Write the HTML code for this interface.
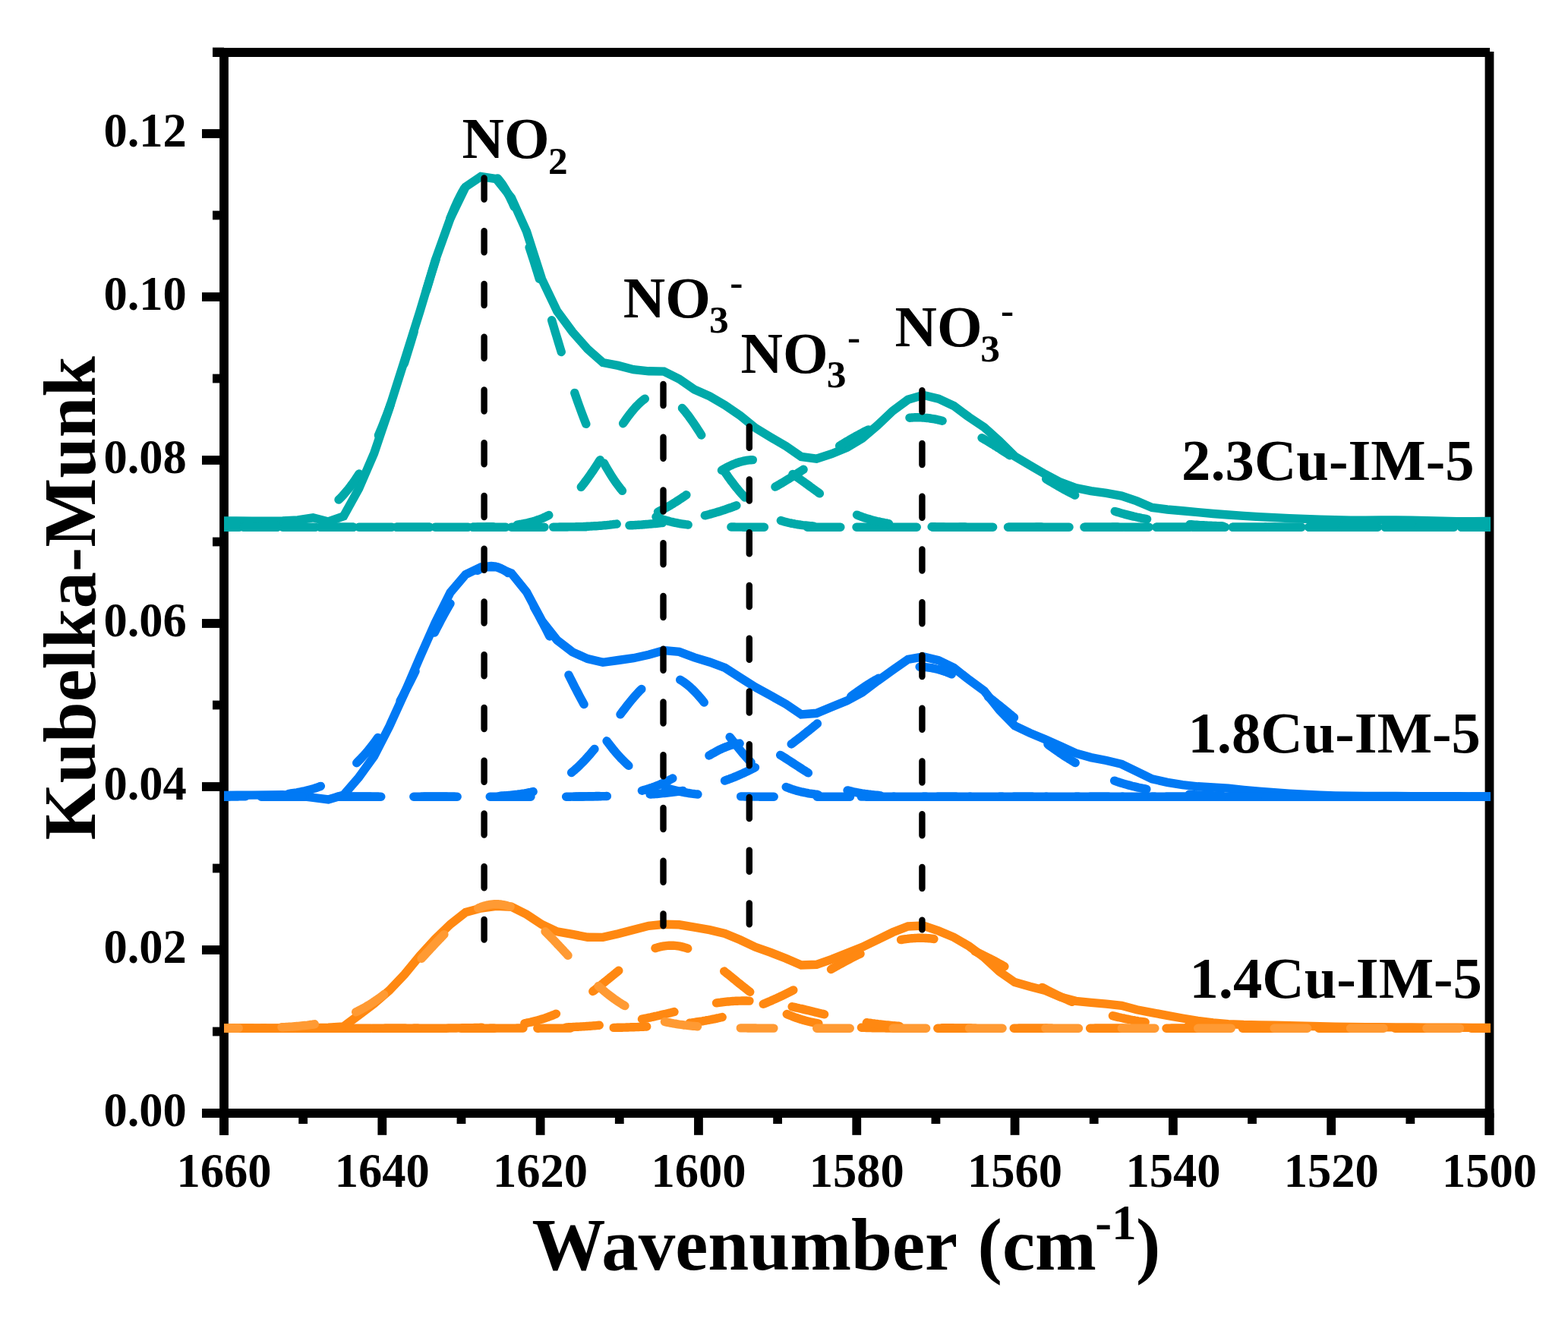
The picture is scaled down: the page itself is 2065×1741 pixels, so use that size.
<!DOCTYPE html>
<html><head><meta charset="utf-8"><title>Kubelka-Munk spectra</title><style>html,body{margin:0;padding:0;background:#fff;}svg{display:block;}</style></head><body>
<svg xmlns="http://www.w3.org/2000/svg" width="2065" height="1741" viewBox="0 0 2065 1741">
<rect width="2065" height="1741" fill="#fff"/>
<g stroke="#000" stroke-width="11.8" fill="none" stroke-linecap="butt">
<line x1="295" y1="63" x2="295" y2="1494.8"/>
<line x1="1961.5" y1="68" x2="1961.5" y2="1494.8"/>
<line x1="280" y1="69" x2="1962" y2="69"/>
<line x1="266" y1="1466" x2="1967.4" y2="1466"/>
<line x1="266" y1="1466.00" x2="295" y2="1466.00"/>
<line x1="280" y1="1358.50" x2="295" y2="1358.50"/>
<line x1="266" y1="1251.00" x2="295" y2="1251.00"/>
<line x1="280" y1="1143.50" x2="295" y2="1143.50"/>
<line x1="266" y1="1036.00" x2="295" y2="1036.00"/>
<line x1="280" y1="928.50" x2="295" y2="928.50"/>
<line x1="266" y1="821.00" x2="295" y2="821.00"/>
<line x1="280" y1="713.50" x2="295" y2="713.50"/>
<line x1="266" y1="606.00" x2="295" y2="606.00"/>
<line x1="280" y1="498.50" x2="295" y2="498.50"/>
<line x1="266" y1="391.00" x2="295" y2="391.00"/>
<line x1="280" y1="283.50" x2="295" y2="283.50"/>
<line x1="266" y1="176.00" x2="295" y2="176.00"/>
<line x1="280" y1="68.50" x2="295" y2="68.50"/>
<line x1="295.00" y1="1466" x2="295.00" y2="1494.8"/>
<line x1="399.16" y1="1466" x2="399.16" y2="1480"/>
<line x1="503.31" y1="1466" x2="503.31" y2="1494.8"/>
<line x1="607.47" y1="1466" x2="607.47" y2="1480"/>
<line x1="711.62" y1="1466" x2="711.62" y2="1494.8"/>
<line x1="815.78" y1="1466" x2="815.78" y2="1480"/>
<line x1="919.94" y1="1466" x2="919.94" y2="1494.8"/>
<line x1="1024.09" y1="1466" x2="1024.09" y2="1480"/>
<line x1="1128.25" y1="1466" x2="1128.25" y2="1494.8"/>
<line x1="1232.41" y1="1466" x2="1232.41" y2="1480"/>
<line x1="1336.56" y1="1466" x2="1336.56" y2="1494.8"/>
<line x1="1440.72" y1="1466" x2="1440.72" y2="1480"/>
<line x1="1544.88" y1="1466" x2="1544.88" y2="1494.8"/>
<line x1="1649.03" y1="1466" x2="1649.03" y2="1480"/>
<line x1="1753.19" y1="1466" x2="1753.19" y2="1494.8"/>
<line x1="1857.34" y1="1466" x2="1857.34" y2="1480"/>
<line x1="1961.50" y1="1466" x2="1961.50" y2="1494.8"/>
</g>
<g font-family="Liberation Serif, Times New Roman, serif" font-weight="bold" fill="#000">
<text x="245.8" y="1483.3" font-size="62.5" text-anchor="end">0.00</text>
<text x="245.8" y="1268.3" font-size="62.5" text-anchor="end">0.02</text>
<text x="245.8" y="1053.3" font-size="62.5" text-anchor="end">0.04</text>
<text x="245.8" y="838.3" font-size="62.5" text-anchor="end">0.06</text>
<text x="245.8" y="623.3" font-size="62.5" text-anchor="end">0.08</text>
<text x="245.8" y="408.3" font-size="62.5" text-anchor="end">0.10</text>
<text x="245.8" y="193.3" font-size="62.5" text-anchor="end">0.12</text>
<text x="295.0" y="1562.8" font-size="62.5" text-anchor="middle">1660</text>
<text x="503.3" y="1562.8" font-size="62.5" text-anchor="middle">1640</text>
<text x="711.6" y="1562.8" font-size="62.5" text-anchor="middle">1620</text>
<text x="919.9" y="1562.8" font-size="62.5" text-anchor="middle">1600</text>
<text x="1128.2" y="1562.8" font-size="62.5" text-anchor="middle">1580</text>
<text x="1336.6" y="1562.8" font-size="62.5" text-anchor="middle">1560</text>
<text x="1544.9" y="1562.8" font-size="62.5" text-anchor="middle">1540</text>
<text x="1753.2" y="1562.8" font-size="62.5" text-anchor="middle">1520</text>
<text x="1961.5" y="1562.8" font-size="62.5" text-anchor="middle">1500</text>
</g>
<defs><clipPath id="pc"><rect x="295" y="0" width="1668" height="1741"/></clipPath></defs>
<g clip-path="url(#pc)">
<path d="M295.0 686.0L311.8 686.0L331.9 686.1L352.0 686.1L372.1 685.9L392.2 685.0L412.3 681.8L432.4 686.9L452.5 679.8L472.6 643.5L492.6 597.1L512.7 537.8L532.8 474.4L552.9 410.4L573.0 343.5L593.1 287.5L613.2 246.0L633.3 232.5L653.4 235.5L673.5 260.5L693.5 304.9L713.6 367.6L733.7 409.7L753.8 437.0L773.9 459.7L794.0 477.5L814.1 481.4L834.2 486.7L854.3 488.8L874.4 489.1L894.5 499.1L914.5 512.9L934.6 521.8L954.7 533.5L974.8 547.4L994.9 563.6L1015.0 575.8L1035.1 587.5L1055.2 601.5L1075.3 604.1L1095.3 597.7L1115.4 589.4L1135.5 577.4L1155.6 560.2L1175.7 541.1L1195.8 526.3L1215.9 520.3L1236.0 525.1L1256.1 534.5L1276.2 549.4L1296.2 562.7L1316.3 580.8L1336.4 600.9L1356.5 612.9L1376.6 624.6L1396.7 635.2L1416.8 642.6L1436.9 646.6L1457.0 649.4L1477.1 653.1L1497.2 659.9L1517.2 668.4L1537.3 671.0L1557.4 672.8L1577.5 674.7L1597.6 676.5L1617.7 678.0L1637.8 679.4L1657.9 680.6L1678.0 681.6L1698.0 682.6L1718.1 683.4L1738.2 684.1L1758.3 684.7L1778.4 685.1L1798.5 685.1L1818.6 685.0L1838.7 684.9L1858.8 685.1L1878.9 685.6L1899.0 686.2L1919.0 686.6L1939.1 686.6L1959.2 686.5L1963.0 686.5" fill="none" stroke="#00A9A9" stroke-width="11.4" stroke-linejoin="miter" stroke-miterlimit="3" stroke-linecap="butt"/>
<path d="M381.0 689.5L383.0 689.2L385.0 688.8L387.0 688.4L389.0 688.0L391.0 687.5L393.0 687.1L395.0 686.6L397.0 686.0L399.0 685.4L401.0 684.8L403.0 684.2L405.0 683.5L407.0 682.8L409.0 682.0L411.0 681.2L413.0 680.4L415.0 679.5L417.0 678.6L419.0 677.6L421.0 676.5L423.0 675.4L425.0 674.3L427.0 673.1L429.0 671.8L431.0 670.4L433.0 669.0L435.0 667.6L437.0 666.0L439.0 664.4L441.0 662.7L443.0 660.9L445.0 659.1L447.0 657.2L449.0 655.2L451.0 653.1L453.0 650.9L455.0 648.6L457.0 646.2L459.0 643.8L461.0 641.2L463.0 638.5L465.0 635.8L467.0 632.9L469.0 629.9L471.0 626.9L473.0 623.7L475.0 620.4L477.0 617.0L479.0 613.5L481.0 609.8L483.0 606.1L485.0 602.3L487.0 598.3L489.0 594.2L491.0 590.0L493.0 585.7L495.0 581.2L497.0 576.7L499.0 572.0L501.0 567.2L503.0 562.4L505.0 557.3L507.0 552.2L509.0 547.0L511.0 541.7L513.0 536.2L515.0 530.7L517.0 525.0L519.0 519.3L521.0 513.5L523.0 507.5L525.0 501.5L527.0 495.4L529.0 489.3L531.0 483.0L533.0 476.7L535.0 470.3L537.0 463.9L539.0 457.4L541.0 450.8L543.0 444.2L545.0 437.6L547.0 431.0L549.0 424.3L551.0 417.6L553.0 410.9L555.0 404.2L557.0 397.5L559.0 390.8L561.0 384.2L563.0 377.5L565.0 371.0L567.0 364.4L569.0 357.9L571.0 351.5L573.0 345.1L575.0 338.9L577.0 332.7L579.0 326.6L581.0 320.6L583.0 314.7L585.0 309.0L587.0 303.4L589.0 297.9L591.0 292.5L593.0 287.4L595.0 282.3L597.0 277.5L599.0 272.8L601.0 268.3L603.0 264.0L605.0 259.9L607.0 256.0L609.0 252.3L611.0 248.9L613.0 245.6L615.0 242.6L617.0 239.8L619.0 237.2L621.0 234.9L623.0 232.9L625.0 231.0L627.0 229.5L629.0 228.1L631.0 227.1L633.0 226.3L635.0 225.7L637.0 225.4L639.0 225.4L641.0 225.7L643.0 226.1L645.0 226.9L647.0 227.9L649.0 229.2L651.0 230.7L653.0 232.5L655.0 234.5L657.0 236.8L659.0 239.3L661.0 242.0L663.0 245.0L665.0 248.2L667.0 251.6L669.0 255.3L671.0 259.1L673.0 263.2L675.0 267.4L677.0 271.9L679.0 276.5L681.0 281.4L683.0 286.3L685.0 291.5L687.0 296.8L689.0 302.3L691.0 307.8L693.0 313.6L695.0 319.4L697.0 325.4L699.0 331.5L701.0 337.6L703.0 343.9L705.0 350.2L707.0 356.6L709.0 363.1L711.0 369.6L713.0 376.2L715.0 382.8L717.0 389.5L719.0 396.2L721.0 402.9L723.0 409.6L725.0 416.3L727.0 423.0L729.0 429.6L731.0 436.3L733.0 442.9L735.0 449.5L737.0 456.1L739.0 462.6L741.0 469.0L743.0 475.4L745.0 481.8L747.0 488.0L749.0 494.2L751.0 500.3L753.0 506.3L755.0 512.3L757.0 518.1L759.0 523.9L761.0 529.6L763.0 535.1L765.0 540.6L767.0 545.9L769.0 551.2L771.0 556.3L773.0 561.4L775.0 566.3L777.0 571.1L779.0 575.8L781.0 580.3L783.0 584.8L785.0 589.1L787.0 593.4L789.0 597.5L791.0 601.5L793.0 605.3L795.0 609.1L797.0 612.8L799.0 616.3L801.0 619.7L803.0 623.0L805.0 626.2L807.0 629.3L809.0 632.3L811.0 635.2L813.0 638.0L815.0 640.7L817.0 643.3L819.0 645.7L821.0 648.1L823.0 650.4L825.0 652.6L827.0 654.7L829.0 656.8L831.0 658.7L833.0 660.6L835.0 662.4L837.0 664.1L839.0 665.7L841.0 667.3L843.0 668.7L845.0 670.2L847.0 671.5L849.0 672.8L851.0 674.0L853.0 675.2L855.0 676.3L857.0 677.4L859.0 678.4L861.0 679.3L863.0 680.2L865.0 681.1L867.0 681.9L869.0 682.7L871.0 683.4L873.0 684.1L875.0 684.7L877.0 685.3L879.0 685.9L881.0 686.4L883.0 687.0L885.0 687.4L887.0 687.9L889.0 688.3L891.0 688.7L893.0 689.1L895.0 689.5L897.0 689.8L899.0 690.1L901.0 690.4L903.0 690.7L905.0 690.9L907.0 691.2L909.0 691.4L911.0 691.6L913.0 691.8L915.0 692.0L917.0 692.2L919.0 692.3L921.0 692.5L923.0 692.6L925.0 692.7L927.0 692.9L929.0 693.0L931.0 693.1L933.0 693.2L935.0 693.3L937.0 693.3L939.0 693.4L941.0 693.5L943.0 693.6L945.0 693.6L947.0 693.7L949.0 693.7L951.0 693.8L953.0 693.8L955.0 693.9L957.0 693.9L959.0 693.9L961.0 694.0L963.0 694.0L965.0 694.0L967.0 694.0L969.0 694.1L971.0 694.1L973.0 694.1L975.0 694.1L977.0 694.1L979.0 694.2L981.0 694.2L983.0 694.2L985.0 694.2L987.0 694.2L989.0 694.2L991.0 694.2L993.0 694.2L995.0 694.2L997.0 694.2L999.0 694.2L1001.0 694.2L1003.0 694.3L1005.0 694.3L1007.0 694.3L1009.0 694.3L1011.0 694.3L1013.0 694.3L1015.0 694.3L1017.0 694.3L1019.0 694.3L1021.0 694.3L1023.0 694.3L1025.0 694.3L1027.0 694.3L1029.0 694.3L1031.0 694.3L1033.0 694.3L1035.0 694.3L1037.0 694.3L1039.0 694.3L1041.0 694.3L1043.0 694.3L1045.0 694.3L1047.0 694.3L1049.0 694.3L1051.0 694.3L1053.0 694.3L1055.0 694.3L1057.0 694.3L1059.0 694.3L1061.0 694.3L1063.0 694.3L1065.0 694.3L1067.0 694.3L1069.0 694.3L1071.0 694.3L1073.0 694.3L1075.0 694.3L1077.0 694.3L1079.0 694.3L1081.0 694.3L1083.0 694.3L1085.0 694.3L1087.0 694.3L1089.0 694.3L1091.0 694.3L1093.0 694.3L1095.0 694.3L1097.0 694.3L1099.0 694.3L1101.0 694.3L1103.0 694.3L1105.0 694.3L1107.0 694.3L1109.0 694.3L1111.0 694.3L1113.0 694.3L1115.0 694.3L1117.0 694.3L1119.0 694.3L1121.0 694.3L1123.0 694.3L1125.0 694.3L1127.0 694.3L1129.0 694.3L1131.0 694.3L1133.0 694.3L1135.0 694.3L1137.0 694.3L1139.0 694.3L1141.0 694.3L1143.0 694.3L1145.0 694.3L1147.0 694.3L1149.0 694.3L1151.0 694.3L1153.0 694.3L1155.0 694.3L1157.0 694.3L1159.0 694.3L1161.0 694.3L1163.0 694.3L1165.0 694.3L1167.0 694.3L1169.0 694.3L1171.0 694.3L1173.0 694.3L1175.0 694.3L1177.0 694.3L1179.0 694.3L1181.0 694.3L1183.0 694.3L1185.0 694.3L1187.0 694.3L1189.0 694.3L1191.0 694.3L1193.0 694.3L1195.0 694.3L1197.0 694.3L1199.0 694.3L1201.0 694.3L1203.0 694.3L1205.0 694.3L1207.0 694.3L1209.0 694.3L1211.0 694.3L1213.0 694.3L1215.0 694.3L1217.0 694.3L1219.0 694.3L1221.0 694.3L1223.0 694.3L1225.0 694.3L1227.0 694.3L1229.0 694.3L1231.0 694.3L1233.0 694.3L1235.0 694.3L1237.0 694.3L1239.0 694.3L1241.0 694.3L1243.0 694.3L1245.0 694.3L1247.0 694.3L1249.0 694.3L1251.0 694.3L1253.0 694.3L1255.0 694.3L1257.0 694.3L1259.0 694.3L1261.0 694.3L1263.0 694.3L1265.0 694.3L1267.0 694.3L1269.0 694.3L1271.0 694.3L1273.0 694.3L1275.0 694.3L1277.0 694.3L1279.0 694.3L1281.0 694.3L1283.0 694.3L1285.0 694.3L1287.0 694.3L1289.0 694.3L1291.0 694.3L1293.0 694.3L1295.0 694.3L1297.0 694.3L1299.0 694.3L1301.0 694.3L1303.0 694.3L1305.0 694.3L1307.0 694.3L1309.0 694.3L1311.0 694.3L1313.0 694.3L1315.0 694.3L1317.0 694.3L1319.0 694.3L1321.0 694.3L1323.0 694.3L1325.0 694.3L1327.0 694.3L1329.0 694.3L1331.0 694.3L1333.0 694.3L1335.0 694.3L1337.0 694.3L1339.0 694.3L1341.0 694.3L1343.0 694.3L1345.0 694.3L1347.0 694.3L1349.0 694.3L1351.0 694.3L1353.0 694.3L1355.0 694.3L1357.0 694.3L1359.0 694.3L1361.0 694.3L1363.0 694.3L1365.0 694.3L1367.0 694.3L1369.0 694.3L1371.0 694.3L1373.0 694.3L1375.0 694.3L1377.0 694.3L1379.0 694.3L1381.0 694.3L1383.0 694.3L1385.0 694.3L1387.0 694.3L1389.0 694.3L1391.0 694.3L1393.0 694.3L1395.0 694.3L1397.0 694.3L1399.0 694.3L1401.0 694.3L1403.0 694.3L1405.0 694.3L1407.0 694.3L1409.0 694.3L1411.0 694.3L1413.0 694.3L1415.0 694.3L1417.0 694.3L1419.0 694.3L1421.0 694.3L1423.0 694.3L1425.0 694.3L1427.0 694.3L1429.0 694.3L1431.0 694.3L1433.0 694.3L1435.0 694.3L1437.0 694.3L1439.0 694.3L1441.0 694.3L1443.0 694.3L1445.0 694.3L1447.0 694.3L1449.0 694.3L1451.0 694.3L1453.0 694.3L1455.0 694.3L1457.0 694.3L1459.0 694.3L1461.0 694.3L1463.0 694.3L1465.0 694.3L1467.0 694.3L1469.0 694.3L1471.0 694.3L1473.0 694.3L1475.0 694.3L1477.0 694.3L1479.0 694.3" fill="none" stroke="#00A9A9" stroke-width="11.4" stroke-linecap="round" stroke-linejoin="round" stroke-dasharray="43.6 56.8" stroke-dashoffset="27.01"/><path d="M295.0 694.2L297.0 694.2L299.0 694.1L301.0 694.1L303.0 694.1L305.0 694.1L307.0 694.1L309.0 694.0L311.0 694.0L313.0 694.0L315.0 694.0L317.0 693.9L319.0 693.9L321.0 693.9L323.0 693.8L325.0 693.8L327.0 693.7L329.0 693.7L331.0 693.6L333.0 693.6L335.0 693.5L337.0 693.4L339.0 693.4L341.0 693.3L343.0 693.2L345.0 693.1L347.0 693.0L349.0 692.9L351.0 692.8L353.0 692.6L355.0 692.5L357.0 692.4L359.0 692.2L361.0 692.0L363.0 691.8L365.0 691.7L367.0 691.4L369.0 691.2L371.0 691.0L373.0 690.7L375.0 690.5L377.0 690.2L379.0 689.9" fill="none" stroke="#00A9A9" stroke-width="11.4" stroke-linecap="round" stroke-linejoin="round" stroke-dasharray="43.6 56.8" stroke-dashoffset="75.40"/><path d="M1481.0 694.3L1483.0 694.3L1485.0 694.3L1487.0 694.3L1489.0 694.3L1491.0 694.3L1493.0 694.3L1495.0 694.3L1497.0 694.3L1499.0 694.3L1501.0 694.3L1503.0 694.3L1505.0 694.3L1507.0 694.3L1509.0 694.3L1511.0 694.3L1513.0 694.3L1515.0 694.3L1517.0 694.3L1519.0 694.3L1521.0 694.3L1523.0 694.3L1525.0 694.3L1527.0 694.3L1529.0 694.3L1531.0 694.3L1533.0 694.3L1535.0 694.3L1537.0 694.3L1539.0 694.3L1541.0 694.3L1543.0 694.3L1545.0 694.3L1547.0 694.3L1549.0 694.3L1551.0 694.3L1553.0 694.3L1555.0 694.3L1557.0 694.3L1559.0 694.3L1561.0 694.3L1563.0 694.3L1565.0 694.3L1567.0 694.3L1569.0 694.3L1571.0 694.3L1573.0 694.3L1575.0 694.3L1577.0 694.3L1579.0 694.3L1581.0 694.3L1583.0 694.3L1585.0 694.3L1587.0 694.3L1589.0 694.3L1591.0 694.3L1593.0 694.3L1595.0 694.3L1597.0 694.3L1599.0 694.3L1601.0 694.3L1603.0 694.3L1605.0 694.3L1607.0 694.3L1609.0 694.3L1611.0 694.3L1613.0 694.3L1615.0 694.3L1617.0 694.3L1619.0 694.3L1621.0 694.3L1623.0 694.3L1625.0 694.3L1627.0 694.3L1629.0 694.3L1631.0 694.3L1633.0 694.3L1635.0 694.3L1637.0 694.3L1639.0 694.3L1641.0 694.3L1643.0 694.3L1645.0 694.3L1647.0 694.3L1649.0 694.3L1651.0 694.3L1653.0 694.3L1655.0 694.3L1657.0 694.3L1659.0 694.3L1661.0 694.3L1663.0 694.3L1665.0 694.3L1667.0 694.3L1669.0 694.3L1671.0 694.3L1673.0 694.3L1675.0 694.3L1677.0 694.3L1679.0 694.3L1681.0 694.3L1683.0 694.3L1685.0 694.3L1687.0 694.3L1689.0 694.3L1691.0 694.3L1693.0 694.3L1695.0 694.3L1697.0 694.3L1699.0 694.3L1701.0 694.3L1703.0 694.3L1705.0 694.3L1707.0 694.3L1709.0 694.3L1711.0 694.3L1713.0 694.3L1715.0 694.3L1717.0 694.3L1719.0 694.3L1721.0 694.3L1723.0 694.3L1725.0 694.3L1727.0 694.3L1729.0 694.3L1731.0 694.3L1733.0 694.3L1735.0 694.3L1737.0 694.3L1739.0 694.3L1741.0 694.3L1743.0 694.3L1745.0 694.3L1747.0 694.3L1749.0 694.3L1751.0 694.3L1753.0 694.3L1755.0 694.3L1757.0 694.3L1759.0 694.3L1761.0 694.3L1763.0 694.3L1765.0 694.3L1767.0 694.3L1769.0 694.3L1771.0 694.3L1773.0 694.3L1775.0 694.3L1777.0 694.3L1779.0 694.3L1781.0 694.3L1783.0 694.3L1785.0 694.3L1787.0 694.3L1789.0 694.3L1791.0 694.3L1793.0 694.3L1795.0 694.3L1797.0 694.3L1799.0 694.3L1801.0 694.3L1803.0 694.3L1805.0 694.3L1807.0 694.3L1809.0 694.3L1811.0 694.3L1813.0 694.3L1815.0 694.3L1817.0 694.3L1819.0 694.3L1821.0 694.3L1823.0 694.3L1825.0 694.3L1827.0 694.3L1829.0 694.3L1831.0 694.3L1833.0 694.3L1835.0 694.3L1837.0 694.3L1839.0 694.3L1841.0 694.3L1843.0 694.3L1845.0 694.3L1847.0 694.3L1849.0 694.3L1851.0 694.3L1853.0 694.3L1855.0 694.3L1857.0 694.3L1859.0 694.3L1861.0 694.3L1863.0 694.3L1865.0 694.3L1867.0 694.3L1869.0 694.3L1871.0 694.3L1873.0 694.3L1875.0 694.3L1877.0 694.3L1879.0 694.3L1881.0 694.3L1883.0 694.3L1885.0 694.3L1887.0 694.3L1889.0 694.3L1891.0 694.3L1893.0 694.3L1895.0 694.3L1897.0 694.3L1899.0 694.3L1901.0 694.3L1903.0 694.3L1905.0 694.3L1907.0 694.3L1909.0 694.3L1911.0 694.3L1913.0 694.3L1915.0 694.3L1917.0 694.3L1919.0 694.3L1921.0 694.3L1923.0 694.3L1925.0 694.3L1927.0 694.3L1929.0 694.3L1931.0 694.3L1933.0 694.3L1935.0 694.3L1937.0 694.3L1939.0 694.3L1941.0 694.3L1943.0 694.3L1945.0 694.3L1947.0 694.3L1949.0 694.3L1951.0 694.3L1953.0 694.3L1955.0 694.3L1957.0 694.3L1959.0 694.3L1961.0 694.3L1963.0 694.3" fill="none" stroke="#00A9A9" stroke-width="11.4" stroke-linecap="round" stroke-linejoin="round" stroke-dasharray="43.6 56.8" stroke-dashoffset="58.50"/>
<path d="M651.0 693.5L653.0 693.4L655.0 693.3L657.0 693.2L659.0 693.1L661.0 693.0L663.0 692.9L665.0 692.7L667.0 692.6L669.0 692.4L671.0 692.2L673.0 692.0L675.0 691.8L677.0 691.6L679.0 691.4L681.0 691.1L683.0 690.8L685.0 690.5L687.0 690.2L689.0 689.8L691.0 689.4L693.0 689.0L695.0 688.6L697.0 688.1L699.0 687.6L701.0 687.1L703.0 686.5L705.0 685.9L707.0 685.2L709.0 684.5L711.0 683.8L713.0 683.0L715.0 682.2L717.0 681.3L719.0 680.4L721.0 679.4L723.0 678.4L725.0 677.3L727.0 676.2L729.0 675.0L731.0 673.7L733.0 672.4L735.0 671.0L737.0 669.5L739.0 668.0L741.0 666.4L743.0 664.7L745.0 663.0L747.0 661.2L749.0 659.3L751.0 657.4L753.0 655.4L755.0 653.3L757.0 651.1L759.0 648.9L761.0 646.6L763.0 644.2L765.0 641.8L767.0 639.3L769.0 636.7L771.0 634.0L773.0 631.3L775.0 628.5L777.0 625.7L779.0 622.8L781.0 619.9L783.0 616.9L785.0 613.9L787.0 610.8L789.0 607.7L791.0 604.5L793.0 601.4L795.0 598.2L797.0 595.0L799.0 591.7L801.0 588.5L803.0 585.3L805.0 582.0L807.0 578.8L809.0 575.6L811.0 572.4L813.0 569.3L815.0 566.2L817.0 563.1L819.0 560.1L821.0 557.1L823.0 554.2L825.0 551.4L827.0 548.7L829.0 546.0L831.0 543.4L833.0 541.0L835.0 538.6L837.0 536.3L839.0 534.2L841.0 532.2L843.0 530.3L845.0 528.5L847.0 526.9L849.0 525.4L851.0 524.0L853.0 522.8L855.0 521.8L857.0 520.9L859.0 520.2L861.0 519.6L863.0 519.2L865.0 518.9L867.0 518.8L869.0 518.9L871.0 519.1L873.0 519.5L875.0 520.0L877.0 520.7L879.0 521.6L881.0 522.6L883.0 523.8L885.0 525.1L887.0 526.6L889.0 528.2L891.0 529.9L893.0 531.8L895.0 533.8L897.0 535.9L899.0 538.1L901.0 540.5L903.0 542.9L905.0 545.5L907.0 548.1L909.0 550.9L911.0 553.7L913.0 556.6L915.0 559.5L917.0 562.5L919.0 565.6L921.0 568.7L923.0 571.8L925.0 575.0L927.0 578.2L929.0 581.4L931.0 584.6L933.0 587.9L935.0 591.1L937.0 594.3L939.0 597.5L941.0 600.7L943.0 603.9L945.0 607.1L947.0 610.2L949.0 613.3L951.0 616.3L953.0 619.3L955.0 622.2L957.0 625.1L959.0 628.0L961.0 630.8L963.0 633.5L965.0 636.1L967.0 638.7L969.0 641.3L971.0 643.7L973.0 646.1L975.0 648.4L977.0 650.7L979.0 652.9L981.0 655.0L983.0 657.0L985.0 659.0L987.0 660.8L989.0 662.7L991.0 664.4L993.0 666.1L995.0 667.7L997.0 669.2L999.0 670.7L1001.0 672.1L1003.0 673.4L1005.0 674.7L1007.0 675.9L1009.0 677.1L1011.0 678.2L1013.0 679.2L1015.0 680.2L1017.0 681.2L1019.0 682.0L1021.0 682.9L1023.0 683.7L1025.0 684.4L1027.0 685.1L1029.0 685.8L1031.0 686.4L1033.0 687.0L1035.0 687.5L1037.0 688.0L1039.0 688.5L1041.0 688.9L1043.0 689.4L1045.0 689.7L1047.0 690.1L1049.0 690.4L1051.0 690.8L1053.0 691.0L1055.0 691.3L1057.0 691.6L1059.0 691.8L1061.0 692.0L1063.0 692.2L1065.0 692.4L1067.0 692.6L1069.0 692.7L1071.0 692.9L1073.0 693.0L1075.0 693.1L1077.0 693.2L1079.0 693.3L1081.0 693.4L1083.0 693.5L1085.0 693.6L1087.0 693.6L1089.0 693.7L1091.0 693.8L1093.0 693.8L1095.0 693.9L1097.0 693.9L1099.0 693.9L1101.0 694.0L1103.0 694.0L1105.0 694.0L1107.0 694.1L1109.0 694.1L1111.0 694.1L1113.0 694.1L1115.0 694.2L1117.0 694.2L1119.0 694.2L1121.0 694.2L1123.0 694.2L1125.0 694.2L1127.0 694.2L1129.0 694.2L1131.0 694.2L1133.0 694.2L1135.0 694.3L1137.0 694.3L1139.0 694.3L1141.0 694.3L1143.0 694.3L1145.0 694.3L1147.0 694.3L1149.0 694.3L1151.0 694.3L1153.0 694.3L1155.0 694.3L1157.0 694.3L1159.0 694.3L1161.0 694.3L1163.0 694.3L1165.0 694.3L1167.0 694.3L1169.0 694.3L1171.0 694.3L1173.0 694.3L1175.0 694.3L1177.0 694.3L1179.0 694.3L1181.0 694.3L1183.0 694.3L1185.0 694.3L1187.0 694.3L1189.0 694.3L1191.0 694.3L1193.0 694.3L1195.0 694.3L1197.0 694.3L1199.0 694.3L1201.0 694.3L1203.0 694.3L1205.0 694.3L1207.0 694.3L1209.0 694.3L1211.0 694.3L1213.0 694.3L1215.0 694.3L1217.0 694.3L1219.0 694.3L1221.0 694.3L1223.0 694.3L1225.0 694.3L1227.0 694.3L1229.0 694.3L1231.0 694.3L1233.0 694.3L1235.0 694.3L1237.0 694.3L1239.0 694.3L1241.0 694.3L1243.0 694.3L1245.0 694.3L1247.0 694.3L1249.0 694.3L1251.0 694.3L1253.0 694.3L1255.0 694.3L1257.0 694.3L1259.0 694.3L1261.0 694.3L1263.0 694.3L1265.0 694.3L1267.0 694.3L1269.0 694.3L1271.0 694.3L1273.0 694.3L1275.0 694.3L1277.0 694.3L1279.0 694.3L1281.0 694.3L1283.0 694.3L1285.0 694.3L1287.0 694.3L1289.0 694.3L1291.0 694.3L1293.0 694.3L1295.0 694.3L1297.0 694.3L1299.0 694.3L1301.0 694.3L1303.0 694.3L1305.0 694.3L1307.0 694.3L1309.0 694.3L1311.0 694.3L1313.0 694.3L1315.0 694.3L1317.0 694.3L1319.0 694.3L1321.0 694.3L1323.0 694.3L1325.0 694.3L1327.0 694.3L1329.0 694.3L1331.0 694.3L1333.0 694.3L1335.0 694.3L1337.0 694.3L1339.0 694.3L1341.0 694.3L1343.0 694.3L1345.0 694.3L1347.0 694.3L1349.0 694.3L1351.0 694.3L1353.0 694.3L1355.0 694.3L1357.0 694.3L1359.0 694.3L1361.0 694.3L1363.0 694.3L1365.0 694.3L1367.0 694.3L1369.0 694.3L1371.0 694.3L1373.0 694.3L1375.0 694.3L1377.0 694.3L1379.0 694.3L1381.0 694.3L1383.0 694.3L1385.0 694.3L1387.0 694.3L1389.0 694.3L1391.0 694.3L1393.0 694.3L1395.0 694.3L1397.0 694.3L1399.0 694.3L1401.0 694.3L1403.0 694.3L1405.0 694.3L1407.0 694.3L1409.0 694.3L1411.0 694.3L1413.0 694.3L1415.0 694.3L1417.0 694.3L1419.0 694.3L1421.0 694.3L1423.0 694.3L1425.0 694.3L1427.0 694.3L1429.0 694.3L1431.0 694.3L1433.0 694.3L1435.0 694.3L1437.0 694.3L1439.0 694.3L1441.0 694.3L1443.0 694.3L1445.0 694.3L1447.0 694.3L1449.0 694.3L1451.0 694.3L1453.0 694.3L1455.0 694.3L1457.0 694.3L1459.0 694.3L1461.0 694.3L1463.0 694.3L1465.0 694.3L1467.0 694.3L1469.0 694.3L1471.0 694.3L1473.0 694.3L1475.0 694.3L1477.0 694.3L1479.0 694.3" fill="none" stroke="#00A9A9" stroke-width="11.4" stroke-linecap="round" stroke-linejoin="round" stroke-dasharray="43.6 56.8" stroke-dashoffset="70.01"/><path d="M295.0 694.3L297.0 694.3L299.0 694.3L301.0 694.3L303.0 694.3L305.0 694.3L307.0 694.3L309.0 694.3L311.0 694.3L313.0 694.3L315.0 694.3L317.0 694.3L319.0 694.3L321.0 694.3L323.0 694.3L325.0 694.3L327.0 694.3L329.0 694.3L331.0 694.3L333.0 694.3L335.0 694.3L337.0 694.3L339.0 694.3L341.0 694.3L343.0 694.3L345.0 694.3L347.0 694.3L349.0 694.3L351.0 694.3L353.0 694.3L355.0 694.3L357.0 694.3L359.0 694.3L361.0 694.3L363.0 694.3L365.0 694.3L367.0 694.3L369.0 694.3L371.0 694.3L373.0 694.3L375.0 694.3L377.0 694.3L379.0 694.3L381.0 694.3L383.0 694.3L385.0 694.3L387.0 694.3L389.0 694.3L391.0 694.3L393.0 694.3L395.0 694.3L397.0 694.3L399.0 694.3L401.0 694.3L403.0 694.3L405.0 694.3L407.0 694.3L409.0 694.3L411.0 694.3L413.0 694.3L415.0 694.3L417.0 694.3L419.0 694.3L421.0 694.3L423.0 694.3L425.0 694.3L427.0 694.3L429.0 694.3L431.0 694.3L433.0 694.3L435.0 694.3L437.0 694.3L439.0 694.3L441.0 694.3L443.0 694.3L445.0 694.3L447.0 694.3L449.0 694.3L451.0 694.3L453.0 694.3L455.0 694.3L457.0 694.3L459.0 694.3L461.0 694.3L463.0 694.3L465.0 694.3L467.0 694.3L469.0 694.3L471.0 694.3L473.0 694.3L475.0 694.3L477.0 694.3L479.0 694.3L481.0 694.3L483.0 694.3L485.0 694.3L487.0 694.3L489.0 694.3L491.0 694.3L493.0 694.3L495.0 694.3L497.0 694.3L499.0 694.3L501.0 694.3L503.0 694.3L505.0 694.3L507.0 694.3L509.0 694.3L511.0 694.3L513.0 694.3L515.0 694.3L517.0 694.3L519.0 694.3L521.0 694.3L523.0 694.3L525.0 694.3L527.0 694.3L529.0 694.3L531.0 694.3L533.0 694.3L535.0 694.3L537.0 694.3L539.0 694.3L541.0 694.3L543.0 694.3L545.0 694.3L547.0 694.3L549.0 694.3L551.0 694.3L553.0 694.3L555.0 694.3L557.0 694.3L559.0 694.3L561.0 694.3L563.0 694.3L565.0 694.3L567.0 694.3L569.0 694.3L571.0 694.3L573.0 694.3L575.0 694.3L577.0 694.3L579.0 694.3L581.0 694.3L583.0 694.3L585.0 694.3L587.0 694.3L589.0 694.3L591.0 694.3L593.0 694.3L595.0 694.3L597.0 694.3L599.0 694.3L601.0 694.3L603.0 694.2L605.0 694.2L607.0 694.2L609.0 694.2L611.0 694.2L613.0 694.2L615.0 694.2L617.0 694.2L619.0 694.2L621.0 694.1L623.0 694.1L625.0 694.1L627.0 694.1L629.0 694.0L631.0 694.0L633.0 694.0L635.0 694.0L637.0 693.9L639.0 693.9L641.0 693.8L643.0 693.8L645.0 693.7L647.0 693.7L649.0 693.6" fill="none" stroke="#00A9A9" stroke-width="11.4" stroke-linecap="round" stroke-linejoin="round" stroke-dasharray="43.6 56.8" stroke-dashoffset="74.00"/><path d="M1481.0 694.3L1483.0 694.3L1485.0 694.3L1487.0 694.3L1489.0 694.3L1491.0 694.3L1493.0 694.3L1495.0 694.3L1497.0 694.3L1499.0 694.3L1501.0 694.3L1503.0 694.3L1505.0 694.3L1507.0 694.3L1509.0 694.3L1511.0 694.3L1513.0 694.3L1515.0 694.3L1517.0 694.3L1519.0 694.3L1521.0 694.3L1523.0 694.3L1525.0 694.3L1527.0 694.3L1529.0 694.3L1531.0 694.3L1533.0 694.3L1535.0 694.3L1537.0 694.3L1539.0 694.3L1541.0 694.3L1543.0 694.3L1545.0 694.3L1547.0 694.3L1549.0 694.3L1551.0 694.3L1553.0 694.3L1555.0 694.3L1557.0 694.3L1559.0 694.3L1561.0 694.3L1563.0 694.3L1565.0 694.3L1567.0 694.3L1569.0 694.3L1571.0 694.3L1573.0 694.3L1575.0 694.3L1577.0 694.3L1579.0 694.3L1581.0 694.3L1583.0 694.3L1585.0 694.3L1587.0 694.3L1589.0 694.3L1591.0 694.3L1593.0 694.3L1595.0 694.3L1597.0 694.3L1599.0 694.3L1601.0 694.3L1603.0 694.3L1605.0 694.3L1607.0 694.3L1609.0 694.3L1611.0 694.3L1613.0 694.3L1615.0 694.3L1617.0 694.3L1619.0 694.3L1621.0 694.3L1623.0 694.3L1625.0 694.3L1627.0 694.3L1629.0 694.3L1631.0 694.3L1633.0 694.3L1635.0 694.3L1637.0 694.3L1639.0 694.3L1641.0 694.3L1643.0 694.3L1645.0 694.3L1647.0 694.3L1649.0 694.3L1651.0 694.3L1653.0 694.3L1655.0 694.3L1657.0 694.3L1659.0 694.3L1661.0 694.3L1663.0 694.3L1665.0 694.3L1667.0 694.3L1669.0 694.3L1671.0 694.3L1673.0 694.3L1675.0 694.3L1677.0 694.3L1679.0 694.3L1681.0 694.3L1683.0 694.3L1685.0 694.3L1687.0 694.3L1689.0 694.3L1691.0 694.3L1693.0 694.3L1695.0 694.3L1697.0 694.3L1699.0 694.3L1701.0 694.3L1703.0 694.3L1705.0 694.3L1707.0 694.3L1709.0 694.3L1711.0 694.3L1713.0 694.3L1715.0 694.3L1717.0 694.3L1719.0 694.3L1721.0 694.3L1723.0 694.3L1725.0 694.3L1727.0 694.3L1729.0 694.3L1731.0 694.3L1733.0 694.3L1735.0 694.3L1737.0 694.3L1739.0 694.3L1741.0 694.3L1743.0 694.3L1745.0 694.3L1747.0 694.3L1749.0 694.3L1751.0 694.3L1753.0 694.3L1755.0 694.3L1757.0 694.3L1759.0 694.3L1761.0 694.3L1763.0 694.3L1765.0 694.3L1767.0 694.3L1769.0 694.3L1771.0 694.3L1773.0 694.3L1775.0 694.3L1777.0 694.3L1779.0 694.3L1781.0 694.3L1783.0 694.3L1785.0 694.3L1787.0 694.3L1789.0 694.3L1791.0 694.3L1793.0 694.3L1795.0 694.3L1797.0 694.3L1799.0 694.3L1801.0 694.3L1803.0 694.3L1805.0 694.3L1807.0 694.3L1809.0 694.3L1811.0 694.3L1813.0 694.3L1815.0 694.3L1817.0 694.3L1819.0 694.3L1821.0 694.3L1823.0 694.3L1825.0 694.3L1827.0 694.3L1829.0 694.3L1831.0 694.3L1833.0 694.3L1835.0 694.3L1837.0 694.3L1839.0 694.3L1841.0 694.3L1843.0 694.3L1845.0 694.3L1847.0 694.3L1849.0 694.3L1851.0 694.3L1853.0 694.3L1855.0 694.3L1857.0 694.3L1859.0 694.3L1861.0 694.3L1863.0 694.3L1865.0 694.3L1867.0 694.3L1869.0 694.3L1871.0 694.3L1873.0 694.3L1875.0 694.3L1877.0 694.3L1879.0 694.3L1881.0 694.3L1883.0 694.3L1885.0 694.3L1887.0 694.3L1889.0 694.3L1891.0 694.3L1893.0 694.3L1895.0 694.3L1897.0 694.3L1899.0 694.3L1901.0 694.3L1903.0 694.3L1905.0 694.3L1907.0 694.3L1909.0 694.3L1911.0 694.3L1913.0 694.3L1915.0 694.3L1917.0 694.3L1919.0 694.3L1921.0 694.3L1923.0 694.3L1925.0 694.3L1927.0 694.3L1929.0 694.3L1931.0 694.3L1933.0 694.3L1935.0 694.3L1937.0 694.3L1939.0 694.3L1941.0 694.3L1943.0 694.3L1945.0 694.3L1947.0 694.3L1949.0 694.3L1951.0 694.3L1953.0 694.3L1955.0 694.3L1957.0 694.3L1959.0 694.3L1961.0 694.3L1963.0 694.3" fill="none" stroke="#00A9A9" stroke-width="11.4" stroke-linecap="round" stroke-linejoin="round" stroke-dasharray="43.6 56.8" stroke-dashoffset="11.30"/>
<path d="M751.0 693.9L753.0 693.9L755.0 693.8L757.0 693.8L759.0 693.7L761.0 693.7L763.0 693.6L765.0 693.6L767.0 693.5L769.0 693.4L771.0 693.4L773.0 693.3L775.0 693.2L777.0 693.1L779.0 693.0L781.0 692.9L783.0 692.8L785.0 692.7L787.0 692.6L789.0 692.4L791.0 692.3L793.0 692.1L795.0 691.9L797.0 691.8L799.0 691.6L801.0 691.4L803.0 691.2L805.0 690.9L807.0 690.7L809.0 690.4L811.0 690.2L813.0 689.9L815.0 689.6L817.0 689.3L819.0 688.9L821.0 688.6L823.0 688.2L825.0 687.8L827.0 687.4L829.0 686.9L831.0 686.5L833.0 686.0L835.0 685.5L837.0 685.0L839.0 684.4L841.0 683.8L843.0 683.2L845.0 682.6L847.0 682.0L849.0 681.3L851.0 680.6L853.0 679.8L855.0 679.1L857.0 678.3L859.0 677.5L861.0 676.6L863.0 675.7L865.0 674.8L867.0 673.9L869.0 672.9L871.0 671.9L873.0 670.9L875.0 669.9L877.0 668.8L879.0 667.7L881.0 666.5L883.0 665.4L885.0 664.2L887.0 662.9L889.0 661.7L891.0 660.4L893.0 659.1L895.0 657.8L897.0 656.5L899.0 655.1L901.0 653.8L903.0 652.4L905.0 651.0L907.0 649.6L909.0 648.1L911.0 646.7L913.0 645.2L915.0 643.8L917.0 642.3L919.0 640.9L921.0 639.4L923.0 637.9L925.0 636.5L927.0 635.0L929.0 633.6L931.0 632.2L933.0 630.7L935.0 629.3L937.0 627.9L939.0 626.6L941.0 625.2L943.0 623.9L945.0 622.6L947.0 621.4L949.0 620.2L951.0 619.0L953.0 617.8L955.0 616.7L957.0 615.6L959.0 614.6L961.0 613.6L963.0 612.7L965.0 611.8L967.0 611.0L969.0 610.2L971.0 609.5L973.0 608.8L975.0 608.2L977.0 607.7L979.0 607.2L981.0 606.8L983.0 606.4L985.0 606.1L987.0 605.9L989.0 605.7L991.0 605.6L993.0 605.6L995.0 605.6L997.0 605.7L999.0 605.9L1001.0 606.1L1003.0 606.4L1005.0 606.8L1007.0 607.2L1009.0 607.7L1011.0 608.2L1013.0 608.8L1015.0 609.5L1017.0 610.2L1019.0 611.0L1021.0 611.8L1023.0 612.7L1025.0 613.6L1027.0 614.6L1029.0 615.6L1031.0 616.7L1033.0 617.8L1035.0 619.0L1037.0 620.2L1039.0 621.4L1041.0 622.6L1043.0 623.9L1045.0 625.2L1047.0 626.6L1049.0 627.9L1051.0 629.3L1053.0 630.7L1055.0 632.2L1057.0 633.6L1059.0 635.0L1061.0 636.5L1063.0 637.9L1065.0 639.4L1067.0 640.9L1069.0 642.3L1071.0 643.8L1073.0 645.2L1075.0 646.7L1077.0 648.1L1079.0 649.6L1081.0 651.0L1083.0 652.4L1085.0 653.8L1087.0 655.1L1089.0 656.5L1091.0 657.8L1093.0 659.1L1095.0 660.4L1097.0 661.7L1099.0 662.9L1101.0 664.2L1103.0 665.4L1105.0 666.5L1107.0 667.7L1109.0 668.8L1111.0 669.9L1113.0 670.9L1115.0 671.9L1117.0 672.9L1119.0 673.9L1121.0 674.8L1123.0 675.7L1125.0 676.6L1127.0 677.5L1129.0 678.3L1131.0 679.1L1133.0 679.8L1135.0 680.6L1137.0 681.3L1139.0 682.0L1141.0 682.6L1143.0 683.2L1145.0 683.8L1147.0 684.4L1149.0 685.0L1151.0 685.5L1153.0 686.0L1155.0 686.5L1157.0 686.9L1159.0 687.4L1161.0 687.8L1163.0 688.2L1165.0 688.6L1167.0 688.9L1169.0 689.3L1171.0 689.6L1173.0 689.9L1175.0 690.2L1177.0 690.4L1179.0 690.7L1181.0 690.9L1183.0 691.2L1185.0 691.4L1187.0 691.6L1189.0 691.8L1191.0 691.9L1193.0 692.1L1195.0 692.3L1197.0 692.4L1199.0 692.6L1201.0 692.7L1203.0 692.8L1205.0 692.9L1207.0 693.0L1209.0 693.1L1211.0 693.2L1213.0 693.3L1215.0 693.4L1217.0 693.4L1219.0 693.5L1221.0 693.6L1223.0 693.6L1225.0 693.7L1227.0 693.7L1229.0 693.8L1231.0 693.8L1233.0 693.9L1235.0 693.9L1237.0 693.9L1239.0 694.0L1241.0 694.0L1243.0 694.0L1245.0 694.1L1247.0 694.1L1249.0 694.1L1251.0 694.1L1253.0 694.1L1255.0 694.1L1257.0 694.2L1259.0 694.2L1261.0 694.2L1263.0 694.2L1265.0 694.2L1267.0 694.2L1269.0 694.2L1271.0 694.2L1273.0 694.2L1275.0 694.2L1277.0 694.2L1279.0 694.3L1281.0 694.3L1283.0 694.3L1285.0 694.3L1287.0 694.3L1289.0 694.3L1291.0 694.3L1293.0 694.3L1295.0 694.3L1297.0 694.3L1299.0 694.3L1301.0 694.3L1303.0 694.3L1305.0 694.3L1307.0 694.3L1309.0 694.3L1311.0 694.3L1313.0 694.3L1315.0 694.3L1317.0 694.3L1319.0 694.3L1321.0 694.3L1323.0 694.3L1325.0 694.3L1327.0 694.3L1329.0 694.3L1331.0 694.3L1333.0 694.3L1335.0 694.3L1337.0 694.3L1339.0 694.3L1341.0 694.3L1343.0 694.3L1345.0 694.3L1347.0 694.3L1349.0 694.3L1351.0 694.3L1353.0 694.3L1355.0 694.3L1357.0 694.3L1359.0 694.3L1361.0 694.3L1363.0 694.3L1365.0 694.3L1367.0 694.3L1369.0 694.3L1371.0 694.3L1373.0 694.3L1375.0 694.3L1377.0 694.3L1379.0 694.3L1381.0 694.3L1383.0 694.3L1385.0 694.3L1387.0 694.3L1389.0 694.3L1391.0 694.3L1393.0 694.3L1395.0 694.3L1397.0 694.3L1399.0 694.3L1401.0 694.3L1403.0 694.3L1405.0 694.3L1407.0 694.3L1409.0 694.3L1411.0 694.3L1413.0 694.3L1415.0 694.3L1417.0 694.3L1419.0 694.3L1421.0 694.3L1423.0 694.3L1425.0 694.3L1427.0 694.3L1429.0 694.3L1431.0 694.3L1433.0 694.3L1435.0 694.3L1437.0 694.3L1439.0 694.3L1441.0 694.3L1443.0 694.3L1445.0 694.3L1447.0 694.3L1449.0 694.3L1451.0 694.3L1453.0 694.3L1455.0 694.3L1457.0 694.3L1459.0 694.3L1461.0 694.3L1463.0 694.3L1465.0 694.3L1467.0 694.3L1469.0 694.3L1471.0 694.3L1473.0 694.3L1475.0 694.3L1477.0 694.3L1479.0 694.3" fill="none" stroke="#00A9A9" stroke-width="11.4" stroke-linecap="round" stroke-linejoin="round" stroke-dasharray="43.6 56.8" stroke-dashoffset="82.60"/><path d="M295.0 694.3L297.0 694.3L299.0 694.3L301.0 694.3L303.0 694.3L305.0 694.3L307.0 694.3L309.0 694.3L311.0 694.3L313.0 694.3L315.0 694.3L317.0 694.3L319.0 694.3L321.0 694.3L323.0 694.3L325.0 694.3L327.0 694.3L329.0 694.3L331.0 694.3L333.0 694.3L335.0 694.3L337.0 694.3L339.0 694.3L341.0 694.3L343.0 694.3L345.0 694.3L347.0 694.3L349.0 694.3L351.0 694.3L353.0 694.3L355.0 694.3L357.0 694.3L359.0 694.3L361.0 694.3L363.0 694.3L365.0 694.3L367.0 694.3L369.0 694.3L371.0 694.3L373.0 694.3L375.0 694.3L377.0 694.3L379.0 694.3L381.0 694.3L383.0 694.3L385.0 694.3L387.0 694.3L389.0 694.3L391.0 694.3L393.0 694.3L395.0 694.3L397.0 694.3L399.0 694.3L401.0 694.3L403.0 694.3L405.0 694.3L407.0 694.3L409.0 694.3L411.0 694.3L413.0 694.3L415.0 694.3L417.0 694.3L419.0 694.3L421.0 694.3L423.0 694.3L425.0 694.3L427.0 694.3L429.0 694.3L431.0 694.3L433.0 694.3L435.0 694.3L437.0 694.3L439.0 694.3L441.0 694.3L443.0 694.3L445.0 694.3L447.0 694.3L449.0 694.3L451.0 694.3L453.0 694.3L455.0 694.3L457.0 694.3L459.0 694.3L461.0 694.3L463.0 694.3L465.0 694.3L467.0 694.3L469.0 694.3L471.0 694.3L473.0 694.3L475.0 694.3L477.0 694.3L479.0 694.3L481.0 694.3L483.0 694.3L485.0 694.3L487.0 694.3L489.0 694.3L491.0 694.3L493.0 694.3L495.0 694.3L497.0 694.3L499.0 694.3L501.0 694.3L503.0 694.3L505.0 694.3L507.0 694.3L509.0 694.3L511.0 694.3L513.0 694.3L515.0 694.3L517.0 694.3L519.0 694.3L521.0 694.3L523.0 694.3L525.0 694.3L527.0 694.3L529.0 694.3L531.0 694.3L533.0 694.3L535.0 694.3L537.0 694.3L539.0 694.3L541.0 694.3L543.0 694.3L545.0 694.3L547.0 694.3L549.0 694.3L551.0 694.3L553.0 694.3L555.0 694.3L557.0 694.3L559.0 694.3L561.0 694.3L563.0 694.3L565.0 694.3L567.0 694.3L569.0 694.3L571.0 694.3L573.0 694.3L575.0 694.3L577.0 694.3L579.0 694.3L581.0 694.3L583.0 694.3L585.0 694.3L587.0 694.3L589.0 694.3L591.0 694.3L593.0 694.3L595.0 694.3L597.0 694.3L599.0 694.3L601.0 694.3L603.0 694.3L605.0 694.3L607.0 694.3L609.0 694.3L611.0 694.3L613.0 694.3L615.0 694.3L617.0 694.3L619.0 694.3L621.0 694.3L623.0 694.3L625.0 694.3L627.0 694.3L629.0 694.3L631.0 694.3L633.0 694.3L635.0 694.3L637.0 694.3L639.0 694.3L641.0 694.3L643.0 694.3L645.0 694.3L647.0 694.3L649.0 694.3L651.0 694.3L653.0 694.3L655.0 694.3L657.0 694.3L659.0 694.3L661.0 694.3L663.0 694.3L665.0 694.3L667.0 694.3L669.0 694.3L671.0 694.3L673.0 694.3L675.0 694.3L677.0 694.3L679.0 694.3L681.0 694.3L683.0 694.3L685.0 694.3L687.0 694.3L689.0 694.3L691.0 694.3L693.0 694.3L695.0 694.3L697.0 694.3L699.0 694.3L701.0 694.3L703.0 694.3L705.0 694.3L707.0 694.3L709.0 694.2L711.0 694.2L713.0 694.2L715.0 694.2L717.0 694.2L719.0 694.2L721.0 694.2L723.0 694.2L725.0 694.2L727.0 694.2L729.0 694.2L731.0 694.1L733.0 694.1L735.0 694.1L737.0 694.1L739.0 694.1L741.0 694.1L743.0 694.0L745.0 694.0L747.0 694.0L749.0 693.9" fill="none" stroke="#00A9A9" stroke-width="11.4" stroke-linecap="round" stroke-linejoin="round" stroke-dasharray="43.6 56.8" stroke-dashoffset="23.20"/><path d="M1481.0 694.3L1483.0 694.3L1485.0 694.3L1487.0 694.3L1489.0 694.3L1491.0 694.3L1493.0 694.3L1495.0 694.3L1497.0 694.3L1499.0 694.3L1501.0 694.3L1503.0 694.3L1505.0 694.3L1507.0 694.3L1509.0 694.3L1511.0 694.3L1513.0 694.3L1515.0 694.3L1517.0 694.3L1519.0 694.3L1521.0 694.3L1523.0 694.3L1525.0 694.3L1527.0 694.3L1529.0 694.3L1531.0 694.3L1533.0 694.3L1535.0 694.3L1537.0 694.3L1539.0 694.3L1541.0 694.3L1543.0 694.3L1545.0 694.3L1547.0 694.3L1549.0 694.3L1551.0 694.3L1553.0 694.3L1555.0 694.3L1557.0 694.3L1559.0 694.3L1561.0 694.3L1563.0 694.3L1565.0 694.3L1567.0 694.3L1569.0 694.3L1571.0 694.3L1573.0 694.3L1575.0 694.3L1577.0 694.3L1579.0 694.3L1581.0 694.3L1583.0 694.3L1585.0 694.3L1587.0 694.3L1589.0 694.3L1591.0 694.3L1593.0 694.3L1595.0 694.3L1597.0 694.3L1599.0 694.3L1601.0 694.3L1603.0 694.3L1605.0 694.3L1607.0 694.3L1609.0 694.3L1611.0 694.3L1613.0 694.3L1615.0 694.3L1617.0 694.3L1619.0 694.3L1621.0 694.3L1623.0 694.3L1625.0 694.3L1627.0 694.3L1629.0 694.3L1631.0 694.3L1633.0 694.3L1635.0 694.3L1637.0 694.3L1639.0 694.3L1641.0 694.3L1643.0 694.3L1645.0 694.3L1647.0 694.3L1649.0 694.3L1651.0 694.3L1653.0 694.3L1655.0 694.3L1657.0 694.3L1659.0 694.3L1661.0 694.3L1663.0 694.3L1665.0 694.3L1667.0 694.3L1669.0 694.3L1671.0 694.3L1673.0 694.3L1675.0 694.3L1677.0 694.3L1679.0 694.3L1681.0 694.3L1683.0 694.3L1685.0 694.3L1687.0 694.3L1689.0 694.3L1691.0 694.3L1693.0 694.3L1695.0 694.3L1697.0 694.3L1699.0 694.3L1701.0 694.3L1703.0 694.3L1705.0 694.3L1707.0 694.3L1709.0 694.3L1711.0 694.3L1713.0 694.3L1715.0 694.3L1717.0 694.3L1719.0 694.3L1721.0 694.3L1723.0 694.3L1725.0 694.3L1727.0 694.3L1729.0 694.3L1731.0 694.3L1733.0 694.3L1735.0 694.3L1737.0 694.3L1739.0 694.3L1741.0 694.3L1743.0 694.3L1745.0 694.3L1747.0 694.3L1749.0 694.3L1751.0 694.3L1753.0 694.3L1755.0 694.3L1757.0 694.3L1759.0 694.3L1761.0 694.3L1763.0 694.3L1765.0 694.3L1767.0 694.3L1769.0 694.3L1771.0 694.3L1773.0 694.3L1775.0 694.3L1777.0 694.3L1779.0 694.3L1781.0 694.3L1783.0 694.3L1785.0 694.3L1787.0 694.3L1789.0 694.3L1791.0 694.3L1793.0 694.3L1795.0 694.3L1797.0 694.3L1799.0 694.3L1801.0 694.3L1803.0 694.3L1805.0 694.3L1807.0 694.3L1809.0 694.3L1811.0 694.3L1813.0 694.3L1815.0 694.3L1817.0 694.3L1819.0 694.3L1821.0 694.3L1823.0 694.3L1825.0 694.3L1827.0 694.3L1829.0 694.3L1831.0 694.3L1833.0 694.3L1835.0 694.3L1837.0 694.3L1839.0 694.3L1841.0 694.3L1843.0 694.3L1845.0 694.3L1847.0 694.3L1849.0 694.3L1851.0 694.3L1853.0 694.3L1855.0 694.3L1857.0 694.3L1859.0 694.3L1861.0 694.3L1863.0 694.3L1865.0 694.3L1867.0 694.3L1869.0 694.3L1871.0 694.3L1873.0 694.3L1875.0 694.3L1877.0 694.3L1879.0 694.3L1881.0 694.3L1883.0 694.3L1885.0 694.3L1887.0 694.3L1889.0 694.3L1891.0 694.3L1893.0 694.3L1895.0 694.3L1897.0 694.3L1899.0 694.3L1901.0 694.3L1903.0 694.3L1905.0 694.3L1907.0 694.3L1909.0 694.3L1911.0 694.3L1913.0 694.3L1915.0 694.3L1917.0 694.3L1919.0 694.3L1921.0 694.3L1923.0 694.3L1925.0 694.3L1927.0 694.3L1929.0 694.3L1931.0 694.3L1933.0 694.3L1935.0 694.3L1937.0 694.3L1939.0 694.3L1941.0 694.3L1943.0 694.3L1945.0 694.3L1947.0 694.3L1949.0 694.3L1951.0 694.3L1953.0 694.3L1955.0 694.3L1957.0 694.3L1959.0 694.3L1961.0 694.3L1963.0 694.3" fill="none" stroke="#00A9A9" stroke-width="11.4" stroke-linecap="round" stroke-linejoin="round" stroke-dasharray="43.6 56.8" stroke-dashoffset="58.50"/>
<path d="M701.0 694.2L703.0 694.2L705.0 694.2L707.0 694.2L709.0 694.2L711.0 694.2L713.0 694.2L715.0 694.2L717.0 694.2L719.0 694.1L721.0 694.1L723.0 694.1L725.0 694.1L727.0 694.1L729.0 694.1L731.0 694.1L733.0 694.1L735.0 694.1L737.0 694.0L739.0 694.0L741.0 694.0L743.0 694.0L745.0 694.0L747.0 694.0L749.0 693.9L751.0 693.9L753.0 693.9L755.0 693.9L757.0 693.9L759.0 693.8L761.0 693.8L763.0 693.8L765.0 693.8L767.0 693.7L769.0 693.7L771.0 693.7L773.0 693.7L775.0 693.6L777.0 693.6L779.0 693.5L781.0 693.5L783.0 693.5L785.0 693.4L787.0 693.4L789.0 693.3L791.0 693.3L793.0 693.2L795.0 693.2L797.0 693.1L799.0 693.1L801.0 693.0L803.0 693.0L805.0 692.9L807.0 692.8L809.0 692.8L811.0 692.7L813.0 692.6L815.0 692.6L817.0 692.5L819.0 692.4L821.0 692.3L823.0 692.2L825.0 692.1L827.0 692.0L829.0 691.9L831.0 691.8L833.0 691.7L835.0 691.6L837.0 691.5L839.0 691.4L841.0 691.2L843.0 691.1L845.0 691.0L847.0 690.8L849.0 690.7L851.0 690.5L853.0 690.4L855.0 690.2L857.0 690.0L859.0 689.9L861.0 689.7L863.0 689.5L865.0 689.3L867.0 689.1L869.0 688.9L871.0 688.7L873.0 688.5L875.0 688.2L877.0 688.0L879.0 687.8L881.0 687.5L883.0 687.2L885.0 687.0L887.0 686.7L889.0 686.4L891.0 686.1L893.0 685.8L895.0 685.5L897.0 685.2L899.0 684.9L901.0 684.5L903.0 684.2L905.0 683.8L907.0 683.5L909.0 683.1L911.0 682.7L913.0 682.3L915.0 681.9L917.0 681.5L919.0 681.0L921.0 680.6L923.0 680.1L925.0 679.7L927.0 679.2L929.0 678.7L931.0 678.2L933.0 677.7L935.0 677.1L937.0 676.6L939.0 676.0L941.0 675.5L943.0 674.9L945.0 674.3L947.0 673.7L949.0 673.1L951.0 672.4L953.0 671.8L955.0 671.1L957.0 670.4L959.0 669.7L961.0 669.0L963.0 668.3L965.0 667.6L967.0 666.8L969.0 666.1L971.0 665.3L973.0 664.5L975.0 663.7L977.0 662.9L979.0 662.0L981.0 661.2L983.0 660.3L985.0 659.4L987.0 658.5L989.0 657.6L991.0 656.7L993.0 655.8L995.0 654.8L997.0 653.8L999.0 652.9L1001.0 651.9L1003.0 650.8L1005.0 649.8L1007.0 648.8L1009.0 647.7L1011.0 646.7L1013.0 645.6L1015.0 644.5L1017.0 643.4L1019.0 642.3L1021.0 641.1L1023.0 640.0L1025.0 638.8L1027.0 637.7L1029.0 636.5L1031.0 635.3L1033.0 634.1L1035.0 632.9L1037.0 631.7L1039.0 630.5L1041.0 629.2L1043.0 628.0L1045.0 626.7L1047.0 625.5L1049.0 624.2L1051.0 622.9L1053.0 621.6L1055.0 620.3L1057.0 619.0L1059.0 617.7L1061.0 616.4L1063.0 615.1L1065.0 613.8L1067.0 612.5L1069.0 611.2L1071.0 609.8L1073.0 608.5L1075.0 607.2L1077.0 605.9L1079.0 604.5L1081.0 603.2L1083.0 601.9L1085.0 600.6L1087.0 599.3L1089.0 597.9L1091.0 596.6L1093.0 595.3L1095.0 594.0L1097.0 592.7L1099.0 591.5L1101.0 590.2L1103.0 588.9L1105.0 587.6L1107.0 586.4L1109.0 585.1L1111.0 583.9L1113.0 582.7L1115.0 581.5L1117.0 580.3L1119.0 579.1L1121.0 578.0L1123.0 576.8L1125.0 575.7L1127.0 574.6L1129.0 573.5L1131.0 572.4L1133.0 571.3L1135.0 570.3L1137.0 569.2L1139.0 568.2L1141.0 567.2L1143.0 566.3L1145.0 565.3L1147.0 564.4L1149.0 563.5L1151.0 562.7L1153.0 561.8L1155.0 561.0L1157.0 560.2L1159.0 559.4L1161.0 558.7L1163.0 558.0L1165.0 557.3L1167.0 556.6L1169.0 556.0L1171.0 555.4L1173.0 554.8L1175.0 554.3L1177.0 553.7L1179.0 553.3L1181.0 552.8L1183.0 552.4L1185.0 552.0L1187.0 551.6L1189.0 551.3L1191.0 551.0L1193.0 550.7L1195.0 550.5L1197.0 550.3L1199.0 550.1L1201.0 550.0L1203.0 549.9L1205.0 549.8L1207.0 549.8L1209.0 549.8L1211.0 549.8L1213.0 549.9L1215.0 550.0L1217.0 550.1L1219.0 550.3L1221.0 550.5L1223.0 550.7L1225.0 551.0L1227.0 551.3L1229.0 551.6L1231.0 551.9L1233.0 552.3L1235.0 552.8L1237.0 553.2L1239.0 553.7L1241.0 554.2L1243.0 554.7L1245.0 555.3L1247.0 555.9L1249.0 556.5L1251.0 557.2L1253.0 557.9L1255.0 558.6L1257.0 559.3L1259.0 560.1L1261.0 560.9L1263.0 561.7L1265.0 562.6L1267.0 563.4L1269.0 564.3L1271.0 565.2L1273.0 566.2L1275.0 567.1L1277.0 568.1L1279.0 569.1L1281.0 570.2L1283.0 571.2L1285.0 572.3L1287.0 573.3L1289.0 574.4L1291.0 575.6L1293.0 576.7L1295.0 577.8L1297.0 579.0L1299.0 580.2L1301.0 581.4L1303.0 582.6L1305.0 583.8L1307.0 585.0L1309.0 586.3L1311.0 587.5L1313.0 588.8L1315.0 590.0L1317.0 591.3L1319.0 592.6L1321.0 593.9L1323.0 595.2L1325.0 596.5L1327.0 597.8L1329.0 599.1L1331.0 600.4L1333.0 601.8L1335.0 603.1L1337.0 604.4L1339.0 605.7L1341.0 607.1L1343.0 608.4L1345.0 609.7L1347.0 611.0L1349.0 612.3L1351.0 613.7L1353.0 615.0L1355.0 616.3L1357.0 617.6L1359.0 618.9L1361.0 620.2L1363.0 621.5L1365.0 622.8L1367.0 624.1L1369.0 625.3L1371.0 626.6L1373.0 627.8L1375.0 629.1L1377.0 630.3L1379.0 631.6L1381.0 632.8L1383.0 634.0L1385.0 635.2L1387.0 636.4L1389.0 637.6L1391.0 638.7L1393.0 639.9L1395.0 641.0L1397.0 642.2L1399.0 643.3L1401.0 644.4L1403.0 645.5L1405.0 646.6L1407.0 647.6L1409.0 648.7L1411.0 649.7L1413.0 650.7L1415.0 651.8L1417.0 652.8L1419.0 653.7L1421.0 654.7L1423.0 655.7L1425.0 656.6L1427.0 657.5L1429.0 658.4L1431.0 659.3L1433.0 660.2L1435.0 661.1L1437.0 662.0L1439.0 662.8L1441.0 663.6L1443.0 664.4L1445.0 665.2L1447.0 666.0L1449.0 666.8L1451.0 667.5L1453.0 668.3L1455.0 669.0L1457.0 669.7L1459.0 670.4L1461.0 671.1L1463.0 671.7L1465.0 672.4L1467.0 673.0L1469.0 673.6L1471.0 674.2L1473.0 674.8L1475.0 675.4L1477.0 676.0L1479.0 676.5L1481.0 677.1L1483.0 677.6L1485.0 678.1L1487.0 678.6L1489.0 679.1L1491.0 679.6L1493.0 680.1L1495.0 680.5L1497.0 681.0L1499.0 681.4L1501.0 681.8L1503.0 682.3L1505.0 682.7L1507.0 683.0L1509.0 683.4L1511.0 683.8L1513.0 684.1L1515.0 684.5L1517.0 684.8L1519.0 685.2L1521.0 685.5L1523.0 685.8L1525.0 686.1L1527.0 686.4L1529.0 686.7L1531.0 686.9L1533.0 687.2L1535.0 687.5L1537.0 687.7L1539.0 688.0L1541.0 688.2L1543.0 688.4L1545.0 688.7L1547.0 688.9L1549.0 689.1L1551.0 689.3L1553.0 689.5L1555.0 689.7L1557.0 689.8L1559.0 690.0L1561.0 690.2L1563.0 690.3L1565.0 690.5L1567.0 690.7L1569.0 690.8L1571.0 690.9L1573.0 691.1L1575.0 691.2L1577.0 691.3L1579.0 691.5L1581.0 691.6L1583.0 691.7L1585.0 691.8L1587.0 691.9L1589.0 692.0L1591.0 692.1L1593.0 692.2L1595.0 692.3L1597.0 692.4L1599.0 692.5L1601.0 692.5L1603.0 692.6L1605.0 692.7L1607.0 692.8L1609.0 692.8L1611.0 692.9L1613.0 693.0L1615.0 693.0L1617.0 693.1L1619.0 693.1L1621.0 693.2L1623.0 693.2L1625.0 693.3L1627.0 693.3L1629.0 693.4L1631.0 693.4L1633.0 693.5L1635.0 693.5L1637.0 693.5L1639.0 693.6L1641.0 693.6L1643.0 693.6L1645.0 693.7L1647.0 693.7L1649.0 693.7L1651.0 693.8L1653.0 693.8L1655.0 693.8L1657.0 693.8L1659.0 693.9L1661.0 693.9L1663.0 693.9L1665.0 693.9L1667.0 693.9L1669.0 694.0L1671.0 694.0L1673.0 694.0L1675.0 694.0L1677.0 694.0L1679.0 694.0L1681.0 694.1L1683.0 694.1L1685.0 694.1L1687.0 694.1L1689.0 694.1L1691.0 694.1L1693.0 694.1L1695.0 694.1L1697.0 694.1L1699.0 694.2L1701.0 694.2L1703.0 694.2L1705.0 694.2L1707.0 694.2L1709.0 694.2L1711.0 694.2L1713.0 694.2L1715.0 694.2L1717.0 694.2L1719.0 694.2L1721.0 694.2L1723.0 694.2L1725.0 694.2L1727.0 694.2L1729.0 694.2L1731.0 694.2L1733.0 694.2L1735.0 694.2L1737.0 694.3L1739.0 694.3L1741.0 694.3L1743.0 694.3L1745.0 694.3L1747.0 694.3L1749.0 694.3L1751.0 694.3L1753.0 694.3L1755.0 694.3L1757.0 694.3L1759.0 694.3L1761.0 694.3L1763.0 694.3L1765.0 694.3L1767.0 694.3L1769.0 694.3L1771.0 694.3L1773.0 694.3L1775.0 694.3L1777.0 694.3L1779.0 694.3L1781.0 694.3L1783.0 694.3L1785.0 694.3L1787.0 694.3L1789.0 694.3L1791.0 694.3L1793.0 694.3L1795.0 694.3L1797.0 694.3L1799.0 694.3L1801.0 694.3L1803.0 694.3L1805.0 694.3L1807.0 694.3L1809.0 694.3L1811.0 694.3L1813.0 694.3L1815.0 694.3L1817.0 694.3L1819.0 694.3L1821.0 694.3L1823.0 694.3L1825.0 694.3L1827.0 694.3L1829.0 694.3L1831.0 694.3L1833.0 694.3L1835.0 694.3L1837.0 694.3L1839.0 694.3L1841.0 694.3L1843.0 694.3L1845.0 694.3L1847.0 694.3L1849.0 694.3L1851.0 694.3L1853.0 694.3L1855.0 694.3L1857.0 694.3L1859.0 694.3L1861.0 694.3L1863.0 694.3L1865.0 694.3L1867.0 694.3L1869.0 694.3L1871.0 694.3L1873.0 694.3L1875.0 694.3L1877.0 694.3L1879.0 694.3L1881.0 694.3L1883.0 694.3L1885.0 694.3L1887.0 694.3L1889.0 694.3L1891.0 694.3L1893.0 694.3L1895.0 694.3L1897.0 694.3L1899.0 694.3L1901.0 694.3L1903.0 694.3L1905.0 694.3L1907.0 694.3L1909.0 694.3L1911.0 694.3L1913.0 694.3L1915.0 694.3L1917.0 694.3L1919.0 694.3L1921.0 694.3L1923.0 694.3L1925.0 694.3L1927.0 694.3L1929.0 694.3L1931.0 694.3L1933.0 694.3L1935.0 694.3L1937.0 694.3L1939.0 694.3L1941.0 694.3L1943.0 694.3L1945.0 694.3L1947.0 694.3L1949.0 694.3L1951.0 694.3L1953.0 694.3L1955.0 694.3L1957.0 694.3L1959.0 694.3L1961.0 694.3L1963.0 694.3" fill="none" stroke="#00A9A9" stroke-width="11.4" stroke-linecap="round" stroke-linejoin="round" stroke-dasharray="43.6 56.8" stroke-dashoffset="72.80"/><path d="M295.0 694.3L297.0 694.3L299.0 694.3L301.0 694.3L303.0 694.3L305.0 694.3L307.0 694.3L309.0 694.3L311.0 694.3L313.0 694.3L315.0 694.3L317.0 694.3L319.0 694.3L321.0 694.3L323.0 694.3L325.0 694.3L327.0 694.3L329.0 694.3L331.0 694.3L333.0 694.3L335.0 694.3L337.0 694.3L339.0 694.3L341.0 694.3L343.0 694.3L345.0 694.3L347.0 694.3L349.0 694.3L351.0 694.3L353.0 694.3L355.0 694.3L357.0 694.3L359.0 694.3L361.0 694.3L363.0 694.3L365.0 694.3L367.0 694.3L369.0 694.3L371.0 694.3L373.0 694.3L375.0 694.3L377.0 694.3L379.0 694.3L381.0 694.3L383.0 694.3L385.0 694.3L387.0 694.3L389.0 694.3L391.0 694.3L393.0 694.3L395.0 694.3L397.0 694.3L399.0 694.3L401.0 694.3L403.0 694.3L405.0 694.3L407.0 694.3L409.0 694.3L411.0 694.3L413.0 694.3L415.0 694.3L417.0 694.3L419.0 694.3L421.0 694.3L423.0 694.3L425.0 694.3L427.0 694.3L429.0 694.3L431.0 694.3L433.0 694.3L435.0 694.3L437.0 694.3L439.0 694.3L441.0 694.3L443.0 694.3L445.0 694.3L447.0 694.3L449.0 694.3L451.0 694.3L453.0 694.3L455.0 694.3L457.0 694.3L459.0 694.3L461.0 694.3L463.0 694.3L465.0 694.3L467.0 694.3L469.0 694.3L471.0 694.3L473.0 694.3L475.0 694.3L477.0 694.3L479.0 694.3L481.0 694.3L483.0 694.3L485.0 694.3L487.0 694.3L489.0 694.3L491.0 694.3L493.0 694.3L495.0 694.3L497.0 694.3L499.0 694.3L501.0 694.3L503.0 694.3L505.0 694.3L507.0 694.3L509.0 694.3L511.0 694.3L513.0 694.3L515.0 694.3L517.0 694.3L519.0 694.3L521.0 694.3L523.0 694.3L525.0 694.3L527.0 694.3L529.0 694.3L531.0 694.3L533.0 694.3L535.0 694.3L537.0 694.3L539.0 694.3L541.0 694.3L543.0 694.3L545.0 694.3L547.0 694.3L549.0 694.3L551.0 694.3L553.0 694.3L555.0 694.3L557.0 694.3L559.0 694.3L561.0 694.3L563.0 694.3L565.0 694.3L567.0 694.3L569.0 694.3L571.0 694.3L573.0 694.3L575.0 694.3L577.0 694.3L579.0 694.3L581.0 694.3L583.0 694.3L585.0 694.3L587.0 694.3L589.0 694.3L591.0 694.3L593.0 694.3L595.0 694.3L597.0 694.3L599.0 694.3L601.0 694.3L603.0 694.3L605.0 694.3L607.0 694.3L609.0 694.3L611.0 694.3L613.0 694.3L615.0 694.3L617.0 694.3L619.0 694.3L621.0 694.3L623.0 694.3L625.0 694.3L627.0 694.3L629.0 694.3L631.0 694.3L633.0 694.3L635.0 694.3L637.0 694.3L639.0 694.3L641.0 694.3L643.0 694.3L645.0 694.3L647.0 694.3L649.0 694.3L651.0 694.3L653.0 694.3L655.0 694.3L657.0 694.3L659.0 694.3L661.0 694.3L663.0 694.3L665.0 694.3L667.0 694.3L669.0 694.3L671.0 694.3L673.0 694.3L675.0 694.3L677.0 694.3L679.0 694.3L681.0 694.2L683.0 694.2L685.0 694.2L687.0 694.2L689.0 694.2L691.0 694.2L693.0 694.2L695.0 694.2L697.0 694.2L699.0 694.2" fill="none" stroke="#00A9A9" stroke-width="11.4" stroke-linecap="round" stroke-linejoin="round" stroke-dasharray="43.6 56.8" stroke-dashoffset="74.00"/>
<path d="M295.0 1047.5L311.8 1047.3L331.9 1047.1L352.0 1046.9L372.1 1046.8L392.2 1047.9L412.3 1050.3L432.4 1053.0L452.5 1047.0L472.6 1023.7L492.6 995.9L512.7 956.8L532.8 912.6L552.9 865.7L573.0 820.4L593.1 780.2L613.2 756.6L633.3 746.9L653.4 746.6L673.5 754.9L693.5 779.6L713.6 817.5L733.7 843.1L753.8 858.6L773.9 867.6L794.0 872.3L814.1 869.5L834.2 866.7L854.3 862.2L874.4 856.6L894.5 858.4L914.5 865.9L934.6 872.0L954.7 879.5L974.8 892.4L994.9 905.0L1015.0 916.1L1035.1 927.3L1055.2 940.9L1075.3 939.3L1095.3 931.0L1115.4 922.9L1135.5 911.9L1155.6 896.8L1175.7 882.4L1195.8 868.3L1215.9 864.8L1236.0 869.7L1256.1 879.4L1276.2 895.2L1296.2 909.9L1316.3 935.3L1336.4 955.8L1356.5 965.4L1376.6 973.8L1396.7 982.8L1416.8 992.0L1436.9 997.6L1457.0 1001.5L1477.1 1006.3L1497.2 1016.2L1517.2 1025.8L1537.3 1030.3L1557.4 1033.7L1577.5 1035.8L1597.6 1037.0L1617.7 1038.1L1637.8 1040.3L1657.9 1042.1L1678.0 1043.6L1698.0 1045.1L1718.1 1046.3L1738.2 1047.3L1758.3 1047.9L1778.4 1048.2L1798.5 1048.4L1818.6 1048.4L1838.7 1048.4L1858.8 1048.6L1878.9 1048.7L1899.0 1048.8L1919.0 1048.8L1939.1 1048.9L1959.2 1049.0L1963.0 1049.0" fill="none" stroke="#0079F4" stroke-width="11.4" stroke-linejoin="miter" stroke-miterlimit="3" stroke-linecap="butt"/>
<path d="M295.0 1049.1L297.0 1049.1L299.0 1049.1L301.0 1049.1L303.0 1049.1L305.0 1049.1L307.0 1049.0L309.0 1049.0L311.0 1049.0L313.0 1049.0L315.0 1048.9L317.0 1048.9L319.0 1048.9L321.0 1048.8L323.0 1048.8L325.0 1048.8L327.0 1048.7L329.0 1048.7L331.0 1048.6L333.0 1048.6L335.0 1048.5L337.0 1048.4L339.0 1048.4L341.0 1048.3L343.0 1048.2L345.0 1048.1L347.0 1048.1L349.0 1048.0L351.0 1047.9L353.0 1047.8L355.0 1047.6L357.0 1047.5L359.0 1047.4L361.0 1047.2L363.0 1047.1L365.0 1046.9L367.0 1046.8L369.0 1046.6L371.0 1046.4L373.0 1046.2L375.0 1046.0L377.0 1045.8L379.0 1045.5L381.0 1045.3L383.0 1045.0L385.0 1044.7L387.0 1044.4L389.0 1044.1L391.0 1043.8L393.0 1043.4L395.0 1043.0L397.0 1042.6L399.0 1042.2L401.0 1041.8L403.0 1041.3L405.0 1040.8L407.0 1040.3L409.0 1039.8L411.0 1039.2L413.0 1038.6L415.0 1038.0L417.0 1037.3L419.0 1036.6L421.0 1035.9L423.0 1035.1L425.0 1034.3L427.0 1033.5L429.0 1032.6L431.0 1031.7L433.0 1030.8L435.0 1029.8L437.0 1028.7L439.0 1027.7L441.0 1026.5L443.0 1025.4L445.0 1024.2L447.0 1022.9L449.0 1021.6L451.0 1020.2L453.0 1018.8L455.0 1017.3L457.0 1015.8L459.0 1014.2L461.0 1012.5L463.0 1010.8L465.0 1009.1L467.0 1007.3L469.0 1005.4L471.0 1003.4L473.0 1001.4L475.0 999.4L477.0 997.2L479.0 995.0L481.0 992.8L483.0 990.5L485.0 988.1L487.0 985.6L489.0 983.1L491.0 980.5L493.0 977.8L495.0 975.1L497.0 972.3L499.0 969.5L501.0 966.6L503.0 963.6L505.0 960.5L507.0 957.4L509.0 954.2L511.0 951.0L513.0 947.7L515.0 944.3L517.0 940.9L519.0 937.5L521.0 933.9L523.0 930.4L525.0 926.7L527.0 923.1L529.0 919.3L531.0 915.6L533.0 911.7L535.0 907.9L537.0 904.0L539.0 900.1L541.0 896.1L543.0 892.2L545.0 888.2L547.0 884.1L549.0 880.1L551.0 876.0L553.0 872.0L555.0 867.9L557.0 863.8L559.0 859.7L561.0 855.7L563.0 851.6L565.0 847.6L567.0 843.5L569.0 839.5L571.0 835.5L573.0 831.6L575.0 827.7L577.0 823.8L579.0 820.0L581.0 816.2L583.0 812.5L585.0 808.8L587.0 805.2L589.0 801.7L591.0 798.2L593.0 794.8L595.0 791.5L597.0 788.3L599.0 785.1L601.0 782.1L603.0 779.1L605.0 776.3L607.0 773.6L609.0 770.9L611.0 768.4L613.0 766.0L615.0 763.7L617.0 761.6L619.0 759.5L621.0 757.6L623.0 755.8L625.0 754.2L627.0 752.7L629.0 751.3L631.0 750.1L633.0 749.0L635.0 748.1L637.0 747.3L639.0 746.6L641.0 746.1L643.0 745.8L645.0 745.6L647.0 745.5L649.0 745.6L651.0 745.8L653.0 746.2L655.0 746.7L657.0 747.4L659.0 748.3L661.0 749.2L663.0 750.3L665.0 751.6L667.0 753.0L669.0 754.5L671.0 756.2L673.0 758.0L675.0 759.9L677.0 762.0L679.0 764.2L681.0 766.5L683.0 768.9L685.0 771.4L687.0 774.1L689.0 776.9L691.0 779.7L693.0 782.7L695.0 785.8L697.0 788.9L699.0 792.2L701.0 795.5L703.0 798.9L705.0 802.4L707.0 805.9L709.0 809.5L711.0 813.2L713.0 817.0L715.0 820.7L717.0 824.6L719.0 828.5L721.0 832.4L723.0 836.3L725.0 840.3L727.0 844.3L729.0 848.4L731.0 852.4L733.0 856.5L735.0 860.6L737.0 864.6L739.0 868.7L741.0 872.8L743.0 876.8L745.0 880.9L747.0 884.9L749.0 889.0L751.0 893.0L753.0 896.9L755.0 900.9L757.0 904.8L759.0 908.7L761.0 912.5L763.0 916.3L765.0 920.1L767.0 923.8L769.0 927.5L771.0 931.1L773.0 934.6L775.0 938.2L777.0 941.6L779.0 945.0L781.0 948.4L783.0 951.6L785.0 954.9L787.0 958.0L789.0 961.1L791.0 964.2L793.0 967.1L795.0 970.1L797.0 972.9L799.0 975.7L801.0 978.4L803.0 981.0L805.0 983.6L807.0 986.1L809.0 988.6L811.0 990.9L813.0 993.2L815.0 995.5L817.0 997.7L819.0 999.8L821.0 1001.8L823.0 1003.8L825.0 1005.8L827.0 1007.6L829.0 1009.4L831.0 1011.2L833.0 1012.9L835.0 1014.5L837.0 1016.1L839.0 1017.6L841.0 1019.1L843.0 1020.5L845.0 1021.8L847.0 1023.1L849.0 1024.4L851.0 1025.6L853.0 1026.8L855.0 1027.9L857.0 1029.0L859.0 1030.0L861.0 1031.0L863.0 1031.9L865.0 1032.8L867.0 1033.7L869.0 1034.5L871.0 1035.3L873.0 1036.0L875.0 1036.7L877.0 1037.4L879.0 1038.1L881.0 1038.7L883.0 1039.3L885.0 1039.9L887.0 1040.4L889.0 1040.9L891.0 1041.4L893.0 1041.9L895.0 1042.3L897.0 1042.7L899.0 1043.1L901.0 1043.5L903.0 1043.8L905.0 1044.2L907.0 1044.5L909.0 1044.8L911.0 1045.1L913.0 1045.3L915.0 1045.6L917.0 1045.8L919.0 1046.0L921.0 1046.2L923.0 1046.4L925.0 1046.6L927.0 1046.8L929.0 1047.0L931.0 1047.1L933.0 1047.3L935.0 1047.4L937.0 1047.5L939.0 1047.7L941.0 1047.8L943.0 1047.9L945.0 1048.0L947.0 1048.1L949.0 1048.2L951.0 1048.2L953.0 1048.3L955.0 1048.4L957.0 1048.5L959.0 1048.5L961.0 1048.6L963.0 1048.6L965.0 1048.7L967.0 1048.7L969.0 1048.8L971.0 1048.8L973.0 1048.8L975.0 1048.9L977.0 1048.9L979.0 1048.9L981.0 1049.0L983.0 1049.0L985.0 1049.0L987.0 1049.0L989.0 1049.1L991.0 1049.1L993.0 1049.1L995.0 1049.1L997.0 1049.1L999.0 1049.1L1001.0 1049.2L1003.0 1049.2L1005.0 1049.2L1007.0 1049.2L1009.0 1049.2L1011.0 1049.2L1013.0 1049.2L1015.0 1049.2L1017.0 1049.2L1019.0 1049.2L1021.0 1049.2L1023.0 1049.2L1025.0 1049.3L1027.0 1049.3L1029.0 1049.3L1031.0 1049.3L1033.0 1049.3L1035.0 1049.3L1037.0 1049.3L1039.0 1049.3L1041.0 1049.3L1043.0 1049.3L1045.0 1049.3L1047.0 1049.3L1049.0 1049.3L1051.0 1049.3L1053.0 1049.3L1055.0 1049.3L1057.0 1049.3L1059.0 1049.3L1061.0 1049.3L1063.0 1049.3L1065.0 1049.3L1067.0 1049.3L1069.0 1049.3L1071.0 1049.3L1073.0 1049.3L1075.0 1049.3L1077.0 1049.3L1079.0 1049.3L1081.0 1049.3L1083.0 1049.3L1085.0 1049.3L1087.0 1049.3L1089.0 1049.3L1091.0 1049.3L1093.0 1049.3L1095.0 1049.3L1097.0 1049.3L1099.0 1049.3L1101.0 1049.3L1103.0 1049.3L1105.0 1049.3L1107.0 1049.3L1109.0 1049.3L1111.0 1049.3L1113.0 1049.3L1115.0 1049.3L1117.0 1049.3L1119.0 1049.3L1121.0 1049.3L1123.0 1049.3L1125.0 1049.3L1127.0 1049.3L1129.0 1049.3L1131.0 1049.3L1133.0 1049.3L1135.0 1049.3L1137.0 1049.3L1139.0 1049.3L1141.0 1049.3L1143.0 1049.3L1145.0 1049.3L1147.0 1049.3L1149.0 1049.3L1151.0 1049.3L1153.0 1049.3L1155.0 1049.3L1157.0 1049.3L1159.0 1049.3L1161.0 1049.3L1163.0 1049.3L1165.0 1049.3L1167.0 1049.3L1169.0 1049.3L1171.0 1049.3L1173.0 1049.3L1175.0 1049.3L1177.0 1049.3L1179.0 1049.3L1181.0 1049.3L1183.0 1049.3L1185.0 1049.3L1187.0 1049.3L1189.0 1049.3L1191.0 1049.3L1193.0 1049.3L1195.0 1049.3L1197.0 1049.3L1199.0 1049.3L1201.0 1049.3L1203.0 1049.3L1205.0 1049.3L1207.0 1049.3L1209.0 1049.3L1211.0 1049.3L1213.0 1049.3L1215.0 1049.3L1217.0 1049.3L1219.0 1049.3L1221.0 1049.3L1223.0 1049.3L1225.0 1049.3L1227.0 1049.3L1229.0 1049.3L1231.0 1049.3L1233.0 1049.3L1235.0 1049.3L1237.0 1049.3L1239.0 1049.3L1241.0 1049.3L1243.0 1049.3L1245.0 1049.3L1247.0 1049.3L1249.0 1049.3L1251.0 1049.3L1253.0 1049.3L1255.0 1049.3L1257.0 1049.3L1259.0 1049.3L1261.0 1049.3L1263.0 1049.3L1265.0 1049.3L1267.0 1049.3L1269.0 1049.3L1271.0 1049.3L1273.0 1049.3L1275.0 1049.3L1277.0 1049.3L1279.0 1049.3L1281.0 1049.3L1283.0 1049.3L1285.0 1049.3L1287.0 1049.3L1289.0 1049.3L1291.0 1049.3L1293.0 1049.3L1295.0 1049.3L1297.0 1049.3L1299.0 1049.3L1301.0 1049.3L1303.0 1049.3L1305.0 1049.3L1307.0 1049.3L1309.0 1049.3L1311.0 1049.3L1313.0 1049.3L1315.0 1049.3L1317.0 1049.3L1319.0 1049.3L1321.0 1049.3L1323.0 1049.3L1325.0 1049.3L1327.0 1049.3L1329.0 1049.3L1331.0 1049.3L1333.0 1049.3L1335.0 1049.3L1337.0 1049.3L1339.0 1049.3L1341.0 1049.3L1343.0 1049.3L1345.0 1049.3L1347.0 1049.3L1349.0 1049.3L1351.0 1049.3L1353.0 1049.3L1355.0 1049.3L1357.0 1049.3L1359.0 1049.3L1361.0 1049.3L1363.0 1049.3L1365.0 1049.3L1367.0 1049.3L1369.0 1049.3L1371.0 1049.3L1373.0 1049.3L1375.0 1049.3L1377.0 1049.3L1379.0 1049.3L1381.0 1049.3L1383.0 1049.3L1385.0 1049.3L1387.0 1049.3L1389.0 1049.3L1391.0 1049.3L1393.0 1049.3L1395.0 1049.3L1397.0 1049.3L1399.0 1049.3L1401.0 1049.3L1403.0 1049.3L1405.0 1049.3L1407.0 1049.3L1409.0 1049.3L1411.0 1049.3L1413.0 1049.3L1415.0 1049.3L1417.0 1049.3L1419.0 1049.3L1421.0 1049.3L1423.0 1049.3L1425.0 1049.3L1427.0 1049.3L1429.0 1049.3L1431.0 1049.3L1433.0 1049.3L1435.0 1049.3L1437.0 1049.3L1439.0 1049.3L1441.0 1049.3L1443.0 1049.3L1445.0 1049.3L1447.0 1049.3L1449.0 1049.3L1451.0 1049.3L1453.0 1049.3L1455.0 1049.3L1457.0 1049.3L1459.0 1049.3L1461.0 1049.3L1463.0 1049.3L1465.0 1049.3L1467.0 1049.3L1469.0 1049.3L1471.0 1049.3L1473.0 1049.3L1475.0 1049.3L1477.0 1049.3L1479.0 1049.3L1481.0 1049.3L1483.0 1049.3L1485.0 1049.3L1487.0 1049.3L1489.0 1049.3L1491.0 1049.3L1493.0 1049.3L1495.0 1049.3L1497.0 1049.3L1499.0 1049.3L1501.0 1049.3L1503.0 1049.3L1505.0 1049.3L1507.0 1049.3L1509.0 1049.3L1511.0 1049.3L1513.0 1049.3L1515.0 1049.3L1517.0 1049.3L1519.0 1049.3L1521.0 1049.3L1523.0 1049.3L1525.0 1049.3L1527.0 1049.3L1529.0 1049.3L1531.0 1049.3L1533.0 1049.3L1535.0 1049.3L1537.0 1049.3L1539.0 1049.3L1541.0 1049.3L1543.0 1049.3L1545.0 1049.3L1547.0 1049.3L1549.0 1049.3L1551.0 1049.3L1553.0 1049.3L1555.0 1049.3L1557.0 1049.3L1559.0 1049.3L1561.0 1049.3L1563.0 1049.3L1565.0 1049.3L1567.0 1049.3L1569.0 1049.3L1571.0 1049.3L1573.0 1049.3L1575.0 1049.3L1577.0 1049.3L1579.0 1049.3L1581.0 1049.3L1583.0 1049.3L1585.0 1049.3L1587.0 1049.3L1589.0 1049.3L1591.0 1049.3L1593.0 1049.3L1595.0 1049.3L1597.0 1049.3L1599.0 1049.3L1601.0 1049.3L1603.0 1049.3L1605.0 1049.3L1607.0 1049.3L1609.0 1049.3L1611.0 1049.3L1613.0 1049.3L1615.0 1049.3L1617.0 1049.3L1619.0 1049.3L1621.0 1049.3L1623.0 1049.3L1625.0 1049.3L1627.0 1049.3L1629.0 1049.3L1631.0 1049.3L1633.0 1049.3L1635.0 1049.3L1637.0 1049.3L1639.0 1049.3L1641.0 1049.3L1643.0 1049.3L1645.0 1049.3L1647.0 1049.3L1649.0 1049.3L1651.0 1049.3L1653.0 1049.3L1655.0 1049.3L1657.0 1049.3L1659.0 1049.3L1661.0 1049.3L1663.0 1049.3L1665.0 1049.3L1667.0 1049.3L1669.0 1049.3L1671.0 1049.3L1673.0 1049.3L1675.0 1049.3L1677.0 1049.3L1679.0 1049.3L1681.0 1049.3L1683.0 1049.3L1685.0 1049.3L1687.0 1049.3L1689.0 1049.3L1691.0 1049.3L1693.0 1049.3L1695.0 1049.3L1697.0 1049.3L1699.0 1049.3L1701.0 1049.3L1703.0 1049.3L1705.0 1049.3L1707.0 1049.3L1709.0 1049.3L1711.0 1049.3L1713.0 1049.3L1715.0 1049.3L1717.0 1049.3L1719.0 1049.3L1721.0 1049.3L1723.0 1049.3L1725.0 1049.3L1727.0 1049.3L1729.0 1049.3L1731.0 1049.3L1733.0 1049.3L1735.0 1049.3L1737.0 1049.3L1739.0 1049.3L1741.0 1049.3L1743.0 1049.3L1745.0 1049.3L1747.0 1049.3L1749.0 1049.3L1751.0 1049.3L1753.0 1049.3L1755.0 1049.3L1757.0 1049.3L1759.0 1049.3L1761.0 1049.3L1763.0 1049.3L1765.0 1049.3L1767.0 1049.3L1769.0 1049.3L1771.0 1049.3L1773.0 1049.3L1775.0 1049.3L1777.0 1049.3L1779.0 1049.3L1781.0 1049.3L1783.0 1049.3L1785.0 1049.3L1787.0 1049.3L1789.0 1049.3L1791.0 1049.3L1793.0 1049.3L1795.0 1049.3L1797.0 1049.3L1799.0 1049.3L1801.0 1049.3L1803.0 1049.3L1805.0 1049.3L1807.0 1049.3L1809.0 1049.3L1811.0 1049.3L1813.0 1049.3L1815.0 1049.3L1817.0 1049.3L1819.0 1049.3L1821.0 1049.3L1823.0 1049.3L1825.0 1049.3L1827.0 1049.3L1829.0 1049.3L1831.0 1049.3L1833.0 1049.3L1835.0 1049.3L1837.0 1049.3L1839.0 1049.3L1841.0 1049.3L1843.0 1049.3L1845.0 1049.3L1847.0 1049.3L1849.0 1049.3L1851.0 1049.3L1853.0 1049.3L1855.0 1049.3L1857.0 1049.3L1859.0 1049.3L1861.0 1049.3L1863.0 1049.3L1865.0 1049.3L1867.0 1049.3L1869.0 1049.3L1871.0 1049.3L1873.0 1049.3L1875.0 1049.3L1877.0 1049.3L1879.0 1049.3L1881.0 1049.3L1883.0 1049.3L1885.0 1049.3L1887.0 1049.3L1889.0 1049.3L1891.0 1049.3L1893.0 1049.3L1895.0 1049.3L1897.0 1049.3L1899.0 1049.3L1901.0 1049.3L1903.0 1049.3L1905.0 1049.3L1907.0 1049.3L1909.0 1049.3L1911.0 1049.3L1913.0 1049.3L1915.0 1049.3L1917.0 1049.3L1919.0 1049.3L1921.0 1049.3L1923.0 1049.3L1925.0 1049.3L1927.0 1049.3L1929.0 1049.3L1931.0 1049.3L1933.0 1049.3L1935.0 1049.3L1937.0 1049.3L1939.0 1049.3L1941.0 1049.3L1943.0 1049.3L1945.0 1049.3L1947.0 1049.3L1949.0 1049.3L1951.0 1049.3L1953.0 1049.3L1955.0 1049.3L1957.0 1049.3L1959.0 1049.3L1961.0 1049.3L1963.0 1049.3" fill="none" stroke="#0079F4" stroke-width="11.4" stroke-linecap="round" stroke-linejoin="round" stroke-dasharray="43.6 56.8" stroke-dashoffset="15.20"/>
<path d="M295.0 1049.3L297.0 1049.3L299.0 1049.3L301.0 1049.3L303.0 1049.3L305.0 1049.3L307.0 1049.3L309.0 1049.3L311.0 1049.3L313.0 1049.3L315.0 1049.3L317.0 1049.3L319.0 1049.3L321.0 1049.3L323.0 1049.3L325.0 1049.3L327.0 1049.3L329.0 1049.3L331.0 1049.3L333.0 1049.3L335.0 1049.3L337.0 1049.3L339.0 1049.3L341.0 1049.3L343.0 1049.3L345.0 1049.3L347.0 1049.3L349.0 1049.3L351.0 1049.3L353.0 1049.3L355.0 1049.3L357.0 1049.3L359.0 1049.3L361.0 1049.3L363.0 1049.3L365.0 1049.3L367.0 1049.3L369.0 1049.3L371.0 1049.3L373.0 1049.3L375.0 1049.3L377.0 1049.3L379.0 1049.3L381.0 1049.3L383.0 1049.3L385.0 1049.3L387.0 1049.3L389.0 1049.3L391.0 1049.3L393.0 1049.3L395.0 1049.3L397.0 1049.3L399.0 1049.3L401.0 1049.3L403.0 1049.3L405.0 1049.3L407.0 1049.3L409.0 1049.3L411.0 1049.3L413.0 1049.3L415.0 1049.3L417.0 1049.3L419.0 1049.3L421.0 1049.3L423.0 1049.3L425.0 1049.3L427.0 1049.3L429.0 1049.3L431.0 1049.3L433.0 1049.3L435.0 1049.3L437.0 1049.3L439.0 1049.3L441.0 1049.3L443.0 1049.3L445.0 1049.3L447.0 1049.3L449.0 1049.3L451.0 1049.3L453.0 1049.3L455.0 1049.3L457.0 1049.3L459.0 1049.3L461.0 1049.3L463.0 1049.3L465.0 1049.3L467.0 1049.3L469.0 1049.3L471.0 1049.3L473.0 1049.3L475.0 1049.3L477.0 1049.3L479.0 1049.3L481.0 1049.3L483.0 1049.3L485.0 1049.3L487.0 1049.3L489.0 1049.3L491.0 1049.3L493.0 1049.3L495.0 1049.3L497.0 1049.3L499.0 1049.3L501.0 1049.3L503.0 1049.3L505.0 1049.3L507.0 1049.3L509.0 1049.3L511.0 1049.3L513.0 1049.3L515.0 1049.3L517.0 1049.3L519.0 1049.3L521.0 1049.3L523.0 1049.3L525.0 1049.3L527.0 1049.3L529.0 1049.3L531.0 1049.3L533.0 1049.3L535.0 1049.3L537.0 1049.3L539.0 1049.3L541.0 1049.3L543.0 1049.3L545.0 1049.3L547.0 1049.3L549.0 1049.3L551.0 1049.3L553.0 1049.3L555.0 1049.3L557.0 1049.3L559.0 1049.3L561.0 1049.3L563.0 1049.3L565.0 1049.3L567.0 1049.3L569.0 1049.3L571.0 1049.3L573.0 1049.3L575.0 1049.3L577.0 1049.3L579.0 1049.3L581.0 1049.3L583.0 1049.3L585.0 1049.3L587.0 1049.3L589.0 1049.3L591.0 1049.3L593.0 1049.3L595.0 1049.3L597.0 1049.3L599.0 1049.2L601.0 1049.2L603.0 1049.2L605.0 1049.2L607.0 1049.2L609.0 1049.2L611.0 1049.2L613.0 1049.2L615.0 1049.2L617.0 1049.1L619.0 1049.1L621.0 1049.1L623.0 1049.1L625.0 1049.1L627.0 1049.0L629.0 1049.0L631.0 1049.0L633.0 1049.0L635.0 1048.9L637.0 1048.9L639.0 1048.8L641.0 1048.8L643.0 1048.7L645.0 1048.7L647.0 1048.6L649.0 1048.6L651.0 1048.5L653.0 1048.4L655.0 1048.3L657.0 1048.2L659.0 1048.1L661.0 1048.0L663.0 1047.9L665.0 1047.8L667.0 1047.6L669.0 1047.5L671.0 1047.3L673.0 1047.1L675.0 1046.9L677.0 1046.7L679.0 1046.5L681.0 1046.3L683.0 1046.0L685.0 1045.8L687.0 1045.5L689.0 1045.2L691.0 1044.9L693.0 1044.5L695.0 1044.1L697.0 1043.7L699.0 1043.3L701.0 1042.8L703.0 1042.4L705.0 1041.9L707.0 1041.3L709.0 1040.7L711.0 1040.1L713.0 1039.5L715.0 1038.8L717.0 1038.1L719.0 1037.3L721.0 1036.5L723.0 1035.7L725.0 1034.8L727.0 1033.9L729.0 1032.9L731.0 1031.9L733.0 1030.8L735.0 1029.7L737.0 1028.5L739.0 1027.3L741.0 1026.0L743.0 1024.7L745.0 1023.3L747.0 1021.9L749.0 1020.4L751.0 1018.8L753.0 1017.2L755.0 1015.5L757.0 1013.8L759.0 1012.0L761.0 1010.2L763.0 1008.3L765.0 1006.3L767.0 1004.3L769.0 1002.2L771.0 1000.1L773.0 997.9L775.0 995.7L777.0 993.4L779.0 991.1L781.0 988.7L783.0 986.3L785.0 983.8L787.0 981.3L789.0 978.7L791.0 976.2L793.0 973.5L795.0 970.9L797.0 968.2L799.0 965.5L801.0 962.8L803.0 960.1L805.0 957.3L807.0 954.6L809.0 951.8L811.0 949.1L813.0 946.3L815.0 943.6L817.0 940.9L819.0 938.2L821.0 935.5L823.0 932.9L825.0 930.3L827.0 927.7L829.0 925.2L831.0 922.7L833.0 920.3L835.0 918.0L837.0 915.7L839.0 913.5L841.0 911.3L843.0 909.3L845.0 907.3L847.0 905.4L849.0 903.6L851.0 902.0L853.0 900.4L855.0 898.9L857.0 897.5L859.0 896.3L861.0 895.1L863.0 894.1L865.0 893.2L867.0 892.4L869.0 891.8L871.0 891.2L873.0 890.8L875.0 890.6L877.0 890.4L879.0 890.4L881.0 890.5L883.0 890.8L885.0 891.1L887.0 891.7L889.0 892.3L891.0 893.0L893.0 893.9L895.0 894.9L897.0 896.0L899.0 897.3L901.0 898.6L903.0 900.1L905.0 901.6L907.0 903.3L909.0 905.1L911.0 906.9L913.0 908.9L915.0 910.9L917.0 913.0L919.0 915.2L921.0 917.5L923.0 919.8L925.0 922.2L927.0 924.7L929.0 927.2L931.0 929.7L933.0 932.3L935.0 935.0L937.0 937.6L939.0 940.3L941.0 943.0L943.0 945.8L945.0 948.5L947.0 951.3L949.0 954.0L951.0 956.8L953.0 959.5L955.0 962.3L957.0 965.0L959.0 967.7L961.0 970.4L963.0 973.0L965.0 975.6L967.0 978.2L969.0 980.8L971.0 983.3L973.0 985.8L975.0 988.2L977.0 990.6L979.0 993.0L981.0 995.2L983.0 997.5L985.0 999.7L987.0 1001.8L989.0 1003.9L991.0 1005.9L993.0 1007.9L995.0 1009.8L997.0 1011.7L999.0 1013.5L1001.0 1015.2L1003.0 1016.9L1005.0 1018.5L1007.0 1020.1L1009.0 1021.6L1011.0 1023.0L1013.0 1024.4L1015.0 1025.8L1017.0 1027.0L1019.0 1028.3L1021.0 1029.5L1023.0 1030.6L1025.0 1031.7L1027.0 1032.7L1029.0 1033.7L1031.0 1034.6L1033.0 1035.5L1035.0 1036.4L1037.0 1037.2L1039.0 1037.9L1041.0 1038.7L1043.0 1039.4L1045.0 1040.0L1047.0 1040.6L1049.0 1041.2L1051.0 1041.8L1053.0 1042.3L1055.0 1042.8L1057.0 1043.2L1059.0 1043.6L1061.0 1044.0L1063.0 1044.4L1065.0 1044.8L1067.0 1045.1L1069.0 1045.4L1071.0 1045.7L1073.0 1046.0L1075.0 1046.2L1077.0 1046.5L1079.0 1046.7L1081.0 1046.9L1083.0 1047.1L1085.0 1047.3L1087.0 1047.4L1089.0 1047.6L1091.0 1047.7L1093.0 1047.9L1095.0 1048.0L1097.0 1048.1L1099.0 1048.2L1101.0 1048.3L1103.0 1048.4L1105.0 1048.5L1107.0 1048.5L1109.0 1048.6L1111.0 1048.7L1113.0 1048.7L1115.0 1048.8L1117.0 1048.8L1119.0 1048.9L1121.0 1048.9L1123.0 1048.9L1125.0 1049.0L1127.0 1049.0L1129.0 1049.0L1131.0 1049.1L1133.0 1049.1L1135.0 1049.1L1137.0 1049.1L1139.0 1049.1L1141.0 1049.2L1143.0 1049.2L1145.0 1049.2L1147.0 1049.2L1149.0 1049.2L1151.0 1049.2L1153.0 1049.2L1155.0 1049.2L1157.0 1049.2L1159.0 1049.2L1161.0 1049.3L1163.0 1049.3L1165.0 1049.3L1167.0 1049.3L1169.0 1049.3L1171.0 1049.3L1173.0 1049.3L1175.0 1049.3L1177.0 1049.3L1179.0 1049.3L1181.0 1049.3L1183.0 1049.3L1185.0 1049.3L1187.0 1049.3L1189.0 1049.3L1191.0 1049.3L1193.0 1049.3L1195.0 1049.3L1197.0 1049.3L1199.0 1049.3L1201.0 1049.3L1203.0 1049.3L1205.0 1049.3L1207.0 1049.3L1209.0 1049.3L1211.0 1049.3L1213.0 1049.3L1215.0 1049.3L1217.0 1049.3L1219.0 1049.3L1221.0 1049.3L1223.0 1049.3L1225.0 1049.3L1227.0 1049.3L1229.0 1049.3L1231.0 1049.3L1233.0 1049.3L1235.0 1049.3L1237.0 1049.3L1239.0 1049.3L1241.0 1049.3L1243.0 1049.3L1245.0 1049.3L1247.0 1049.3L1249.0 1049.3L1251.0 1049.3L1253.0 1049.3L1255.0 1049.3L1257.0 1049.3L1259.0 1049.3L1261.0 1049.3L1263.0 1049.3L1265.0 1049.3L1267.0 1049.3L1269.0 1049.3L1271.0 1049.3L1273.0 1049.3L1275.0 1049.3L1277.0 1049.3L1279.0 1049.3L1281.0 1049.3L1283.0 1049.3L1285.0 1049.3L1287.0 1049.3L1289.0 1049.3L1291.0 1049.3L1293.0 1049.3L1295.0 1049.3L1297.0 1049.3L1299.0 1049.3L1301.0 1049.3L1303.0 1049.3L1305.0 1049.3L1307.0 1049.3L1309.0 1049.3L1311.0 1049.3L1313.0 1049.3L1315.0 1049.3L1317.0 1049.3L1319.0 1049.3L1321.0 1049.3L1323.0 1049.3L1325.0 1049.3L1327.0 1049.3L1329.0 1049.3L1331.0 1049.3L1333.0 1049.3L1335.0 1049.3L1337.0 1049.3L1339.0 1049.3L1341.0 1049.3L1343.0 1049.3L1345.0 1049.3L1347.0 1049.3L1349.0 1049.3L1351.0 1049.3L1353.0 1049.3L1355.0 1049.3L1357.0 1049.3L1359.0 1049.3L1361.0 1049.3L1363.0 1049.3L1365.0 1049.3L1367.0 1049.3L1369.0 1049.3L1371.0 1049.3L1373.0 1049.3L1375.0 1049.3L1377.0 1049.3L1379.0 1049.3L1381.0 1049.3L1383.0 1049.3L1385.0 1049.3L1387.0 1049.3L1389.0 1049.3L1391.0 1049.3L1393.0 1049.3L1395.0 1049.3L1397.0 1049.3L1399.0 1049.3L1401.0 1049.3L1403.0 1049.3L1405.0 1049.3L1407.0 1049.3L1409.0 1049.3L1411.0 1049.3L1413.0 1049.3L1415.0 1049.3L1417.0 1049.3L1419.0 1049.3L1421.0 1049.3L1423.0 1049.3L1425.0 1049.3L1427.0 1049.3L1429.0 1049.3L1431.0 1049.3L1433.0 1049.3L1435.0 1049.3L1437.0 1049.3L1439.0 1049.3L1441.0 1049.3L1443.0 1049.3L1445.0 1049.3L1447.0 1049.3L1449.0 1049.3L1451.0 1049.3L1453.0 1049.3L1455.0 1049.3L1457.0 1049.3L1459.0 1049.3L1461.0 1049.3L1463.0 1049.3L1465.0 1049.3L1467.0 1049.3L1469.0 1049.3L1471.0 1049.3L1473.0 1049.3L1475.0 1049.3L1477.0 1049.3L1479.0 1049.3L1481.0 1049.3L1483.0 1049.3L1485.0 1049.3L1487.0 1049.3L1489.0 1049.3L1491.0 1049.3L1493.0 1049.3L1495.0 1049.3L1497.0 1049.3L1499.0 1049.3L1501.0 1049.3L1503.0 1049.3L1505.0 1049.3L1507.0 1049.3L1509.0 1049.3L1511.0 1049.3L1513.0 1049.3L1515.0 1049.3L1517.0 1049.3L1519.0 1049.3L1521.0 1049.3L1523.0 1049.3L1525.0 1049.3L1527.0 1049.3L1529.0 1049.3L1531.0 1049.3L1533.0 1049.3L1535.0 1049.3L1537.0 1049.3L1539.0 1049.3L1541.0 1049.3L1543.0 1049.3L1545.0 1049.3L1547.0 1049.3L1549.0 1049.3L1551.0 1049.3L1553.0 1049.3L1555.0 1049.3L1557.0 1049.3L1559.0 1049.3L1561.0 1049.3L1563.0 1049.3L1565.0 1049.3L1567.0 1049.3L1569.0 1049.3L1571.0 1049.3L1573.0 1049.3L1575.0 1049.3L1577.0 1049.3L1579.0 1049.3L1581.0 1049.3L1583.0 1049.3L1585.0 1049.3L1587.0 1049.3L1589.0 1049.3L1591.0 1049.3L1593.0 1049.3L1595.0 1049.3L1597.0 1049.3L1599.0 1049.3L1601.0 1049.3L1603.0 1049.3L1605.0 1049.3L1607.0 1049.3L1609.0 1049.3L1611.0 1049.3L1613.0 1049.3L1615.0 1049.3L1617.0 1049.3L1619.0 1049.3L1621.0 1049.3L1623.0 1049.3L1625.0 1049.3L1627.0 1049.3L1629.0 1049.3L1631.0 1049.3L1633.0 1049.3L1635.0 1049.3L1637.0 1049.3L1639.0 1049.3L1641.0 1049.3L1643.0 1049.3L1645.0 1049.3L1647.0 1049.3L1649.0 1049.3L1651.0 1049.3L1653.0 1049.3L1655.0 1049.3L1657.0 1049.3L1659.0 1049.3L1661.0 1049.3L1663.0 1049.3L1665.0 1049.3L1667.0 1049.3L1669.0 1049.3L1671.0 1049.3L1673.0 1049.3L1675.0 1049.3L1677.0 1049.3L1679.0 1049.3L1681.0 1049.3L1683.0 1049.3L1685.0 1049.3L1687.0 1049.3L1689.0 1049.3L1691.0 1049.3L1693.0 1049.3L1695.0 1049.3L1697.0 1049.3L1699.0 1049.3L1701.0 1049.3L1703.0 1049.3L1705.0 1049.3L1707.0 1049.3L1709.0 1049.3L1711.0 1049.3L1713.0 1049.3L1715.0 1049.3L1717.0 1049.3L1719.0 1049.3L1721.0 1049.3L1723.0 1049.3L1725.0 1049.3L1727.0 1049.3L1729.0 1049.3L1731.0 1049.3L1733.0 1049.3L1735.0 1049.3L1737.0 1049.3L1739.0 1049.3L1741.0 1049.3L1743.0 1049.3L1745.0 1049.3L1747.0 1049.3L1749.0 1049.3L1751.0 1049.3L1753.0 1049.3L1755.0 1049.3L1757.0 1049.3L1759.0 1049.3L1761.0 1049.3L1763.0 1049.3L1765.0 1049.3L1767.0 1049.3L1769.0 1049.3L1771.0 1049.3L1773.0 1049.3L1775.0 1049.3L1777.0 1049.3L1779.0 1049.3L1781.0 1049.3L1783.0 1049.3L1785.0 1049.3L1787.0 1049.3L1789.0 1049.3L1791.0 1049.3L1793.0 1049.3L1795.0 1049.3L1797.0 1049.3L1799.0 1049.3L1801.0 1049.3L1803.0 1049.3L1805.0 1049.3L1807.0 1049.3L1809.0 1049.3L1811.0 1049.3L1813.0 1049.3L1815.0 1049.3L1817.0 1049.3L1819.0 1049.3L1821.0 1049.3L1823.0 1049.3L1825.0 1049.3L1827.0 1049.3L1829.0 1049.3L1831.0 1049.3L1833.0 1049.3L1835.0 1049.3L1837.0 1049.3L1839.0 1049.3L1841.0 1049.3L1843.0 1049.3L1845.0 1049.3L1847.0 1049.3L1849.0 1049.3L1851.0 1049.3L1853.0 1049.3L1855.0 1049.3L1857.0 1049.3L1859.0 1049.3L1861.0 1049.3L1863.0 1049.3L1865.0 1049.3L1867.0 1049.3L1869.0 1049.3L1871.0 1049.3L1873.0 1049.3L1875.0 1049.3L1877.0 1049.3L1879.0 1049.3L1881.0 1049.3L1883.0 1049.3L1885.0 1049.3L1887.0 1049.3L1889.0 1049.3L1891.0 1049.3L1893.0 1049.3L1895.0 1049.3L1897.0 1049.3L1899.0 1049.3L1901.0 1049.3L1903.0 1049.3L1905.0 1049.3L1907.0 1049.3L1909.0 1049.3L1911.0 1049.3L1913.0 1049.3L1915.0 1049.3L1917.0 1049.3L1919.0 1049.3L1921.0 1049.3L1923.0 1049.3L1925.0 1049.3L1927.0 1049.3L1929.0 1049.3L1931.0 1049.3L1933.0 1049.3L1935.0 1049.3L1937.0 1049.3L1939.0 1049.3L1941.0 1049.3L1943.0 1049.3L1945.0 1049.3L1947.0 1049.3L1949.0 1049.3L1951.0 1049.3L1953.0 1049.3L1955.0 1049.3L1957.0 1049.3L1959.0 1049.3L1961.0 1049.3L1963.0 1049.3" fill="none" stroke="#0079F4" stroke-width="11.4" stroke-linecap="round" stroke-linejoin="round" stroke-dasharray="43.6 56.8" stroke-dashoffset="37.60"/>
<path d="M295.0 1049.3L297.0 1049.3L299.0 1049.3L301.0 1049.3L303.0 1049.3L305.0 1049.3L307.0 1049.3L309.0 1049.3L311.0 1049.3L313.0 1049.3L315.0 1049.3L317.0 1049.3L319.0 1049.3L321.0 1049.3L323.0 1049.3L325.0 1049.3L327.0 1049.3L329.0 1049.3L331.0 1049.3L333.0 1049.3L335.0 1049.3L337.0 1049.3L339.0 1049.3L341.0 1049.3L343.0 1049.3L345.0 1049.3L347.0 1049.3L349.0 1049.3L351.0 1049.3L353.0 1049.3L355.0 1049.3L357.0 1049.3L359.0 1049.3L361.0 1049.3L363.0 1049.3L365.0 1049.3L367.0 1049.3L369.0 1049.3L371.0 1049.3L373.0 1049.3L375.0 1049.3L377.0 1049.3L379.0 1049.3L381.0 1049.3L383.0 1049.3L385.0 1049.3L387.0 1049.3L389.0 1049.3L391.0 1049.3L393.0 1049.3L395.0 1049.3L397.0 1049.3L399.0 1049.3L401.0 1049.3L403.0 1049.3L405.0 1049.3L407.0 1049.3L409.0 1049.3L411.0 1049.3L413.0 1049.3L415.0 1049.3L417.0 1049.3L419.0 1049.3L421.0 1049.3L423.0 1049.3L425.0 1049.3L427.0 1049.3L429.0 1049.3L431.0 1049.3L433.0 1049.3L435.0 1049.3L437.0 1049.3L439.0 1049.3L441.0 1049.3L443.0 1049.3L445.0 1049.3L447.0 1049.3L449.0 1049.3L451.0 1049.3L453.0 1049.3L455.0 1049.3L457.0 1049.3L459.0 1049.3L461.0 1049.3L463.0 1049.3L465.0 1049.3L467.0 1049.3L469.0 1049.3L471.0 1049.3L473.0 1049.3L475.0 1049.3L477.0 1049.3L479.0 1049.3L481.0 1049.3L483.0 1049.3L485.0 1049.3L487.0 1049.3L489.0 1049.3L491.0 1049.3L493.0 1049.3L495.0 1049.3L497.0 1049.3L499.0 1049.3L501.0 1049.3L503.0 1049.3L505.0 1049.3L507.0 1049.3L509.0 1049.3L511.0 1049.3L513.0 1049.3L515.0 1049.3L517.0 1049.3L519.0 1049.3L521.0 1049.3L523.0 1049.3L525.0 1049.3L527.0 1049.3L529.0 1049.3L531.0 1049.3L533.0 1049.3L535.0 1049.3L537.0 1049.3L539.0 1049.3L541.0 1049.3L543.0 1049.3L545.0 1049.3L547.0 1049.3L549.0 1049.3L551.0 1049.3L553.0 1049.3L555.0 1049.3L557.0 1049.3L559.0 1049.3L561.0 1049.3L563.0 1049.3L565.0 1049.3L567.0 1049.3L569.0 1049.3L571.0 1049.3L573.0 1049.3L575.0 1049.3L577.0 1049.3L579.0 1049.3L581.0 1049.3L583.0 1049.3L585.0 1049.3L587.0 1049.3L589.0 1049.3L591.0 1049.3L593.0 1049.3L595.0 1049.3L597.0 1049.3L599.0 1049.3L601.0 1049.3L603.0 1049.3L605.0 1049.3L607.0 1049.3L609.0 1049.3L611.0 1049.3L613.0 1049.3L615.0 1049.3L617.0 1049.3L619.0 1049.3L621.0 1049.3L623.0 1049.3L625.0 1049.3L627.0 1049.3L629.0 1049.3L631.0 1049.3L633.0 1049.3L635.0 1049.3L637.0 1049.3L639.0 1049.3L641.0 1049.3L643.0 1049.3L645.0 1049.3L647.0 1049.3L649.0 1049.3L651.0 1049.3L653.0 1049.3L655.0 1049.3L657.0 1049.3L659.0 1049.3L661.0 1049.3L663.0 1049.3L665.0 1049.3L667.0 1049.3L669.0 1049.3L671.0 1049.3L673.0 1049.3L675.0 1049.3L677.0 1049.3L679.0 1049.3L681.0 1049.3L683.0 1049.3L685.0 1049.3L687.0 1049.3L689.0 1049.3L691.0 1049.3L693.0 1049.3L695.0 1049.3L697.0 1049.3L699.0 1049.3L701.0 1049.3L703.0 1049.3L705.0 1049.3L707.0 1049.3L709.0 1049.3L711.0 1049.3L713.0 1049.3L715.0 1049.3L717.0 1049.3L719.0 1049.3L721.0 1049.3L723.0 1049.3L725.0 1049.3L727.0 1049.3L729.0 1049.3L731.0 1049.3L733.0 1049.2L735.0 1049.2L737.0 1049.2L739.0 1049.2L741.0 1049.2L743.0 1049.2L745.0 1049.2L747.0 1049.2L749.0 1049.2L751.0 1049.2L753.0 1049.1L755.0 1049.1L757.0 1049.1L759.0 1049.1L761.0 1049.1L763.0 1049.0L765.0 1049.0L767.0 1049.0L769.0 1048.9L771.0 1048.9L773.0 1048.9L775.0 1048.8L777.0 1048.8L779.0 1048.7L781.0 1048.7L783.0 1048.6L785.0 1048.5L787.0 1048.5L789.0 1048.4L791.0 1048.3L793.0 1048.2L795.0 1048.1L797.0 1048.0L799.0 1047.9L801.0 1047.7L803.0 1047.6L805.0 1047.5L807.0 1047.3L809.0 1047.1L811.0 1046.9L813.0 1046.7L815.0 1046.5L817.0 1046.3L819.0 1046.1L821.0 1045.8L823.0 1045.6L825.0 1045.3L827.0 1045.0L829.0 1044.6L831.0 1044.3L833.0 1043.9L835.0 1043.6L837.0 1043.1L839.0 1042.7L841.0 1042.3L843.0 1041.8L845.0 1041.3L847.0 1040.8L849.0 1040.2L851.0 1039.6L853.0 1039.0L855.0 1038.4L857.0 1037.7L859.0 1037.1L861.0 1036.3L863.0 1035.6L865.0 1034.8L867.0 1034.0L869.0 1033.2L871.0 1032.3L873.0 1031.4L875.0 1030.5L877.0 1029.6L879.0 1028.6L881.0 1027.6L883.0 1026.5L885.0 1025.5L887.0 1024.4L889.0 1023.3L891.0 1022.1L893.0 1021.0L895.0 1019.8L897.0 1018.6L899.0 1017.3L901.0 1016.1L903.0 1014.8L905.0 1013.6L907.0 1012.3L909.0 1011.0L911.0 1009.7L913.0 1008.4L915.0 1007.1L917.0 1005.8L919.0 1004.4L921.0 1003.1L923.0 1001.8L925.0 1000.5L927.0 999.3L929.0 998.0L931.0 996.7L933.0 995.5L935.0 994.3L937.0 993.1L939.0 992.0L941.0 990.9L943.0 989.8L945.0 988.7L947.0 987.7L949.0 986.7L951.0 985.8L953.0 984.9L955.0 984.1L957.0 983.3L959.0 982.6L961.0 981.9L963.0 981.3L965.0 980.8L967.0 980.3L969.0 979.8L971.0 979.5L973.0 979.2L975.0 978.9L977.0 978.8L979.0 978.6L981.0 978.6L983.0 978.6L985.0 978.7L987.0 978.9L989.0 979.1L991.0 979.4L993.0 979.7L995.0 980.1L997.0 980.6L999.0 981.2L1001.0 981.7L1003.0 982.4L1005.0 983.1L1007.0 983.9L1009.0 984.7L1011.0 985.5L1013.0 986.5L1015.0 987.4L1017.0 988.4L1019.0 989.5L1021.0 990.5L1023.0 991.6L1025.0 992.8L1027.0 994.0L1029.0 995.2L1031.0 996.4L1033.0 997.6L1035.0 998.9L1037.0 1000.2L1039.0 1001.5L1041.0 1002.8L1043.0 1004.1L1045.0 1005.4L1047.0 1006.7L1049.0 1008.0L1051.0 1009.3L1053.0 1010.6L1055.0 1011.9L1057.0 1013.2L1059.0 1014.5L1061.0 1015.7L1063.0 1017.0L1065.0 1018.2L1067.0 1019.4L1069.0 1020.6L1071.0 1021.8L1073.0 1022.9L1075.0 1024.0L1077.0 1025.1L1079.0 1026.2L1081.0 1027.3L1083.0 1028.3L1085.0 1029.3L1087.0 1030.2L1089.0 1031.2L1091.0 1032.1L1093.0 1032.9L1095.0 1033.8L1097.0 1034.6L1099.0 1035.4L1101.0 1036.1L1103.0 1036.8L1105.0 1037.5L1107.0 1038.2L1109.0 1038.9L1111.0 1039.5L1113.0 1040.1L1115.0 1040.6L1117.0 1041.1L1119.0 1041.6L1121.0 1042.1L1123.0 1042.6L1125.0 1043.0L1127.0 1043.4L1129.0 1043.8L1131.0 1044.2L1133.0 1044.5L1135.0 1044.9L1137.0 1045.2L1139.0 1045.5L1141.0 1045.7L1143.0 1046.0L1145.0 1046.2L1147.0 1046.5L1149.0 1046.7L1151.0 1046.9L1153.0 1047.1L1155.0 1047.2L1157.0 1047.4L1159.0 1047.6L1161.0 1047.7L1163.0 1047.8L1165.0 1047.9L1167.0 1048.1L1169.0 1048.2L1171.0 1048.3L1173.0 1048.3L1175.0 1048.4L1177.0 1048.5L1179.0 1048.6L1181.0 1048.6L1183.0 1048.7L1185.0 1048.8L1187.0 1048.8L1189.0 1048.9L1191.0 1048.9L1193.0 1048.9L1195.0 1049.0L1197.0 1049.0L1199.0 1049.0L1201.0 1049.1L1203.0 1049.1L1205.0 1049.1L1207.0 1049.1L1209.0 1049.1L1211.0 1049.2L1213.0 1049.2L1215.0 1049.2L1217.0 1049.2L1219.0 1049.2L1221.0 1049.2L1223.0 1049.2L1225.0 1049.2L1227.0 1049.2L1229.0 1049.2L1231.0 1049.3L1233.0 1049.3L1235.0 1049.3L1237.0 1049.3L1239.0 1049.3L1241.0 1049.3L1243.0 1049.3L1245.0 1049.3L1247.0 1049.3L1249.0 1049.3L1251.0 1049.3L1253.0 1049.3L1255.0 1049.3L1257.0 1049.3L1259.0 1049.3L1261.0 1049.3L1263.0 1049.3L1265.0 1049.3L1267.0 1049.3L1269.0 1049.3L1271.0 1049.3L1273.0 1049.3L1275.0 1049.3L1277.0 1049.3L1279.0 1049.3L1281.0 1049.3L1283.0 1049.3L1285.0 1049.3L1287.0 1049.3L1289.0 1049.3L1291.0 1049.3L1293.0 1049.3L1295.0 1049.3L1297.0 1049.3L1299.0 1049.3L1301.0 1049.3L1303.0 1049.3L1305.0 1049.3L1307.0 1049.3L1309.0 1049.3L1311.0 1049.3L1313.0 1049.3L1315.0 1049.3L1317.0 1049.3L1319.0 1049.3L1321.0 1049.3L1323.0 1049.3L1325.0 1049.3L1327.0 1049.3L1329.0 1049.3L1331.0 1049.3L1333.0 1049.3L1335.0 1049.3L1337.0 1049.3L1339.0 1049.3L1341.0 1049.3L1343.0 1049.3L1345.0 1049.3L1347.0 1049.3L1349.0 1049.3L1351.0 1049.3L1353.0 1049.3L1355.0 1049.3L1357.0 1049.3L1359.0 1049.3L1361.0 1049.3L1363.0 1049.3L1365.0 1049.3L1367.0 1049.3L1369.0 1049.3L1371.0 1049.3L1373.0 1049.3L1375.0 1049.3L1377.0 1049.3L1379.0 1049.3L1381.0 1049.3L1383.0 1049.3L1385.0 1049.3L1387.0 1049.3L1389.0 1049.3L1391.0 1049.3L1393.0 1049.3L1395.0 1049.3L1397.0 1049.3L1399.0 1049.3L1401.0 1049.3L1403.0 1049.3L1405.0 1049.3L1407.0 1049.3L1409.0 1049.3L1411.0 1049.3L1413.0 1049.3L1415.0 1049.3L1417.0 1049.3L1419.0 1049.3L1421.0 1049.3L1423.0 1049.3L1425.0 1049.3L1427.0 1049.3L1429.0 1049.3L1431.0 1049.3L1433.0 1049.3L1435.0 1049.3L1437.0 1049.3L1439.0 1049.3L1441.0 1049.3L1443.0 1049.3L1445.0 1049.3L1447.0 1049.3L1449.0 1049.3L1451.0 1049.3L1453.0 1049.3L1455.0 1049.3L1457.0 1049.3L1459.0 1049.3L1461.0 1049.3L1463.0 1049.3L1465.0 1049.3L1467.0 1049.3L1469.0 1049.3L1471.0 1049.3L1473.0 1049.3L1475.0 1049.3L1477.0 1049.3L1479.0 1049.3L1481.0 1049.3L1483.0 1049.3L1485.0 1049.3L1487.0 1049.3L1489.0 1049.3L1491.0 1049.3L1493.0 1049.3L1495.0 1049.3L1497.0 1049.3L1499.0 1049.3L1501.0 1049.3L1503.0 1049.3L1505.0 1049.3L1507.0 1049.3L1509.0 1049.3L1511.0 1049.3L1513.0 1049.3L1515.0 1049.3L1517.0 1049.3L1519.0 1049.3L1521.0 1049.3L1523.0 1049.3L1525.0 1049.3L1527.0 1049.3L1529.0 1049.3L1531.0 1049.3L1533.0 1049.3L1535.0 1049.3L1537.0 1049.3L1539.0 1049.3L1541.0 1049.3L1543.0 1049.3L1545.0 1049.3L1547.0 1049.3L1549.0 1049.3L1551.0 1049.3L1553.0 1049.3L1555.0 1049.3L1557.0 1049.3L1559.0 1049.3L1561.0 1049.3L1563.0 1049.3L1565.0 1049.3L1567.0 1049.3L1569.0 1049.3L1571.0 1049.3L1573.0 1049.3L1575.0 1049.3L1577.0 1049.3L1579.0 1049.3L1581.0 1049.3L1583.0 1049.3L1585.0 1049.3L1587.0 1049.3L1589.0 1049.3L1591.0 1049.3L1593.0 1049.3L1595.0 1049.3L1597.0 1049.3L1599.0 1049.3L1601.0 1049.3L1603.0 1049.3L1605.0 1049.3L1607.0 1049.3L1609.0 1049.3L1611.0 1049.3L1613.0 1049.3L1615.0 1049.3L1617.0 1049.3L1619.0 1049.3L1621.0 1049.3L1623.0 1049.3L1625.0 1049.3L1627.0 1049.3L1629.0 1049.3L1631.0 1049.3L1633.0 1049.3L1635.0 1049.3L1637.0 1049.3L1639.0 1049.3L1641.0 1049.3L1643.0 1049.3L1645.0 1049.3L1647.0 1049.3L1649.0 1049.3L1651.0 1049.3L1653.0 1049.3L1655.0 1049.3L1657.0 1049.3L1659.0 1049.3L1661.0 1049.3L1663.0 1049.3L1665.0 1049.3L1667.0 1049.3L1669.0 1049.3L1671.0 1049.3L1673.0 1049.3L1675.0 1049.3L1677.0 1049.3L1679.0 1049.3L1681.0 1049.3L1683.0 1049.3L1685.0 1049.3L1687.0 1049.3L1689.0 1049.3L1691.0 1049.3L1693.0 1049.3L1695.0 1049.3L1697.0 1049.3L1699.0 1049.3L1701.0 1049.3L1703.0 1049.3L1705.0 1049.3L1707.0 1049.3L1709.0 1049.3L1711.0 1049.3L1713.0 1049.3L1715.0 1049.3L1717.0 1049.3L1719.0 1049.3L1721.0 1049.3L1723.0 1049.3L1725.0 1049.3L1727.0 1049.3L1729.0 1049.3L1731.0 1049.3L1733.0 1049.3L1735.0 1049.3L1737.0 1049.3L1739.0 1049.3L1741.0 1049.3L1743.0 1049.3L1745.0 1049.3L1747.0 1049.3L1749.0 1049.3L1751.0 1049.3L1753.0 1049.3L1755.0 1049.3L1757.0 1049.3L1759.0 1049.3L1761.0 1049.3L1763.0 1049.3L1765.0 1049.3L1767.0 1049.3L1769.0 1049.3L1771.0 1049.3L1773.0 1049.3L1775.0 1049.3L1777.0 1049.3L1779.0 1049.3L1781.0 1049.3L1783.0 1049.3L1785.0 1049.3L1787.0 1049.3L1789.0 1049.3L1791.0 1049.3L1793.0 1049.3L1795.0 1049.3L1797.0 1049.3L1799.0 1049.3L1801.0 1049.3L1803.0 1049.3L1805.0 1049.3L1807.0 1049.3L1809.0 1049.3L1811.0 1049.3L1813.0 1049.3L1815.0 1049.3L1817.0 1049.3L1819.0 1049.3L1821.0 1049.3L1823.0 1049.3L1825.0 1049.3L1827.0 1049.3L1829.0 1049.3L1831.0 1049.3L1833.0 1049.3L1835.0 1049.3L1837.0 1049.3L1839.0 1049.3L1841.0 1049.3L1843.0 1049.3L1845.0 1049.3L1847.0 1049.3L1849.0 1049.3L1851.0 1049.3L1853.0 1049.3L1855.0 1049.3L1857.0 1049.3L1859.0 1049.3L1861.0 1049.3L1863.0 1049.3L1865.0 1049.3L1867.0 1049.3L1869.0 1049.3L1871.0 1049.3L1873.0 1049.3L1875.0 1049.3L1877.0 1049.3L1879.0 1049.3L1881.0 1049.3L1883.0 1049.3L1885.0 1049.3L1887.0 1049.3L1889.0 1049.3L1891.0 1049.3L1893.0 1049.3L1895.0 1049.3L1897.0 1049.3L1899.0 1049.3L1901.0 1049.3L1903.0 1049.3L1905.0 1049.3L1907.0 1049.3L1909.0 1049.3L1911.0 1049.3L1913.0 1049.3L1915.0 1049.3L1917.0 1049.3L1919.0 1049.3L1921.0 1049.3L1923.0 1049.3L1925.0 1049.3L1927.0 1049.3L1929.0 1049.3L1931.0 1049.3L1933.0 1049.3L1935.0 1049.3L1937.0 1049.3L1939.0 1049.3L1941.0 1049.3L1943.0 1049.3L1945.0 1049.3L1947.0 1049.3L1949.0 1049.3L1951.0 1049.3L1953.0 1049.3L1955.0 1049.3L1957.0 1049.3L1959.0 1049.3L1961.0 1049.3L1963.0 1049.3" fill="none" stroke="#0079F4" stroke-width="11.4" stroke-linecap="round" stroke-linejoin="round" stroke-dasharray="43.6 56.8" stroke-dashoffset="51.40"/>
<path d="M295.0 1049.3L297.0 1049.3L299.0 1049.3L301.0 1049.3L303.0 1049.3L305.0 1049.3L307.0 1049.3L309.0 1049.3L311.0 1049.3L313.0 1049.3L315.0 1049.3L317.0 1049.3L319.0 1049.3L321.0 1049.3L323.0 1049.3L325.0 1049.3L327.0 1049.3L329.0 1049.3L331.0 1049.3L333.0 1049.3L335.0 1049.3L337.0 1049.3L339.0 1049.3L341.0 1049.3L343.0 1049.3L345.0 1049.3L347.0 1049.3L349.0 1049.3L351.0 1049.3L353.0 1049.3L355.0 1049.3L357.0 1049.3L359.0 1049.3L361.0 1049.3L363.0 1049.3L365.0 1049.3L367.0 1049.3L369.0 1049.3L371.0 1049.3L373.0 1049.3L375.0 1049.3L377.0 1049.3L379.0 1049.3L381.0 1049.3L383.0 1049.3L385.0 1049.3L387.0 1049.3L389.0 1049.3L391.0 1049.3L393.0 1049.3L395.0 1049.3L397.0 1049.3L399.0 1049.3L401.0 1049.3L403.0 1049.3L405.0 1049.3L407.0 1049.3L409.0 1049.3L411.0 1049.3L413.0 1049.3L415.0 1049.3L417.0 1049.3L419.0 1049.3L421.0 1049.3L423.0 1049.3L425.0 1049.3L427.0 1049.3L429.0 1049.3L431.0 1049.3L433.0 1049.3L435.0 1049.3L437.0 1049.3L439.0 1049.3L441.0 1049.3L443.0 1049.3L445.0 1049.3L447.0 1049.3L449.0 1049.3L451.0 1049.3L453.0 1049.3L455.0 1049.3L457.0 1049.3L459.0 1049.3L461.0 1049.3L463.0 1049.3L465.0 1049.3L467.0 1049.3L469.0 1049.3L471.0 1049.3L473.0 1049.3L475.0 1049.3L477.0 1049.3L479.0 1049.3L481.0 1049.3L483.0 1049.3L485.0 1049.3L487.0 1049.3L489.0 1049.3L491.0 1049.3L493.0 1049.3L495.0 1049.3L497.0 1049.3L499.0 1049.3L501.0 1049.3L503.0 1049.3L505.0 1049.3L507.0 1049.3L509.0 1049.3L511.0 1049.3L513.0 1049.3L515.0 1049.3L517.0 1049.3L519.0 1049.3L521.0 1049.3L523.0 1049.3L525.0 1049.3L527.0 1049.3L529.0 1049.3L531.0 1049.3L533.0 1049.3L535.0 1049.3L537.0 1049.3L539.0 1049.3L541.0 1049.3L543.0 1049.3L545.0 1049.3L547.0 1049.3L549.0 1049.3L551.0 1049.3L553.0 1049.3L555.0 1049.3L557.0 1049.3L559.0 1049.3L561.0 1049.3L563.0 1049.3L565.0 1049.3L567.0 1049.3L569.0 1049.3L571.0 1049.3L573.0 1049.3L575.0 1049.3L577.0 1049.3L579.0 1049.3L581.0 1049.3L583.0 1049.3L585.0 1049.3L587.0 1049.3L589.0 1049.3L591.0 1049.3L593.0 1049.3L595.0 1049.3L597.0 1049.3L599.0 1049.3L601.0 1049.3L603.0 1049.3L605.0 1049.3L607.0 1049.3L609.0 1049.3L611.0 1049.3L613.0 1049.3L615.0 1049.3L617.0 1049.3L619.0 1049.3L621.0 1049.3L623.0 1049.3L625.0 1049.3L627.0 1049.3L629.0 1049.3L631.0 1049.3L633.0 1049.3L635.0 1049.3L637.0 1049.3L639.0 1049.3L641.0 1049.3L643.0 1049.3L645.0 1049.3L647.0 1049.3L649.0 1049.3L651.0 1049.3L653.0 1049.3L655.0 1049.3L657.0 1049.3L659.0 1049.3L661.0 1049.3L663.0 1049.3L665.0 1049.3L667.0 1049.3L669.0 1049.3L671.0 1049.3L673.0 1049.3L675.0 1049.3L677.0 1049.3L679.0 1049.3L681.0 1049.3L683.0 1049.3L685.0 1049.3L687.0 1049.3L689.0 1049.3L691.0 1049.3L693.0 1049.3L695.0 1049.3L697.0 1049.3L699.0 1049.3L701.0 1049.3L703.0 1049.3L705.0 1049.2L707.0 1049.2L709.0 1049.2L711.0 1049.2L713.0 1049.2L715.0 1049.2L717.0 1049.2L719.0 1049.2L721.0 1049.2L723.0 1049.2L725.0 1049.2L727.0 1049.2L729.0 1049.2L731.0 1049.2L733.0 1049.2L735.0 1049.2L737.0 1049.2L739.0 1049.2L741.0 1049.1L743.0 1049.1L745.0 1049.1L747.0 1049.1L749.0 1049.1L751.0 1049.1L753.0 1049.1L755.0 1049.1L757.0 1049.1L759.0 1049.0L761.0 1049.0L763.0 1049.0L765.0 1049.0L767.0 1049.0L769.0 1049.0L771.0 1048.9L773.0 1048.9L775.0 1048.9L777.0 1048.9L779.0 1048.8L781.0 1048.8L783.0 1048.8L785.0 1048.8L787.0 1048.7L789.0 1048.7L791.0 1048.7L793.0 1048.6L795.0 1048.6L797.0 1048.6L799.0 1048.5L801.0 1048.5L803.0 1048.4L805.0 1048.4L807.0 1048.3L809.0 1048.3L811.0 1048.2L813.0 1048.2L815.0 1048.1L817.0 1048.1L819.0 1048.0L821.0 1047.9L823.0 1047.9L825.0 1047.8L827.0 1047.7L829.0 1047.6L831.0 1047.5L833.0 1047.5L835.0 1047.4L837.0 1047.3L839.0 1047.2L841.0 1047.1L843.0 1047.0L845.0 1046.9L847.0 1046.7L849.0 1046.6L851.0 1046.5L853.0 1046.4L855.0 1046.2L857.0 1046.1L859.0 1045.9L861.0 1045.8L863.0 1045.6L865.0 1045.5L867.0 1045.3L869.0 1045.1L871.0 1044.9L873.0 1044.7L875.0 1044.5L877.0 1044.3L879.0 1044.1L881.0 1043.9L883.0 1043.7L885.0 1043.4L887.0 1043.2L889.0 1042.9L891.0 1042.6L893.0 1042.4L895.0 1042.1L897.0 1041.8L899.0 1041.5L901.0 1041.2L903.0 1040.9L905.0 1040.5L907.0 1040.2L909.0 1039.8L911.0 1039.4L913.0 1039.1L915.0 1038.7L917.0 1038.3L919.0 1037.8L921.0 1037.4L923.0 1037.0L925.0 1036.5L927.0 1036.0L929.0 1035.6L931.0 1035.1L933.0 1034.5L935.0 1034.0L937.0 1033.5L939.0 1032.9L941.0 1032.3L943.0 1031.8L945.0 1031.1L947.0 1030.5L949.0 1029.9L951.0 1029.2L953.0 1028.6L955.0 1027.9L957.0 1027.2L959.0 1026.5L961.0 1025.7L963.0 1025.0L965.0 1024.2L967.0 1023.4L969.0 1022.6L971.0 1021.7L973.0 1020.9L975.0 1020.0L977.0 1019.1L979.0 1018.2L981.0 1017.3L983.0 1016.4L985.0 1015.4L987.0 1014.4L989.0 1013.4L991.0 1012.4L993.0 1011.4L995.0 1010.3L997.0 1009.2L999.0 1008.1L1001.0 1007.0L1003.0 1005.9L1005.0 1004.7L1007.0 1003.6L1009.0 1002.4L1011.0 1001.1L1013.0 999.9L1015.0 998.7L1017.0 997.4L1019.0 996.1L1021.0 994.8L1023.0 993.5L1025.0 992.1L1027.0 990.8L1029.0 989.4L1031.0 988.0L1033.0 986.6L1035.0 985.2L1037.0 983.8L1039.0 982.3L1041.0 980.8L1043.0 979.3L1045.0 977.9L1047.0 976.3L1049.0 974.8L1051.0 973.3L1053.0 971.7L1055.0 970.2L1057.0 968.6L1059.0 967.0L1061.0 965.4L1063.0 963.8L1065.0 962.2L1067.0 960.6L1069.0 959.0L1071.0 957.4L1073.0 955.7L1075.0 954.1L1077.0 952.4L1079.0 950.8L1081.0 949.1L1083.0 947.5L1085.0 945.8L1087.0 944.2L1089.0 942.5L1091.0 940.9L1093.0 939.2L1095.0 937.6L1097.0 935.9L1099.0 934.3L1101.0 932.7L1103.0 931.1L1105.0 929.4L1107.0 927.8L1109.0 926.2L1111.0 924.7L1113.0 923.1L1115.0 921.5L1117.0 920.0L1119.0 918.4L1121.0 916.9L1123.0 915.4L1125.0 913.9L1127.0 912.5L1129.0 911.0L1131.0 909.6L1133.0 908.2L1135.0 906.8L1137.0 905.5L1139.0 904.1L1141.0 902.8L1143.0 901.5L1145.0 900.3L1147.0 899.0L1149.0 897.8L1151.0 896.7L1153.0 895.5L1155.0 894.4L1157.0 893.3L1159.0 892.3L1161.0 891.2L1163.0 890.3L1165.0 889.3L1167.0 888.4L1169.0 887.5L1171.0 886.7L1173.0 885.9L1175.0 885.1L1177.0 884.4L1179.0 883.7L1181.0 883.1L1183.0 882.4L1185.0 881.9L1187.0 881.3L1189.0 880.9L1191.0 880.4L1193.0 880.0L1195.0 879.6L1197.0 879.3L1199.0 879.1L1201.0 878.8L1203.0 878.6L1205.0 878.5L1207.0 878.4L1209.0 878.3L1211.0 878.3L1213.0 878.3L1215.0 878.4L1217.0 878.5L1219.0 878.7L1221.0 878.9L1223.0 879.1L1225.0 879.4L1227.0 879.7L1229.0 880.1L1231.0 880.5L1233.0 881.0L1235.0 881.4L1237.0 882.0L1239.0 882.6L1241.0 883.2L1243.0 883.8L1245.0 884.5L1247.0 885.3L1249.0 886.0L1251.0 886.9L1253.0 887.7L1255.0 888.6L1257.0 889.5L1259.0 890.5L1261.0 891.4L1263.0 892.5L1265.0 893.5L1267.0 894.6L1269.0 895.7L1271.0 896.9L1273.0 898.1L1275.0 899.3L1277.0 900.5L1279.0 901.8L1281.0 903.1L1283.0 904.4L1285.0 905.7L1287.0 907.1L1289.0 908.5L1291.0 909.9L1293.0 911.3L1295.0 912.8L1297.0 914.2L1299.0 915.7L1301.0 917.2L1303.0 918.7L1305.0 920.3L1307.0 921.8L1309.0 923.4L1311.0 925.0L1313.0 926.6L1315.0 928.2L1317.0 929.8L1319.0 931.4L1321.0 933.0L1323.0 934.6L1325.0 936.3L1327.0 937.9L1329.0 939.6L1331.0 941.2L1333.0 942.9L1335.0 944.5L1337.0 946.2L1339.0 947.8L1341.0 949.5L1343.0 951.1L1345.0 952.8L1347.0 954.4L1349.0 956.0L1351.0 957.7L1353.0 959.3L1355.0 960.9L1357.0 962.5L1359.0 964.1L1361.0 965.7L1363.0 967.3L1365.0 968.9L1367.0 970.5L1369.0 972.0L1371.0 973.6L1373.0 975.1L1375.0 976.6L1377.0 978.2L1379.0 979.6L1381.0 981.1L1383.0 982.6L1385.0 984.0L1387.0 985.5L1389.0 986.9L1391.0 988.3L1393.0 989.7L1395.0 991.1L1397.0 992.4L1399.0 993.8L1401.0 995.1L1403.0 996.4L1405.0 997.7L1407.0 998.9L1409.0 1000.2L1411.0 1001.4L1413.0 1002.6L1415.0 1003.8L1417.0 1005.0L1419.0 1006.1L1421.0 1007.2L1423.0 1008.4L1425.0 1009.4L1427.0 1010.5L1429.0 1011.6L1431.0 1012.6L1433.0 1013.6L1435.0 1014.6L1437.0 1015.6L1439.0 1016.6L1441.0 1017.5L1443.0 1018.4L1445.0 1019.3L1447.0 1020.2L1449.0 1021.1L1451.0 1021.9L1453.0 1022.7L1455.0 1023.5L1457.0 1024.3L1459.0 1025.1L1461.0 1025.9L1463.0 1026.6L1465.0 1027.3L1467.0 1028.0L1469.0 1028.7L1471.0 1029.4L1473.0 1030.0L1475.0 1030.7L1477.0 1031.3L1479.0 1031.9L1481.0 1032.5L1483.0 1033.0L1485.0 1033.6L1487.0 1034.1L1489.0 1034.6L1491.0 1035.2L1493.0 1035.7L1495.0 1036.1L1497.0 1036.6L1499.0 1037.1L1501.0 1037.5L1503.0 1037.9L1505.0 1038.3L1507.0 1038.7L1509.0 1039.1L1511.0 1039.5L1513.0 1039.9L1515.0 1040.2L1517.0 1040.6L1519.0 1040.9L1521.0 1041.2L1523.0 1041.6L1525.0 1041.9L1527.0 1042.1L1529.0 1042.4L1531.0 1042.7L1533.0 1043.0L1535.0 1043.2L1537.0 1043.5L1539.0 1043.7L1541.0 1043.9L1543.0 1044.2L1545.0 1044.4L1547.0 1044.6L1549.0 1044.8L1551.0 1045.0L1553.0 1045.1L1555.0 1045.3L1557.0 1045.5L1559.0 1045.7L1561.0 1045.8L1563.0 1046.0L1565.0 1046.1L1567.0 1046.3L1569.0 1046.4L1571.0 1046.5L1573.0 1046.6L1575.0 1046.8L1577.0 1046.9L1579.0 1047.0L1581.0 1047.1L1583.0 1047.2L1585.0 1047.3L1587.0 1047.4L1589.0 1047.5L1591.0 1047.6L1593.0 1047.6L1595.0 1047.7L1597.0 1047.8L1599.0 1047.9L1601.0 1047.9L1603.0 1048.0L1605.0 1048.1L1607.0 1048.1L1609.0 1048.2L1611.0 1048.2L1613.0 1048.3L1615.0 1048.3L1617.0 1048.4L1619.0 1048.4L1621.0 1048.5L1623.0 1048.5L1625.0 1048.6L1627.0 1048.6L1629.0 1048.6L1631.0 1048.7L1633.0 1048.7L1635.0 1048.7L1637.0 1048.8L1639.0 1048.8L1641.0 1048.8L1643.0 1048.8L1645.0 1048.9L1647.0 1048.9L1649.0 1048.9L1651.0 1048.9L1653.0 1049.0L1655.0 1049.0L1657.0 1049.0L1659.0 1049.0L1661.0 1049.0L1663.0 1049.0L1665.0 1049.1L1667.0 1049.1L1669.0 1049.1L1671.0 1049.1L1673.0 1049.1L1675.0 1049.1L1677.0 1049.1L1679.0 1049.1L1681.0 1049.1L1683.0 1049.2L1685.0 1049.2L1687.0 1049.2L1689.0 1049.2L1691.0 1049.2L1693.0 1049.2L1695.0 1049.2L1697.0 1049.2L1699.0 1049.2L1701.0 1049.2L1703.0 1049.2L1705.0 1049.2L1707.0 1049.2L1709.0 1049.2L1711.0 1049.2L1713.0 1049.2L1715.0 1049.2L1717.0 1049.2L1719.0 1049.3L1721.0 1049.3L1723.0 1049.3L1725.0 1049.3L1727.0 1049.3L1729.0 1049.3L1731.0 1049.3L1733.0 1049.3L1735.0 1049.3L1737.0 1049.3L1739.0 1049.3L1741.0 1049.3L1743.0 1049.3L1745.0 1049.3L1747.0 1049.3L1749.0 1049.3L1751.0 1049.3L1753.0 1049.3L1755.0 1049.3L1757.0 1049.3L1759.0 1049.3L1761.0 1049.3L1763.0 1049.3L1765.0 1049.3L1767.0 1049.3L1769.0 1049.3L1771.0 1049.3L1773.0 1049.3L1775.0 1049.3L1777.0 1049.3L1779.0 1049.3L1781.0 1049.3L1783.0 1049.3L1785.0 1049.3L1787.0 1049.3L1789.0 1049.3L1791.0 1049.3L1793.0 1049.3L1795.0 1049.3L1797.0 1049.3L1799.0 1049.3L1801.0 1049.3L1803.0 1049.3L1805.0 1049.3L1807.0 1049.3L1809.0 1049.3L1811.0 1049.3L1813.0 1049.3L1815.0 1049.3L1817.0 1049.3L1819.0 1049.3L1821.0 1049.3L1823.0 1049.3L1825.0 1049.3L1827.0 1049.3L1829.0 1049.3L1831.0 1049.3L1833.0 1049.3L1835.0 1049.3L1837.0 1049.3L1839.0 1049.3L1841.0 1049.3L1843.0 1049.3L1845.0 1049.3L1847.0 1049.3L1849.0 1049.3L1851.0 1049.3L1853.0 1049.3L1855.0 1049.3L1857.0 1049.3L1859.0 1049.3L1861.0 1049.3L1863.0 1049.3L1865.0 1049.3L1867.0 1049.3L1869.0 1049.3L1871.0 1049.3L1873.0 1049.3L1875.0 1049.3L1877.0 1049.3L1879.0 1049.3L1881.0 1049.3L1883.0 1049.3L1885.0 1049.3L1887.0 1049.3L1889.0 1049.3L1891.0 1049.3L1893.0 1049.3L1895.0 1049.3L1897.0 1049.3L1899.0 1049.3L1901.0 1049.3L1903.0 1049.3L1905.0 1049.3L1907.0 1049.3L1909.0 1049.3L1911.0 1049.3L1913.0 1049.3L1915.0 1049.3L1917.0 1049.3L1919.0 1049.3L1921.0 1049.3L1923.0 1049.3L1925.0 1049.3L1927.0 1049.3L1929.0 1049.3L1931.0 1049.3L1933.0 1049.3L1935.0 1049.3L1937.0 1049.3L1939.0 1049.3L1941.0 1049.3L1943.0 1049.3L1945.0 1049.3L1947.0 1049.3L1949.0 1049.3L1951.0 1049.3L1953.0 1049.3L1955.0 1049.3L1957.0 1049.3L1959.0 1049.3L1961.0 1049.3L1963.0 1049.3" fill="none" stroke="#0079F4" stroke-width="11.4" stroke-linecap="round" stroke-linejoin="round" stroke-dasharray="43.6 56.8" stroke-dashoffset="41.20"/>
<path d="M295.0 1354.0L311.8 1354.0L331.9 1354.0L352.0 1354.0L372.1 1354.0L392.2 1353.9L412.3 1353.7L432.4 1353.3L452.5 1351.9L472.6 1336.9L492.6 1321.7L512.7 1304.3L532.8 1283.1L552.9 1258.8L573.0 1236.6L593.1 1217.2L613.2 1201.4L633.3 1196.0L653.4 1193.3L673.5 1194.2L693.5 1204.2L713.6 1217.5L733.7 1226.8L753.8 1230.4L773.9 1234.3L794.0 1234.4L814.1 1229.8L834.2 1224.5L854.3 1219.3L874.4 1217.3L894.5 1217.8L914.5 1221.1L934.6 1224.7L954.7 1229.4L974.8 1237.8L994.9 1247.3L1015.0 1254.4L1035.1 1262.2L1055.2 1271.0L1075.3 1270.3L1095.3 1263.3L1115.4 1255.2L1135.5 1247.3L1155.6 1237.7L1175.7 1227.8L1195.8 1220.0L1215.9 1219.1L1236.0 1225.9L1256.1 1234.3L1276.2 1246.1L1296.2 1261.0L1316.3 1279.6L1336.4 1293.6L1356.5 1299.3L1376.6 1304.5L1396.7 1313.1L1416.8 1318.3L1436.9 1320.3L1457.0 1322.1L1477.1 1324.3L1497.2 1329.8L1517.2 1333.6L1537.3 1337.4L1557.4 1341.0L1577.5 1344.3L1597.6 1346.9L1617.7 1348.6L1637.8 1349.5L1657.9 1349.9L1678.0 1350.2L1698.0 1350.6L1718.1 1351.2L1738.2 1351.7L1758.3 1352.1L1778.4 1352.4L1798.5 1352.6L1818.6 1352.8L1838.7 1352.9L1858.8 1353.0L1878.9 1353.1L1899.0 1353.2L1919.0 1353.3L1939.1 1353.4L1959.2 1353.5L1963.0 1353.5" fill="none" stroke="#FF8811" stroke-width="11.4" stroke-linejoin="miter" stroke-miterlimit="3" stroke-linecap="butt"/>
<path d="M295.0 1354.2L297.0 1354.2L299.0 1354.2L301.0 1354.2L303.0 1354.2L305.0 1354.2L307.0 1354.2L309.0 1354.2L311.0 1354.2L313.0 1354.2L315.0 1354.2L317.0 1354.2L319.0 1354.2L321.0 1354.2L323.0 1354.2L325.0 1354.2L327.0 1354.2L329.0 1354.2L331.0 1354.2L333.0 1354.2L335.0 1354.2L337.0 1354.2L339.0 1354.2L341.0 1354.2L343.0 1354.2L345.0 1354.2L347.0 1354.2L349.0 1354.2L351.0 1354.2L353.0 1354.2L355.0 1354.2L357.0 1354.2L359.0 1354.2L361.0 1354.2L363.0 1354.2L365.0 1354.2L367.0 1354.2L369.0 1354.2L371.0 1354.2L373.0 1354.2L375.0 1354.2L377.0 1354.2L379.0 1354.2L381.0 1354.2L383.0 1354.2L385.0 1354.2L387.0 1354.2L389.0 1354.2L391.0 1354.2L393.0 1354.2L395.0 1354.2L397.0 1354.2L399.0 1354.2L401.0 1354.2L403.0 1354.2L405.0 1354.2L407.0 1354.2L409.0 1354.2L411.0 1354.2L413.0 1354.2L415.0 1354.2L417.0 1354.2L419.0 1354.2L421.0 1354.2L423.0 1354.2L425.0 1354.2L427.0 1354.2L429.0 1354.2L431.0 1354.2L433.0 1354.2L435.0 1354.2L437.0 1354.2L439.0 1354.2L441.0 1354.2L443.0 1354.2L445.0 1354.2L447.0 1354.2L449.0 1354.2L451.0 1354.2L453.0 1354.2L455.0 1354.2L457.0 1354.2L459.0 1354.2L461.0 1354.2L463.0 1354.2L465.0 1354.2L467.0 1354.2L469.0 1354.2L471.0 1354.2L473.0 1354.2L475.0 1354.2L477.0 1354.2L479.0 1354.2L481.0 1354.2L483.0 1354.2L485.0 1354.2L487.0 1354.2L489.0 1354.2L491.0 1354.2L493.0 1354.2L495.0 1354.2L497.0 1354.2L499.0 1354.2L501.0 1354.2L503.0 1354.2L505.0 1354.2L507.0 1354.2L509.0 1354.2L511.0 1354.2L513.0 1354.2L515.0 1354.2L517.0 1354.2L519.0 1354.2L521.0 1354.2L523.0 1354.2L525.0 1354.2L527.0 1354.2L529.0 1354.2L531.0 1354.2L533.0 1354.2L535.0 1354.2L537.0 1354.2L539.0 1354.2L541.0 1354.2L543.0 1354.2L545.0 1354.2L547.0 1354.2L549.0 1354.2L551.0 1354.2L553.0 1354.2L555.0 1354.2L557.0 1354.2L559.0 1354.2L561.0 1354.2L563.0 1354.2L565.0 1354.2L567.0 1354.1L569.0 1354.1L571.0 1354.1L573.0 1354.1L575.0 1354.1L577.0 1354.1L579.0 1354.1L581.0 1354.1L583.0 1354.1L585.0 1354.1L587.0 1354.1L589.0 1354.1L591.0 1354.0L593.0 1354.0L595.0 1354.0L597.0 1354.0L599.0 1354.0L601.0 1354.0L603.0 1353.9L605.0 1353.9L607.0 1353.9L609.0 1353.8L611.0 1353.8L613.0 1353.8L615.0 1353.8L617.0 1353.7L619.0 1353.7L621.0 1353.6L623.0 1353.6L625.0 1353.5L627.0 1353.5L629.0 1353.4L631.0 1353.4L633.0 1353.3L635.0 1353.2L637.0 1353.1L639.0 1353.1L641.0 1353.0L643.0 1352.9L645.0 1352.8L647.0 1352.7L649.0 1352.6L651.0 1352.4L653.0 1352.3L655.0 1352.2L657.0 1352.0L659.0 1351.9L661.0 1351.7L663.0 1351.5L665.0 1351.3L667.0 1351.1L669.0 1350.9L671.0 1350.7L673.0 1350.5L675.0 1350.2L677.0 1350.0L679.0 1349.7L681.0 1349.4L683.0 1349.1L685.0 1348.8L687.0 1348.5L689.0 1348.1L691.0 1347.7L693.0 1347.4L695.0 1346.9L697.0 1346.5L699.0 1346.1L701.0 1345.6L703.0 1345.1L705.0 1344.6L707.0 1344.1L709.0 1343.5L711.0 1342.9L713.0 1342.3L715.0 1341.7L717.0 1341.1L719.0 1340.4L721.0 1339.7L723.0 1338.9L725.0 1338.2L727.0 1337.4L729.0 1336.6L731.0 1335.7L733.0 1334.9L735.0 1334.0L737.0 1333.0L739.0 1332.1L741.0 1331.1L743.0 1330.1L745.0 1329.0L747.0 1327.9L749.0 1326.8L751.0 1325.7L753.0 1324.5L755.0 1323.3L757.0 1322.1L759.0 1320.8L761.0 1319.6L763.0 1318.3L765.0 1316.9L767.0 1315.6L769.0 1314.2L771.0 1312.8L773.0 1311.3L775.0 1309.9L777.0 1308.4L779.0 1306.9L781.0 1305.4L783.0 1303.9L785.0 1302.3L787.0 1300.7L789.0 1299.2L791.0 1297.6L793.0 1296.0L795.0 1294.3L797.0 1292.7L799.0 1291.1L801.0 1289.5L803.0 1287.8L805.0 1286.2L807.0 1284.6L809.0 1283.0L811.0 1281.3L813.0 1279.7L815.0 1278.1L817.0 1276.6L819.0 1275.0L821.0 1273.4L823.0 1271.9L825.0 1270.4L827.0 1268.9L829.0 1267.4L831.0 1266.0L833.0 1264.6L835.0 1263.2L837.0 1261.9L839.0 1260.6L841.0 1259.4L843.0 1258.2L845.0 1257.0L847.0 1255.9L849.0 1254.8L851.0 1253.8L853.0 1252.8L855.0 1251.9L857.0 1251.0L859.0 1250.2L861.0 1249.4L863.0 1248.7L865.0 1248.1L867.0 1247.5L869.0 1247.0L871.0 1246.5L873.0 1246.2L875.0 1245.8L877.0 1245.6L879.0 1245.4L881.0 1245.3L883.0 1245.2L885.0 1245.2L887.0 1245.3L889.0 1245.4L891.0 1245.6L893.0 1245.9L895.0 1246.2L897.0 1246.6L899.0 1247.1L901.0 1247.6L903.0 1248.2L905.0 1248.9L907.0 1249.6L909.0 1250.3L911.0 1251.2L913.0 1252.0L915.0 1253.0L917.0 1254.0L919.0 1255.0L921.0 1256.1L923.0 1257.2L925.0 1258.4L927.0 1259.6L929.0 1260.9L931.0 1262.2L933.0 1263.5L935.0 1264.9L937.0 1266.3L939.0 1267.7L941.0 1269.2L943.0 1270.7L945.0 1272.2L947.0 1273.7L949.0 1275.3L951.0 1276.9L953.0 1278.5L955.0 1280.1L957.0 1281.7L959.0 1283.3L961.0 1284.9L963.0 1286.5L965.0 1288.2L967.0 1289.8L969.0 1291.4L971.0 1293.1L973.0 1294.7L975.0 1296.3L977.0 1297.9L979.0 1299.5L981.0 1301.0L983.0 1302.6L985.0 1304.2L987.0 1305.7L989.0 1307.2L991.0 1308.7L993.0 1310.2L995.0 1311.6L997.0 1313.1L999.0 1314.5L1001.0 1315.8L1003.0 1317.2L1005.0 1318.5L1007.0 1319.8L1009.0 1321.1L1011.0 1322.3L1013.0 1323.6L1015.0 1324.7L1017.0 1325.9L1019.0 1327.0L1021.0 1328.1L1023.0 1329.2L1025.0 1330.3L1027.0 1331.3L1029.0 1332.3L1031.0 1333.2L1033.0 1334.1L1035.0 1335.0L1037.0 1335.9L1039.0 1336.7L1041.0 1337.5L1043.0 1338.3L1045.0 1339.1L1047.0 1339.8L1049.0 1340.5L1051.0 1341.2L1053.0 1341.8L1055.0 1342.5L1057.0 1343.1L1059.0 1343.6L1061.0 1344.2L1063.0 1344.7L1065.0 1345.2L1067.0 1345.7L1069.0 1346.2L1071.0 1346.6L1073.0 1347.0L1075.0 1347.4L1077.0 1347.8L1079.0 1348.2L1081.0 1348.5L1083.0 1348.9L1085.0 1349.2L1087.0 1349.5L1089.0 1349.8L1091.0 1350.0L1093.0 1350.3L1095.0 1350.5L1097.0 1350.8L1099.0 1351.0L1101.0 1351.2L1103.0 1351.4L1105.0 1351.6L1107.0 1351.7L1109.0 1351.9L1111.0 1352.0L1113.0 1352.2L1115.0 1352.3L1117.0 1352.5L1119.0 1352.6L1121.0 1352.7L1123.0 1352.8L1125.0 1352.9L1127.0 1353.0L1129.0 1353.1L1131.0 1353.2L1133.0 1353.2L1135.0 1353.3L1137.0 1353.4L1139.0 1353.4L1141.0 1353.5L1143.0 1353.5L1145.0 1353.6L1147.0 1353.6L1149.0 1353.7L1151.0 1353.7L1153.0 1353.8L1155.0 1353.8L1157.0 1353.8L1159.0 1353.9L1161.0 1353.9L1163.0 1353.9L1165.0 1353.9L1167.0 1354.0L1169.0 1354.0L1171.0 1354.0L1173.0 1354.0L1175.0 1354.0L1177.0 1354.0L1179.0 1354.1L1181.0 1354.1L1183.0 1354.1L1185.0 1354.1L1187.0 1354.1L1189.0 1354.1L1191.0 1354.1L1193.0 1354.1L1195.0 1354.1L1197.0 1354.1L1199.0 1354.1L1201.0 1354.1L1203.0 1354.2L1205.0 1354.2L1207.0 1354.2L1209.0 1354.2L1211.0 1354.2L1213.0 1354.2L1215.0 1354.2L1217.0 1354.2L1219.0 1354.2L1221.0 1354.2L1223.0 1354.2L1225.0 1354.2L1227.0 1354.2L1229.0 1354.2L1231.0 1354.2L1233.0 1354.2L1235.0 1354.2L1237.0 1354.2L1239.0 1354.2L1241.0 1354.2L1243.0 1354.2L1245.0 1354.2L1247.0 1354.2L1249.0 1354.2L1251.0 1354.2L1253.0 1354.2L1255.0 1354.2L1257.0 1354.2L1259.0 1354.2L1261.0 1354.2L1263.0 1354.2L1265.0 1354.2L1267.0 1354.2L1269.0 1354.2L1271.0 1354.2L1273.0 1354.2L1275.0 1354.2L1277.0 1354.2L1279.0 1354.2L1281.0 1354.2L1283.0 1354.2L1285.0 1354.2L1287.0 1354.2L1289.0 1354.2L1291.0 1354.2L1293.0 1354.2L1295.0 1354.2L1297.0 1354.2L1299.0 1354.2L1301.0 1354.2L1303.0 1354.2L1305.0 1354.2L1307.0 1354.2L1309.0 1354.2L1311.0 1354.2L1313.0 1354.2L1315.0 1354.2L1317.0 1354.2L1319.0 1354.2L1321.0 1354.2L1323.0 1354.2L1325.0 1354.2L1327.0 1354.2L1329.0 1354.2L1331.0 1354.2L1333.0 1354.2L1335.0 1354.2L1337.0 1354.2L1339.0 1354.2L1341.0 1354.2L1343.0 1354.2L1345.0 1354.2L1347.0 1354.2L1349.0 1354.2L1351.0 1354.2L1353.0 1354.2L1355.0 1354.2L1357.0 1354.2L1359.0 1354.2L1361.0 1354.2L1363.0 1354.2L1365.0 1354.2L1367.0 1354.2L1369.0 1354.2L1371.0 1354.2L1373.0 1354.2L1375.0 1354.2L1377.0 1354.2L1379.0 1354.2L1381.0 1354.2L1383.0 1354.2L1385.0 1354.2L1387.0 1354.2L1389.0 1354.2L1391.0 1354.2L1393.0 1354.2L1395.0 1354.2L1397.0 1354.2L1399.0 1354.2L1401.0 1354.2L1403.0 1354.2L1405.0 1354.2L1407.0 1354.2L1409.0 1354.2L1411.0 1354.2L1413.0 1354.2L1415.0 1354.2L1417.0 1354.2L1419.0 1354.2L1421.0 1354.2L1423.0 1354.2L1425.0 1354.2L1427.0 1354.2L1429.0 1354.2L1431.0 1354.2L1433.0 1354.2L1435.0 1354.2L1437.0 1354.2L1439.0 1354.2L1441.0 1354.2L1443.0 1354.2L1445.0 1354.2L1447.0 1354.2L1449.0 1354.2L1451.0 1354.2L1453.0 1354.2L1455.0 1354.2L1457.0 1354.2L1459.0 1354.2L1461.0 1354.2L1463.0 1354.2L1465.0 1354.2L1467.0 1354.2L1469.0 1354.2L1471.0 1354.2L1473.0 1354.2L1475.0 1354.2L1477.0 1354.2L1479.0 1354.2L1481.0 1354.2L1483.0 1354.2L1485.0 1354.2L1487.0 1354.2L1489.0 1354.2L1491.0 1354.2L1493.0 1354.2L1495.0 1354.2L1497.0 1354.2L1499.0 1354.2L1501.0 1354.2L1503.0 1354.2L1505.0 1354.2L1507.0 1354.2L1509.0 1354.2L1511.0 1354.2L1513.0 1354.2L1515.0 1354.2L1517.0 1354.2L1519.0 1354.2L1521.0 1354.2L1523.0 1354.2L1525.0 1354.2L1527.0 1354.2L1529.0 1354.2L1531.0 1354.2L1533.0 1354.2L1535.0 1354.2L1537.0 1354.2L1539.0 1354.2L1541.0 1354.2L1543.0 1354.2L1545.0 1354.2L1547.0 1354.2L1549.0 1354.2L1551.0 1354.2L1553.0 1354.2L1555.0 1354.2L1557.0 1354.2L1559.0 1354.2L1561.0 1354.2L1563.0 1354.2L1565.0 1354.2L1567.0 1354.2L1569.0 1354.2L1571.0 1354.2L1573.0 1354.2L1575.0 1354.2L1577.0 1354.2L1579.0 1354.2L1581.0 1354.2L1583.0 1354.2L1585.0 1354.2L1587.0 1354.2L1589.0 1354.2L1591.0 1354.2L1593.0 1354.2L1595.0 1354.2L1597.0 1354.2L1599.0 1354.2L1601.0 1354.2L1603.0 1354.2L1605.0 1354.2L1607.0 1354.2L1609.0 1354.2L1611.0 1354.2L1613.0 1354.2L1615.0 1354.2L1617.0 1354.2L1619.0 1354.2L1621.0 1354.2L1623.0 1354.2L1625.0 1354.2L1627.0 1354.2L1629.0 1354.2L1631.0 1354.2L1633.0 1354.2L1635.0 1354.2L1637.0 1354.2L1639.0 1354.2L1641.0 1354.2L1643.0 1354.2L1645.0 1354.2L1647.0 1354.2L1649.0 1354.2L1651.0 1354.2L1653.0 1354.2L1655.0 1354.2L1657.0 1354.2L1659.0 1354.2L1661.0 1354.2L1663.0 1354.2L1665.0 1354.2L1667.0 1354.2L1669.0 1354.2L1671.0 1354.2L1673.0 1354.2L1675.0 1354.2L1677.0 1354.2L1679.0 1354.2L1681.0 1354.2L1683.0 1354.2L1685.0 1354.2L1687.0 1354.2L1689.0 1354.2L1691.0 1354.2L1693.0 1354.2L1695.0 1354.2L1697.0 1354.2L1699.0 1354.2L1701.0 1354.2L1703.0 1354.2L1705.0 1354.2L1707.0 1354.2L1709.0 1354.2L1711.0 1354.2L1713.0 1354.2L1715.0 1354.2L1717.0 1354.2L1719.0 1354.2L1721.0 1354.2L1723.0 1354.2L1725.0 1354.2L1727.0 1354.2L1729.0 1354.2L1731.0 1354.2L1733.0 1354.2L1735.0 1354.2L1737.0 1354.2L1739.0 1354.2L1741.0 1354.2L1743.0 1354.2L1745.0 1354.2L1747.0 1354.2L1749.0 1354.2L1751.0 1354.2L1753.0 1354.2L1755.0 1354.2L1757.0 1354.2L1759.0 1354.2L1761.0 1354.2L1763.0 1354.2L1765.0 1354.2L1767.0 1354.2L1769.0 1354.2L1771.0 1354.2L1773.0 1354.2L1775.0 1354.2L1777.0 1354.2L1779.0 1354.2L1781.0 1354.2L1783.0 1354.2L1785.0 1354.2L1787.0 1354.2L1789.0 1354.2L1791.0 1354.2L1793.0 1354.2L1795.0 1354.2L1797.0 1354.2L1799.0 1354.2L1801.0 1354.2L1803.0 1354.2L1805.0 1354.2L1807.0 1354.2L1809.0 1354.2L1811.0 1354.2L1813.0 1354.2L1815.0 1354.2L1817.0 1354.2L1819.0 1354.2L1821.0 1354.2L1823.0 1354.2L1825.0 1354.2L1827.0 1354.2L1829.0 1354.2L1831.0 1354.2L1833.0 1354.2L1835.0 1354.2L1837.0 1354.2L1839.0 1354.2L1841.0 1354.2L1843.0 1354.2L1845.0 1354.2L1847.0 1354.2L1849.0 1354.2L1851.0 1354.2L1853.0 1354.2L1855.0 1354.2L1857.0 1354.2L1859.0 1354.2L1861.0 1354.2L1863.0 1354.2L1865.0 1354.2L1867.0 1354.2L1869.0 1354.2L1871.0 1354.2L1873.0 1354.2L1875.0 1354.2L1877.0 1354.2L1879.0 1354.2L1881.0 1354.2L1883.0 1354.2L1885.0 1354.2L1887.0 1354.2L1889.0 1354.2L1891.0 1354.2L1893.0 1354.2L1895.0 1354.2L1897.0 1354.2L1899.0 1354.2L1901.0 1354.2L1903.0 1354.2L1905.0 1354.2L1907.0 1354.2L1909.0 1354.2L1911.0 1354.2L1913.0 1354.2L1915.0 1354.2L1917.0 1354.2L1919.0 1354.2L1921.0 1354.2L1923.0 1354.2L1925.0 1354.2L1927.0 1354.2L1929.0 1354.2L1931.0 1354.2L1933.0 1354.2L1935.0 1354.2L1937.0 1354.2L1939.0 1354.2L1941.0 1354.2L1943.0 1354.2L1945.0 1354.2L1947.0 1354.2L1949.0 1354.2L1951.0 1354.2L1953.0 1354.2L1955.0 1354.2L1957.0 1354.2L1959.0 1354.2L1961.0 1354.2L1963.0 1354.2" fill="none" stroke="#FF8811" stroke-width="11.4" stroke-linecap="round" stroke-linejoin="round" stroke-dasharray="43.6 56.8" stroke-dashoffset="5.40"/>
<path d="M295.0 1354.2L297.0 1354.2L299.0 1354.2L301.0 1354.2L303.0 1354.2L305.0 1354.2L307.0 1354.2L309.0 1354.2L311.0 1354.2L313.0 1354.2L315.0 1354.2L317.0 1354.2L319.0 1354.2L321.0 1354.2L323.0 1354.2L325.0 1354.2L327.0 1354.2L329.0 1354.2L331.0 1354.2L333.0 1354.2L335.0 1354.2L337.0 1354.2L339.0 1354.2L341.0 1354.2L343.0 1354.2L345.0 1354.2L347.0 1354.2L349.0 1354.2L351.0 1354.2L353.0 1354.2L355.0 1354.2L357.0 1354.2L359.0 1354.2L361.0 1354.2L363.0 1354.2L365.0 1354.2L367.0 1354.2L369.0 1354.2L371.0 1354.2L373.0 1354.2L375.0 1354.2L377.0 1354.2L379.0 1354.2L381.0 1354.2L383.0 1354.2L385.0 1354.2L387.0 1354.2L389.0 1354.2L391.0 1354.2L393.0 1354.2L395.0 1354.2L397.0 1354.2L399.0 1354.2L401.0 1354.2L403.0 1354.2L405.0 1354.2L407.0 1354.2L409.0 1354.2L411.0 1354.2L413.0 1354.2L415.0 1354.2L417.0 1354.2L419.0 1354.2L421.0 1354.2L423.0 1354.2L425.0 1354.2L427.0 1354.2L429.0 1354.2L431.0 1354.2L433.0 1354.2L435.0 1354.2L437.0 1354.2L439.0 1354.2L441.0 1354.2L443.0 1354.2L445.0 1354.2L447.0 1354.2L449.0 1354.2L451.0 1354.2L453.0 1354.2L455.0 1354.2L457.0 1354.2L459.0 1354.2L461.0 1354.2L463.0 1354.2L465.0 1354.2L467.0 1354.2L469.0 1354.2L471.0 1354.2L473.0 1354.2L475.0 1354.2L477.0 1354.2L479.0 1354.2L481.0 1354.2L483.0 1354.2L485.0 1354.2L487.0 1354.2L489.0 1354.2L491.0 1354.2L493.0 1354.2L495.0 1354.2L497.0 1354.2L499.0 1354.2L501.0 1354.2L503.0 1354.2L505.0 1354.2L507.0 1354.2L509.0 1354.2L511.0 1354.2L513.0 1354.2L515.0 1354.2L517.0 1354.2L519.0 1354.2L521.0 1354.2L523.0 1354.2L525.0 1354.2L527.0 1354.2L529.0 1354.2L531.0 1354.2L533.0 1354.2L535.0 1354.2L537.0 1354.2L539.0 1354.2L541.0 1354.2L543.0 1354.2L545.0 1354.2L547.0 1354.2L549.0 1354.2L551.0 1354.2L553.0 1354.2L555.0 1354.2L557.0 1354.2L559.0 1354.2L561.0 1354.2L563.0 1354.2L565.0 1354.2L567.0 1354.2L569.0 1354.2L571.0 1354.2L573.0 1354.2L575.0 1354.2L577.0 1354.2L579.0 1354.2L581.0 1354.2L583.0 1354.2L585.0 1354.2L587.0 1354.2L589.0 1354.2L591.0 1354.2L593.0 1354.2L595.0 1354.2L597.0 1354.2L599.0 1354.2L601.0 1354.2L603.0 1354.2L605.0 1354.2L607.0 1354.2L609.0 1354.2L611.0 1354.2L613.0 1354.2L615.0 1354.2L617.0 1354.2L619.0 1354.2L621.0 1354.2L623.0 1354.2L625.0 1354.2L627.0 1354.2L629.0 1354.2L631.0 1354.2L633.0 1354.2L635.0 1354.2L637.0 1354.2L639.0 1354.2L641.0 1354.2L643.0 1354.2L645.0 1354.2L647.0 1354.2L649.0 1354.2L651.0 1354.1L653.0 1354.1L655.0 1354.1L657.0 1354.1L659.0 1354.1L661.0 1354.1L663.0 1354.1L665.0 1354.1L667.0 1354.1L669.0 1354.1L671.0 1354.1L673.0 1354.1L675.0 1354.1L677.0 1354.1L679.0 1354.1L681.0 1354.0L683.0 1354.0L685.0 1354.0L687.0 1354.0L689.0 1354.0L691.0 1354.0L693.0 1354.0L695.0 1353.9L697.0 1353.9L699.0 1353.9L701.0 1353.9L703.0 1353.9L705.0 1353.8L707.0 1353.8L709.0 1353.8L711.0 1353.8L713.0 1353.7L715.0 1353.7L717.0 1353.7L719.0 1353.6L721.0 1353.6L723.0 1353.5L725.0 1353.5L727.0 1353.5L729.0 1353.4L731.0 1353.4L733.0 1353.3L735.0 1353.3L737.0 1353.2L739.0 1353.1L741.0 1353.1L743.0 1353.0L745.0 1352.9L747.0 1352.9L749.0 1352.8L751.0 1352.7L753.0 1352.6L755.0 1352.5L757.0 1352.4L759.0 1352.3L761.0 1352.2L763.0 1352.1L765.0 1352.0L767.0 1351.9L769.0 1351.8L771.0 1351.6L773.0 1351.5L775.0 1351.4L777.0 1351.2L779.0 1351.1L781.0 1350.9L783.0 1350.8L785.0 1350.6L787.0 1350.4L789.0 1350.2L791.0 1350.1L793.0 1349.9L795.0 1349.7L797.0 1349.5L799.0 1349.2L801.0 1349.0L803.0 1348.8L805.0 1348.6L807.0 1348.3L809.0 1348.1L811.0 1347.8L813.0 1347.5L815.0 1347.3L817.0 1347.0L819.0 1346.7L821.0 1346.4L823.0 1346.1L825.0 1345.8L827.0 1345.5L829.0 1345.1L831.0 1344.8L833.0 1344.5L835.0 1344.1L837.0 1343.7L839.0 1343.4L841.0 1343.0L843.0 1342.6L845.0 1342.2L847.0 1341.8L849.0 1341.4L851.0 1341.0L853.0 1340.6L855.0 1340.2L857.0 1339.8L859.0 1339.3L861.0 1338.9L863.0 1338.4L865.0 1338.0L867.0 1337.5L869.0 1337.1L871.0 1336.6L873.0 1336.1L875.0 1335.7L877.0 1335.2L879.0 1334.7L881.0 1334.2L883.0 1333.8L885.0 1333.3L887.0 1332.8L889.0 1332.3L891.0 1331.8L893.0 1331.3L895.0 1330.9L897.0 1330.4L899.0 1329.9L901.0 1329.4L903.0 1329.0L905.0 1328.5L907.0 1328.0L909.0 1327.6L911.0 1327.1L913.0 1326.6L915.0 1326.2L917.0 1325.8L919.0 1325.3L921.0 1324.9L923.0 1324.5L925.0 1324.1L927.0 1323.7L929.0 1323.3L931.0 1322.9L933.0 1322.6L935.0 1322.2L937.0 1321.9L939.0 1321.5L941.0 1321.2L943.0 1320.9L945.0 1320.6L947.0 1320.3L949.0 1320.1L951.0 1319.8L953.0 1319.6L955.0 1319.4L957.0 1319.2L959.0 1319.0L961.0 1318.8L963.0 1318.6L965.0 1318.5L967.0 1318.4L969.0 1318.3L971.0 1318.2L973.0 1318.1L975.0 1318.1L977.0 1318.0L979.0 1318.0L981.0 1318.0L983.0 1318.0L985.0 1318.1L987.0 1318.1L989.0 1318.2L991.0 1318.3L993.0 1318.4L995.0 1318.5L997.0 1318.6L999.0 1318.8L1001.0 1318.9L1003.0 1319.1L1005.0 1319.3L1007.0 1319.6L1009.0 1319.8L1011.0 1320.0L1013.0 1320.3L1015.0 1320.6L1017.0 1320.9L1019.0 1321.2L1021.0 1321.5L1023.0 1321.8L1025.0 1322.2L1027.0 1322.5L1029.0 1322.9L1031.0 1323.3L1033.0 1323.7L1035.0 1324.0L1037.0 1324.5L1039.0 1324.9L1041.0 1325.3L1043.0 1325.7L1045.0 1326.2L1047.0 1326.6L1049.0 1327.1L1051.0 1327.5L1053.0 1328.0L1055.0 1328.4L1057.0 1328.9L1059.0 1329.4L1061.0 1329.9L1063.0 1330.3L1065.0 1330.8L1067.0 1331.3L1069.0 1331.8L1071.0 1332.3L1073.0 1332.8L1075.0 1333.2L1077.0 1333.7L1079.0 1334.2L1081.0 1334.7L1083.0 1335.2L1085.0 1335.6L1087.0 1336.1L1089.0 1336.6L1091.0 1337.0L1093.0 1337.5L1095.0 1337.9L1097.0 1338.4L1099.0 1338.8L1101.0 1339.3L1103.0 1339.7L1105.0 1340.1L1107.0 1340.6L1109.0 1341.0L1111.0 1341.4L1113.0 1341.8L1115.0 1342.2L1117.0 1342.6L1119.0 1343.0L1121.0 1343.3L1123.0 1343.7L1125.0 1344.1L1127.0 1344.4L1129.0 1344.8L1131.0 1345.1L1133.0 1345.4L1135.0 1345.8L1137.0 1346.1L1139.0 1346.4L1141.0 1346.7L1143.0 1347.0L1145.0 1347.2L1147.0 1347.5L1149.0 1347.8L1151.0 1348.0L1153.0 1348.3L1155.0 1348.5L1157.0 1348.8L1159.0 1349.0L1161.0 1349.2L1163.0 1349.4L1165.0 1349.6L1167.0 1349.8L1169.0 1350.0L1171.0 1350.2L1173.0 1350.4L1175.0 1350.6L1177.0 1350.8L1179.0 1350.9L1181.0 1351.1L1183.0 1351.2L1185.0 1351.4L1187.0 1351.5L1189.0 1351.6L1191.0 1351.8L1193.0 1351.9L1195.0 1352.0L1197.0 1352.1L1199.0 1352.2L1201.0 1352.3L1203.0 1352.4L1205.0 1352.5L1207.0 1352.6L1209.0 1352.7L1211.0 1352.8L1213.0 1352.9L1215.0 1352.9L1217.0 1353.0L1219.0 1353.1L1221.0 1353.1L1223.0 1353.2L1225.0 1353.2L1227.0 1353.3L1229.0 1353.4L1231.0 1353.4L1233.0 1353.5L1235.0 1353.5L1237.0 1353.5L1239.0 1353.6L1241.0 1353.6L1243.0 1353.7L1245.0 1353.7L1247.0 1353.7L1249.0 1353.7L1251.0 1353.8L1253.0 1353.8L1255.0 1353.8L1257.0 1353.9L1259.0 1353.9L1261.0 1353.9L1263.0 1353.9L1265.0 1353.9L1267.0 1354.0L1269.0 1354.0L1271.0 1354.0L1273.0 1354.0L1275.0 1354.0L1277.0 1354.0L1279.0 1354.0L1281.0 1354.1L1283.0 1354.1L1285.0 1354.1L1287.0 1354.1L1289.0 1354.1L1291.0 1354.1L1293.0 1354.1L1295.0 1354.1L1297.0 1354.1L1299.0 1354.1L1301.0 1354.1L1303.0 1354.1L1305.0 1354.1L1307.0 1354.1L1309.0 1354.1L1311.0 1354.2L1313.0 1354.2L1315.0 1354.2L1317.0 1354.2L1319.0 1354.2L1321.0 1354.2L1323.0 1354.2L1325.0 1354.2L1327.0 1354.2L1329.0 1354.2L1331.0 1354.2L1333.0 1354.2L1335.0 1354.2L1337.0 1354.2L1339.0 1354.2L1341.0 1354.2L1343.0 1354.2L1345.0 1354.2L1347.0 1354.2L1349.0 1354.2L1351.0 1354.2L1353.0 1354.2L1355.0 1354.2L1357.0 1354.2L1359.0 1354.2L1361.0 1354.2L1363.0 1354.2L1365.0 1354.2L1367.0 1354.2L1369.0 1354.2L1371.0 1354.2L1373.0 1354.2L1375.0 1354.2L1377.0 1354.2L1379.0 1354.2L1381.0 1354.2L1383.0 1354.2L1385.0 1354.2L1387.0 1354.2L1389.0 1354.2L1391.0 1354.2L1393.0 1354.2L1395.0 1354.2L1397.0 1354.2L1399.0 1354.2L1401.0 1354.2L1403.0 1354.2L1405.0 1354.2L1407.0 1354.2L1409.0 1354.2L1411.0 1354.2L1413.0 1354.2L1415.0 1354.2L1417.0 1354.2L1419.0 1354.2L1421.0 1354.2L1423.0 1354.2L1425.0 1354.2L1427.0 1354.2L1429.0 1354.2L1431.0 1354.2L1433.0 1354.2L1435.0 1354.2L1437.0 1354.2L1439.0 1354.2L1441.0 1354.2L1443.0 1354.2L1445.0 1354.2L1447.0 1354.2L1449.0 1354.2L1451.0 1354.2L1453.0 1354.2L1455.0 1354.2L1457.0 1354.2L1459.0 1354.2L1461.0 1354.2L1463.0 1354.2L1465.0 1354.2L1467.0 1354.2L1469.0 1354.2L1471.0 1354.2L1473.0 1354.2L1475.0 1354.2L1477.0 1354.2L1479.0 1354.2L1481.0 1354.2L1483.0 1354.2L1485.0 1354.2L1487.0 1354.2L1489.0 1354.2L1491.0 1354.2L1493.0 1354.2L1495.0 1354.2L1497.0 1354.2L1499.0 1354.2L1501.0 1354.2L1503.0 1354.2L1505.0 1354.2L1507.0 1354.2L1509.0 1354.2L1511.0 1354.2L1513.0 1354.2L1515.0 1354.2L1517.0 1354.2L1519.0 1354.2L1521.0 1354.2L1523.0 1354.2L1525.0 1354.2L1527.0 1354.2L1529.0 1354.2L1531.0 1354.2L1533.0 1354.2L1535.0 1354.2L1537.0 1354.2L1539.0 1354.2L1541.0 1354.2L1543.0 1354.2L1545.0 1354.2L1547.0 1354.2L1549.0 1354.2L1551.0 1354.2L1553.0 1354.2L1555.0 1354.2L1557.0 1354.2L1559.0 1354.2L1561.0 1354.2L1563.0 1354.2L1565.0 1354.2L1567.0 1354.2L1569.0 1354.2L1571.0 1354.2L1573.0 1354.2L1575.0 1354.2L1577.0 1354.2L1579.0 1354.2L1581.0 1354.2L1583.0 1354.2L1585.0 1354.2L1587.0 1354.2L1589.0 1354.2L1591.0 1354.2L1593.0 1354.2L1595.0 1354.2L1597.0 1354.2L1599.0 1354.2L1601.0 1354.2L1603.0 1354.2L1605.0 1354.2L1607.0 1354.2L1609.0 1354.2L1611.0 1354.2L1613.0 1354.2L1615.0 1354.2L1617.0 1354.2L1619.0 1354.2L1621.0 1354.2L1623.0 1354.2L1625.0 1354.2L1627.0 1354.2L1629.0 1354.2L1631.0 1354.2L1633.0 1354.2L1635.0 1354.2L1637.0 1354.2L1639.0 1354.2L1641.0 1354.2L1643.0 1354.2L1645.0 1354.2L1647.0 1354.2L1649.0 1354.2L1651.0 1354.2L1653.0 1354.2L1655.0 1354.2L1657.0 1354.2L1659.0 1354.2L1661.0 1354.2L1663.0 1354.2L1665.0 1354.2L1667.0 1354.2L1669.0 1354.2L1671.0 1354.2L1673.0 1354.2L1675.0 1354.2L1677.0 1354.2L1679.0 1354.2L1681.0 1354.2L1683.0 1354.2L1685.0 1354.2L1687.0 1354.2L1689.0 1354.2L1691.0 1354.2L1693.0 1354.2L1695.0 1354.2L1697.0 1354.2L1699.0 1354.2L1701.0 1354.2L1703.0 1354.2L1705.0 1354.2L1707.0 1354.2L1709.0 1354.2L1711.0 1354.2L1713.0 1354.2L1715.0 1354.2L1717.0 1354.2L1719.0 1354.2L1721.0 1354.2L1723.0 1354.2L1725.0 1354.2L1727.0 1354.2L1729.0 1354.2L1731.0 1354.2L1733.0 1354.2L1735.0 1354.2L1737.0 1354.2L1739.0 1354.2L1741.0 1354.2L1743.0 1354.2L1745.0 1354.2L1747.0 1354.2L1749.0 1354.2L1751.0 1354.2L1753.0 1354.2L1755.0 1354.2L1757.0 1354.2L1759.0 1354.2L1761.0 1354.2L1763.0 1354.2L1765.0 1354.2L1767.0 1354.2L1769.0 1354.2L1771.0 1354.2L1773.0 1354.2L1775.0 1354.2L1777.0 1354.2L1779.0 1354.2L1781.0 1354.2L1783.0 1354.2L1785.0 1354.2L1787.0 1354.2L1789.0 1354.2L1791.0 1354.2L1793.0 1354.2L1795.0 1354.2L1797.0 1354.2L1799.0 1354.2L1801.0 1354.2L1803.0 1354.2L1805.0 1354.2L1807.0 1354.2L1809.0 1354.2L1811.0 1354.2L1813.0 1354.2L1815.0 1354.2L1817.0 1354.2L1819.0 1354.2L1821.0 1354.2L1823.0 1354.2L1825.0 1354.2L1827.0 1354.2L1829.0 1354.2L1831.0 1354.2L1833.0 1354.2L1835.0 1354.2L1837.0 1354.2L1839.0 1354.2L1841.0 1354.2L1843.0 1354.2L1845.0 1354.2L1847.0 1354.2L1849.0 1354.2L1851.0 1354.2L1853.0 1354.2L1855.0 1354.2L1857.0 1354.2L1859.0 1354.2L1861.0 1354.2L1863.0 1354.2L1865.0 1354.2L1867.0 1354.2L1869.0 1354.2L1871.0 1354.2L1873.0 1354.2L1875.0 1354.2L1877.0 1354.2L1879.0 1354.2L1881.0 1354.2L1883.0 1354.2L1885.0 1354.2L1887.0 1354.2L1889.0 1354.2L1891.0 1354.2L1893.0 1354.2L1895.0 1354.2L1897.0 1354.2L1899.0 1354.2L1901.0 1354.2L1903.0 1354.2L1905.0 1354.2L1907.0 1354.2L1909.0 1354.2L1911.0 1354.2L1913.0 1354.2L1915.0 1354.2L1917.0 1354.2L1919.0 1354.2L1921.0 1354.2L1923.0 1354.2L1925.0 1354.2L1927.0 1354.2L1929.0 1354.2L1931.0 1354.2L1933.0 1354.2L1935.0 1354.2L1937.0 1354.2L1939.0 1354.2L1941.0 1354.2L1943.0 1354.2L1945.0 1354.2L1947.0 1354.2L1949.0 1354.2L1951.0 1354.2L1953.0 1354.2L1955.0 1354.2L1957.0 1354.2L1959.0 1354.2L1961.0 1354.2L1963.0 1354.2" fill="none" stroke="#FF8811" stroke-width="11.4" stroke-linecap="round" stroke-linejoin="round" stroke-dasharray="43.6 56.8" stroke-dashoffset="51.20"/>
<path d="M295.0 1354.2L297.0 1354.2L299.0 1354.2L301.0 1354.2L303.0 1354.2L305.0 1354.2L307.0 1354.2L309.0 1354.2L311.0 1354.2L313.0 1354.2L315.0 1354.2L317.0 1354.2L319.0 1354.2L321.0 1354.2L323.0 1354.2L325.0 1354.2L327.0 1354.2L329.0 1354.2L331.0 1354.2L333.0 1354.2L335.0 1354.2L337.0 1354.2L339.0 1354.2L341.0 1354.2L343.0 1354.2L345.0 1354.2L347.0 1354.2L349.0 1354.2L351.0 1354.2L353.0 1354.2L355.0 1354.2L357.0 1354.2L359.0 1354.2L361.0 1354.2L363.0 1354.2L365.0 1354.2L367.0 1354.2L369.0 1354.2L371.0 1354.2L373.0 1354.2L375.0 1354.2L377.0 1354.2L379.0 1354.2L381.0 1354.2L383.0 1354.2L385.0 1354.2L387.0 1354.2L389.0 1354.2L391.0 1354.2L393.0 1354.2L395.0 1354.2L397.0 1354.2L399.0 1354.2L401.0 1354.2L403.0 1354.2L405.0 1354.2L407.0 1354.2L409.0 1354.2L411.0 1354.2L413.0 1354.2L415.0 1354.2L417.0 1354.2L419.0 1354.2L421.0 1354.2L423.0 1354.2L425.0 1354.2L427.0 1354.2L429.0 1354.2L431.0 1354.2L433.0 1354.2L435.0 1354.2L437.0 1354.2L439.0 1354.2L441.0 1354.2L443.0 1354.2L445.0 1354.2L447.0 1354.2L449.0 1354.2L451.0 1354.2L453.0 1354.2L455.0 1354.2L457.0 1354.2L459.0 1354.2L461.0 1354.2L463.0 1354.2L465.0 1354.2L467.0 1354.2L469.0 1354.2L471.0 1354.2L473.0 1354.2L475.0 1354.2L477.0 1354.2L479.0 1354.2L481.0 1354.2L483.0 1354.2L485.0 1354.2L487.0 1354.2L489.0 1354.2L491.0 1354.2L493.0 1354.2L495.0 1354.2L497.0 1354.2L499.0 1354.2L501.0 1354.2L503.0 1354.2L505.0 1354.2L507.0 1354.2L509.0 1354.2L511.0 1354.2L513.0 1354.2L515.0 1354.2L517.0 1354.2L519.0 1354.2L521.0 1354.2L523.0 1354.2L525.0 1354.2L527.0 1354.2L529.0 1354.2L531.0 1354.2L533.0 1354.2L535.0 1354.2L537.0 1354.2L539.0 1354.2L541.0 1354.2L543.0 1354.2L545.0 1354.2L547.0 1354.2L549.0 1354.2L551.0 1354.2L553.0 1354.2L555.0 1354.2L557.0 1354.2L559.0 1354.2L561.0 1354.2L563.0 1354.2L565.0 1354.2L567.0 1354.2L569.0 1354.2L571.0 1354.2L573.0 1354.2L575.0 1354.2L577.0 1354.2L579.0 1354.2L581.0 1354.2L583.0 1354.2L585.0 1354.2L587.0 1354.2L589.0 1354.2L591.0 1354.2L593.0 1354.2L595.0 1354.2L597.0 1354.2L599.0 1354.2L601.0 1354.2L603.0 1354.2L605.0 1354.2L607.0 1354.2L609.0 1354.2L611.0 1354.2L613.0 1354.2L615.0 1354.2L617.0 1354.2L619.0 1354.2L621.0 1354.2L623.0 1354.2L625.0 1354.2L627.0 1354.2L629.0 1354.2L631.0 1354.2L633.0 1354.2L635.0 1354.2L637.0 1354.2L639.0 1354.2L641.0 1354.2L643.0 1354.2L645.0 1354.2L647.0 1354.2L649.0 1354.2L651.0 1354.2L653.0 1354.2L655.0 1354.2L657.0 1354.2L659.0 1354.2L661.0 1354.2L663.0 1354.2L665.0 1354.2L667.0 1354.2L669.0 1354.2L671.0 1354.2L673.0 1354.2L675.0 1354.2L677.0 1354.2L679.0 1354.2L681.0 1354.2L683.0 1354.2L685.0 1354.2L687.0 1354.2L689.0 1354.2L691.0 1354.2L693.0 1354.2L695.0 1354.2L697.0 1354.2L699.0 1354.2L701.0 1354.2L703.0 1354.2L705.0 1354.2L707.0 1354.2L709.0 1354.2L711.0 1354.1L713.0 1354.1L715.0 1354.1L717.0 1354.1L719.0 1354.1L721.0 1354.1L723.0 1354.1L725.0 1354.1L727.0 1354.1L729.0 1354.1L731.0 1354.1L733.0 1354.1L735.0 1354.1L737.0 1354.1L739.0 1354.1L741.0 1354.1L743.0 1354.1L745.0 1354.1L747.0 1354.0L749.0 1354.0L751.0 1354.0L753.0 1354.0L755.0 1354.0L757.0 1354.0L759.0 1354.0L761.0 1354.0L763.0 1354.0L765.0 1353.9L767.0 1353.9L769.0 1353.9L771.0 1353.9L773.0 1353.9L775.0 1353.9L777.0 1353.8L779.0 1353.8L781.0 1353.8L783.0 1353.8L785.0 1353.8L787.0 1353.7L789.0 1353.7L791.0 1353.7L793.0 1353.7L795.0 1353.6L797.0 1353.6L799.0 1353.6L801.0 1353.5L803.0 1353.5L805.0 1353.5L807.0 1353.4L809.0 1353.4L811.0 1353.4L813.0 1353.3L815.0 1353.3L817.0 1353.2L819.0 1353.2L821.0 1353.1L823.0 1353.1L825.0 1353.0L827.0 1353.0L829.0 1352.9L831.0 1352.8L833.0 1352.8L835.0 1352.7L837.0 1352.6L839.0 1352.6L841.0 1352.5L843.0 1352.4L845.0 1352.3L847.0 1352.2L849.0 1352.1L851.0 1352.0L853.0 1351.9L855.0 1351.8L857.0 1351.7L859.0 1351.6L861.0 1351.5L863.0 1351.4L865.0 1351.3L867.0 1351.1L869.0 1351.0L871.0 1350.9L873.0 1350.7L875.0 1350.6L877.0 1350.4L879.0 1350.3L881.0 1350.1L883.0 1349.9L885.0 1349.8L887.0 1349.6L889.0 1349.4L891.0 1349.2L893.0 1349.0L895.0 1348.8L897.0 1348.6L899.0 1348.4L901.0 1348.1L903.0 1347.9L905.0 1347.7L907.0 1347.4L909.0 1347.1L911.0 1346.9L913.0 1346.6L915.0 1346.3L917.0 1346.0L919.0 1345.7L921.0 1345.4L923.0 1345.1L925.0 1344.8L927.0 1344.4L929.0 1344.1L931.0 1343.7L933.0 1343.4L935.0 1343.0L937.0 1342.6L939.0 1342.2L941.0 1341.8L943.0 1341.4L945.0 1340.9L947.0 1340.5L949.0 1340.0L951.0 1339.6L953.0 1339.1L955.0 1338.6L957.0 1338.1L959.0 1337.6L961.0 1337.1L963.0 1336.5L965.0 1336.0L967.0 1335.4L969.0 1334.9L971.0 1334.3L973.0 1333.7L975.0 1333.1L977.0 1332.4L979.0 1331.8L981.0 1331.2L983.0 1330.5L985.0 1329.8L987.0 1329.1L989.0 1328.4L991.0 1327.7L993.0 1327.0L995.0 1326.3L997.0 1325.5L999.0 1324.7L1001.0 1324.0L1003.0 1323.2L1005.0 1322.4L1007.0 1321.6L1009.0 1320.7L1011.0 1319.9L1013.0 1319.0L1015.0 1318.2L1017.0 1317.3L1019.0 1316.4L1021.0 1315.5L1023.0 1314.6L1025.0 1313.6L1027.0 1312.7L1029.0 1311.8L1031.0 1310.8L1033.0 1309.8L1035.0 1308.8L1037.0 1307.8L1039.0 1306.8L1041.0 1305.8L1043.0 1304.8L1045.0 1303.8L1047.0 1302.7L1049.0 1301.7L1051.0 1300.6L1053.0 1299.6L1055.0 1298.5L1057.0 1297.4L1059.0 1296.3L1061.0 1295.2L1063.0 1294.1L1065.0 1293.0L1067.0 1291.9L1069.0 1290.8L1071.0 1289.7L1073.0 1288.6L1075.0 1287.4L1077.0 1286.3L1079.0 1285.2L1081.0 1284.1L1083.0 1282.9L1085.0 1281.8L1087.0 1280.7L1089.0 1279.5L1091.0 1278.4L1093.0 1277.3L1095.0 1276.2L1097.0 1275.0L1099.0 1273.9L1101.0 1272.8L1103.0 1271.7L1105.0 1270.6L1107.0 1269.5L1109.0 1268.4L1111.0 1267.3L1113.0 1266.2L1115.0 1265.2L1117.0 1264.1L1119.0 1263.1L1121.0 1262.0L1123.0 1261.0L1125.0 1260.0L1127.0 1259.0L1129.0 1258.0L1131.0 1257.0L1133.0 1256.1L1135.0 1255.1L1137.0 1254.2L1139.0 1253.3L1141.0 1252.4L1143.0 1251.5L1145.0 1250.6L1147.0 1249.8L1149.0 1249.0L1151.0 1248.2L1153.0 1247.4L1155.0 1246.6L1157.0 1245.9L1159.0 1245.1L1161.0 1244.4L1163.0 1243.8L1165.0 1243.1L1167.0 1242.5L1169.0 1241.9L1171.0 1241.3L1173.0 1240.7L1175.0 1240.2L1177.0 1239.7L1179.0 1239.2L1181.0 1238.8L1183.0 1238.3L1185.0 1237.9L1187.0 1237.6L1189.0 1237.2L1191.0 1236.9L1193.0 1236.6L1195.0 1236.4L1197.0 1236.1L1199.0 1235.9L1201.0 1235.7L1203.0 1235.6L1205.0 1235.5L1207.0 1235.4L1209.0 1235.3L1211.0 1235.3L1213.0 1235.3L1215.0 1235.3L1217.0 1235.4L1219.0 1235.5L1221.0 1235.6L1223.0 1235.7L1225.0 1235.9L1227.0 1236.1L1229.0 1236.4L1231.0 1236.6L1233.0 1236.9L1235.0 1237.2L1237.0 1237.6L1239.0 1237.9L1241.0 1238.3L1243.0 1238.8L1245.0 1239.2L1247.0 1239.7L1249.0 1240.2L1251.0 1240.7L1253.0 1241.3L1255.0 1241.9L1257.0 1242.5L1259.0 1243.1L1261.0 1243.8L1263.0 1244.4L1265.0 1245.1L1267.0 1245.9L1269.0 1246.6L1271.0 1247.4L1273.0 1248.2L1275.0 1249.0L1277.0 1249.8L1279.0 1250.6L1281.0 1251.5L1283.0 1252.4L1285.0 1253.3L1287.0 1254.2L1289.0 1255.1L1291.0 1256.1L1293.0 1257.0L1295.0 1258.0L1297.0 1259.0L1299.0 1260.0L1301.0 1261.0L1303.0 1262.0L1305.0 1263.1L1307.0 1264.1L1309.0 1265.2L1311.0 1266.2L1313.0 1267.3L1315.0 1268.4L1317.0 1269.5L1319.0 1270.6L1321.0 1271.7L1323.0 1272.8L1325.0 1273.9L1327.0 1275.0L1329.0 1276.2L1331.0 1277.3L1333.0 1278.4L1335.0 1279.5L1337.0 1280.7L1339.0 1281.8L1341.0 1282.9L1343.0 1284.1L1345.0 1285.2L1347.0 1286.3L1349.0 1287.4L1351.0 1288.6L1353.0 1289.7L1355.0 1290.8L1357.0 1291.9L1359.0 1293.0L1361.0 1294.1L1363.0 1295.2L1365.0 1296.3L1367.0 1297.4L1369.0 1298.5L1371.0 1299.6L1373.0 1300.6L1375.0 1301.7L1377.0 1302.7L1379.0 1303.8L1381.0 1304.8L1383.0 1305.8L1385.0 1306.8L1387.0 1307.8L1389.0 1308.8L1391.0 1309.8L1393.0 1310.8L1395.0 1311.8L1397.0 1312.7L1399.0 1313.6L1401.0 1314.6L1403.0 1315.5L1405.0 1316.4L1407.0 1317.3L1409.0 1318.2L1411.0 1319.0L1413.0 1319.9L1415.0 1320.7L1417.0 1321.6L1419.0 1322.4L1421.0 1323.2L1423.0 1324.0L1425.0 1324.7L1427.0 1325.5L1429.0 1326.3L1431.0 1327.0L1433.0 1327.7L1435.0 1328.4L1437.0 1329.1L1439.0 1329.8L1441.0 1330.5L1443.0 1331.2L1445.0 1331.8L1447.0 1332.4L1449.0 1333.1L1451.0 1333.7L1453.0 1334.3L1455.0 1334.9L1457.0 1335.4L1459.0 1336.0L1461.0 1336.5L1463.0 1337.1L1465.0 1337.6L1467.0 1338.1L1469.0 1338.6L1471.0 1339.1L1473.0 1339.6L1475.0 1340.0L1477.0 1340.5L1479.0 1340.9L1481.0 1341.4L1483.0 1341.8L1485.0 1342.2L1487.0 1342.6L1489.0 1343.0L1491.0 1343.4L1493.0 1343.7L1495.0 1344.1L1497.0 1344.4L1499.0 1344.8L1501.0 1345.1L1503.0 1345.4L1505.0 1345.7L1507.0 1346.0L1509.0 1346.3L1511.0 1346.6L1513.0 1346.9L1515.0 1347.1L1517.0 1347.4L1519.0 1347.7L1521.0 1347.9L1523.0 1348.1L1525.0 1348.4L1527.0 1348.6L1529.0 1348.8L1531.0 1349.0L1533.0 1349.2L1535.0 1349.4L1537.0 1349.6L1539.0 1349.8L1541.0 1349.9L1543.0 1350.1L1545.0 1350.3L1547.0 1350.4L1549.0 1350.6L1551.0 1350.7L1553.0 1350.9L1555.0 1351.0L1557.0 1351.1L1559.0 1351.3L1561.0 1351.4L1563.0 1351.5L1565.0 1351.6L1567.0 1351.7L1569.0 1351.8L1571.0 1351.9L1573.0 1352.0L1575.0 1352.1L1577.0 1352.2L1579.0 1352.3L1581.0 1352.4L1583.0 1352.5L1585.0 1352.6L1587.0 1352.6L1589.0 1352.7L1591.0 1352.8L1593.0 1352.8L1595.0 1352.9L1597.0 1353.0L1599.0 1353.0L1601.0 1353.1L1603.0 1353.1L1605.0 1353.2L1607.0 1353.2L1609.0 1353.3L1611.0 1353.3L1613.0 1353.4L1615.0 1353.4L1617.0 1353.4L1619.0 1353.5L1621.0 1353.5L1623.0 1353.5L1625.0 1353.6L1627.0 1353.6L1629.0 1353.6L1631.0 1353.7L1633.0 1353.7L1635.0 1353.7L1637.0 1353.7L1639.0 1353.8L1641.0 1353.8L1643.0 1353.8L1645.0 1353.8L1647.0 1353.8L1649.0 1353.9L1651.0 1353.9L1653.0 1353.9L1655.0 1353.9L1657.0 1353.9L1659.0 1353.9L1661.0 1354.0L1663.0 1354.0L1665.0 1354.0L1667.0 1354.0L1669.0 1354.0L1671.0 1354.0L1673.0 1354.0L1675.0 1354.0L1677.0 1354.0L1679.0 1354.1L1681.0 1354.1L1683.0 1354.1L1685.0 1354.1L1687.0 1354.1L1689.0 1354.1L1691.0 1354.1L1693.0 1354.1L1695.0 1354.1L1697.0 1354.1L1699.0 1354.1L1701.0 1354.1L1703.0 1354.1L1705.0 1354.1L1707.0 1354.1L1709.0 1354.1L1711.0 1354.1L1713.0 1354.1L1715.0 1354.2L1717.0 1354.2L1719.0 1354.2L1721.0 1354.2L1723.0 1354.2L1725.0 1354.2L1727.0 1354.2L1729.0 1354.2L1731.0 1354.2L1733.0 1354.2L1735.0 1354.2L1737.0 1354.2L1739.0 1354.2L1741.0 1354.2L1743.0 1354.2L1745.0 1354.2L1747.0 1354.2L1749.0 1354.2L1751.0 1354.2L1753.0 1354.2L1755.0 1354.2L1757.0 1354.2L1759.0 1354.2L1761.0 1354.2L1763.0 1354.2L1765.0 1354.2L1767.0 1354.2L1769.0 1354.2L1771.0 1354.2L1773.0 1354.2L1775.0 1354.2L1777.0 1354.2L1779.0 1354.2L1781.0 1354.2L1783.0 1354.2L1785.0 1354.2L1787.0 1354.2L1789.0 1354.2L1791.0 1354.2L1793.0 1354.2L1795.0 1354.2L1797.0 1354.2L1799.0 1354.2L1801.0 1354.2L1803.0 1354.2L1805.0 1354.2L1807.0 1354.2L1809.0 1354.2L1811.0 1354.2L1813.0 1354.2L1815.0 1354.2L1817.0 1354.2L1819.0 1354.2L1821.0 1354.2L1823.0 1354.2L1825.0 1354.2L1827.0 1354.2L1829.0 1354.2L1831.0 1354.2L1833.0 1354.2L1835.0 1354.2L1837.0 1354.2L1839.0 1354.2L1841.0 1354.2L1843.0 1354.2L1845.0 1354.2L1847.0 1354.2L1849.0 1354.2L1851.0 1354.2L1853.0 1354.2L1855.0 1354.2L1857.0 1354.2L1859.0 1354.2L1861.0 1354.2L1863.0 1354.2L1865.0 1354.2L1867.0 1354.2L1869.0 1354.2L1871.0 1354.2L1873.0 1354.2L1875.0 1354.2L1877.0 1354.2L1879.0 1354.2L1881.0 1354.2L1883.0 1354.2L1885.0 1354.2L1887.0 1354.2L1889.0 1354.2L1891.0 1354.2L1893.0 1354.2L1895.0 1354.2L1897.0 1354.2L1899.0 1354.2L1901.0 1354.2L1903.0 1354.2L1905.0 1354.2L1907.0 1354.2L1909.0 1354.2L1911.0 1354.2L1913.0 1354.2L1915.0 1354.2L1917.0 1354.2L1919.0 1354.2L1921.0 1354.2L1923.0 1354.2L1925.0 1354.2L1927.0 1354.2L1929.0 1354.2L1931.0 1354.2L1933.0 1354.2L1935.0 1354.2L1937.0 1354.2L1939.0 1354.2L1941.0 1354.2L1943.0 1354.2L1945.0 1354.2L1947.0 1354.2L1949.0 1354.2L1951.0 1354.2L1953.0 1354.2L1955.0 1354.2L1957.0 1354.2L1959.0 1354.2L1961.0 1354.2L1963.0 1354.2" fill="none" stroke="#FF8811" stroke-width="11.4" stroke-linecap="round" stroke-linejoin="round" stroke-dasharray="43.6 56.8" stroke-dashoffset="89.20"/>
<path d="M541.0 1277.2L543.0 1275.1L545.0 1273.0L547.0 1270.9L549.0 1268.8L551.0 1266.7L553.0 1264.5L555.0 1262.4L557.0 1260.2L559.0 1258.1L561.0 1255.9L563.0 1253.7L565.0 1251.6L567.0 1249.4L569.0 1247.3L571.0 1245.1L573.0 1243.0L575.0 1240.8L577.0 1238.7L579.0 1236.6L581.0 1234.6L583.0 1232.5L585.0 1230.5L587.0 1228.5L589.0 1226.5L591.0 1224.6L593.0 1222.6L595.0 1220.8L597.0 1218.9L599.0 1217.1L601.0 1215.4L603.0 1213.7L605.0 1212.0L607.0 1210.4L609.0 1208.8L611.0 1207.3L613.0 1205.9L615.0 1204.5L617.0 1203.1L619.0 1201.8L621.0 1200.6L623.0 1199.5L625.0 1198.4L627.0 1197.4L629.0 1196.4L631.0 1195.5L633.0 1194.7L635.0 1194.0L637.0 1193.3L639.0 1192.7L641.0 1192.2L643.0 1191.8L645.0 1191.4L647.0 1191.1L649.0 1190.9L651.0 1190.8L653.0 1190.7L655.0 1190.7L657.0 1190.8L659.0 1191.0L661.0 1191.3L663.0 1191.6L665.0 1192.0L667.0 1192.5L669.0 1193.1L671.0 1193.7L673.0 1194.4L675.0 1195.2L677.0 1196.0L679.0 1197.0L681.0 1198.0L683.0 1199.0L685.0 1200.1L687.0 1201.3L689.0 1202.6L691.0 1203.9L693.0 1205.3L695.0 1206.7L697.0 1208.2L699.0 1209.8L701.0 1211.4L703.0 1213.0L705.0 1214.7L707.0 1216.4L709.0 1218.2L711.0 1220.0L713.0 1221.9L715.0 1223.8L717.0 1225.7L719.0 1227.7L721.0 1229.7L723.0 1231.7L725.0 1233.7L727.0 1235.8L729.0 1237.9L731.0 1240.0L733.0 1242.1L735.0 1244.3L737.0 1246.4L739.0 1248.5L741.0 1250.7L743.0 1252.9L745.0 1255.0L747.0 1257.2L749.0 1259.4L751.0 1261.5L753.0 1263.7L755.0 1265.8L757.0 1268.0L759.0 1270.1L761.0 1272.2L763.0 1274.3L765.0 1276.4L767.0 1278.4L769.0 1280.5L771.0 1282.5L773.0 1284.5L775.0 1286.5L777.0 1288.4L779.0 1290.3L781.0 1292.2L783.0 1294.1L785.0 1295.9L787.0 1297.8L789.0 1299.5L791.0 1301.3L793.0 1303.0L795.0 1304.7L797.0 1306.4L799.0 1308.0L801.0 1309.6L803.0 1311.1L805.0 1312.6L807.0 1314.1L809.0 1315.6L811.0 1317.0L813.0 1318.4L815.0 1319.7L817.0 1321.0L819.0 1322.3L821.0 1323.5L823.0 1324.7L825.0 1325.9L827.0 1327.1L829.0 1328.2L831.0 1329.2L833.0 1330.3L835.0 1331.3L837.0 1332.3L839.0 1333.2L841.0 1334.1L843.0 1335.0L845.0 1335.9L847.0 1336.7L849.0 1337.5L851.0 1338.2L853.0 1339.0L855.0 1339.7L857.0 1340.4L859.0 1341.0L861.0 1341.7L863.0 1342.3L865.0 1342.9L867.0 1343.4L869.0 1344.0L871.0 1344.5L873.0 1345.0L875.0 1345.4L877.0 1345.9L879.0 1346.3L881.0 1346.7L883.0 1347.1L885.0 1347.5L887.0 1347.9L889.0 1348.2L891.0 1348.5L893.0 1348.9L895.0 1349.2L897.0 1349.4L899.0 1349.7L901.0 1350.0L903.0 1350.2L905.0 1350.4L907.0 1350.7L909.0 1350.9L911.0 1351.1L913.0 1351.3L915.0 1351.4L917.0 1351.6L919.0 1351.8L921.0 1351.9L923.0 1352.0L925.0 1352.2L927.0 1352.3L929.0 1352.4L931.0 1352.5L933.0 1352.7L935.0 1352.8L937.0 1352.8L939.0 1352.9L941.0 1353.0L943.0 1353.1L945.0 1353.2L947.0 1353.2L949.0 1353.3L951.0 1353.4L953.0 1353.4L955.0 1353.5L957.0 1353.5L959.0 1353.6L961.0 1353.6L963.0 1353.7L965.0 1353.7L967.0 1353.7L969.0 1353.8L971.0 1353.8L973.0 1353.8L975.0 1353.9L977.0 1353.9L979.0 1353.9L981.0 1353.9L983.0 1353.9L985.0 1354.0L987.0 1354.0L989.0 1354.0L991.0 1354.0L993.0 1354.0L995.0 1354.0L997.0 1354.1L999.0 1354.1L1001.0 1354.1L1003.0 1354.1L1005.0 1354.1L1007.0 1354.1L1009.0 1354.1L1011.0 1354.1L1013.0 1354.1L1015.0 1354.1L1017.0 1354.1L1019.0 1354.1L1021.0 1354.1L1023.0 1354.2L1025.0 1354.2L1027.0 1354.2L1029.0 1354.2L1031.0 1354.2L1033.0 1354.2L1035.0 1354.2L1037.0 1354.2L1039.0 1354.2L1041.0 1354.2L1043.0 1354.2L1045.0 1354.2L1047.0 1354.2L1049.0 1354.2L1051.0 1354.2L1053.0 1354.2L1055.0 1354.2L1057.0 1354.2L1059.0 1354.2L1061.0 1354.2L1063.0 1354.2L1065.0 1354.2L1067.0 1354.2L1069.0 1354.2L1071.0 1354.2L1073.0 1354.2L1075.0 1354.2L1077.0 1354.2L1079.0 1354.2L1081.0 1354.2L1083.0 1354.2L1085.0 1354.2L1087.0 1354.2L1089.0 1354.2L1091.0 1354.2L1093.0 1354.2L1095.0 1354.2L1097.0 1354.2L1099.0 1354.2L1101.0 1354.2L1103.0 1354.2L1105.0 1354.2L1107.0 1354.2L1109.0 1354.2L1111.0 1354.2L1113.0 1354.2L1115.0 1354.2L1117.0 1354.2L1119.0 1354.2L1121.0 1354.2L1123.0 1354.2L1125.0 1354.2L1127.0 1354.2L1129.0 1354.2L1131.0 1354.2L1133.0 1354.2L1135.0 1354.2L1137.0 1354.2L1139.0 1354.2L1141.0 1354.2L1143.0 1354.2L1145.0 1354.2L1147.0 1354.2L1149.0 1354.2L1151.0 1354.2L1153.0 1354.2L1155.0 1354.2L1157.0 1354.2L1159.0 1354.2L1161.0 1354.2L1163.0 1354.2L1165.0 1354.2L1167.0 1354.2L1169.0 1354.2L1171.0 1354.2L1173.0 1354.2L1175.0 1354.2L1177.0 1354.2L1179.0 1354.2L1181.0 1354.2L1183.0 1354.2L1185.0 1354.2L1187.0 1354.2L1189.0 1354.2L1191.0 1354.2L1193.0 1354.2L1195.0 1354.2L1197.0 1354.2L1199.0 1354.2L1201.0 1354.2L1203.0 1354.2L1205.0 1354.2L1207.0 1354.2L1209.0 1354.2L1211.0 1354.2L1213.0 1354.2L1215.0 1354.2L1217.0 1354.2L1219.0 1354.2L1221.0 1354.2L1223.0 1354.2L1225.0 1354.2L1227.0 1354.2L1229.0 1354.2L1231.0 1354.2L1233.0 1354.2L1235.0 1354.2L1237.0 1354.2L1239.0 1354.2L1241.0 1354.2L1243.0 1354.2L1245.0 1354.2L1247.0 1354.2L1249.0 1354.2L1251.0 1354.2L1253.0 1354.2L1255.0 1354.2L1257.0 1354.2L1259.0 1354.2L1261.0 1354.2L1263.0 1354.2L1265.0 1354.2L1267.0 1354.2L1269.0 1354.2L1271.0 1354.2L1273.0 1354.2L1275.0 1354.2L1277.0 1354.2L1279.0 1354.2L1281.0 1354.2L1283.0 1354.2L1285.0 1354.2L1287.0 1354.2L1289.0 1354.2L1291.0 1354.2L1293.0 1354.2L1295.0 1354.2L1297.0 1354.2L1299.0 1354.2L1301.0 1354.2L1303.0 1354.2L1305.0 1354.2L1307.0 1354.2L1309.0 1354.2L1311.0 1354.2L1313.0 1354.2L1315.0 1354.2L1317.0 1354.2L1319.0 1354.2L1321.0 1354.2L1323.0 1354.2L1325.0 1354.2L1327.0 1354.2L1329.0 1354.2L1331.0 1354.2L1333.0 1354.2L1335.0 1354.2L1337.0 1354.2L1339.0 1354.2L1341.0 1354.2L1343.0 1354.2L1345.0 1354.2L1347.0 1354.2L1349.0 1354.2L1351.0 1354.2L1353.0 1354.2L1355.0 1354.2L1357.0 1354.2L1359.0 1354.2L1361.0 1354.2L1363.0 1354.2L1365.0 1354.2L1367.0 1354.2L1369.0 1354.2L1371.0 1354.2L1373.0 1354.2L1375.0 1354.2L1377.0 1354.2L1379.0 1354.2L1381.0 1354.2L1383.0 1354.2L1385.0 1354.2L1387.0 1354.2L1389.0 1354.2L1391.0 1354.2L1393.0 1354.2L1395.0 1354.2L1397.0 1354.2L1399.0 1354.2L1401.0 1354.2L1403.0 1354.2L1405.0 1354.2L1407.0 1354.2L1409.0 1354.2L1411.0 1354.2L1413.0 1354.2L1415.0 1354.2L1417.0 1354.2L1419.0 1354.2L1421.0 1354.2L1423.0 1354.2L1425.0 1354.2L1427.0 1354.2L1429.0 1354.2L1431.0 1354.2L1433.0 1354.2L1435.0 1354.2L1437.0 1354.2L1439.0 1354.2L1441.0 1354.2L1443.0 1354.2L1445.0 1354.2L1447.0 1354.2L1449.0 1354.2L1451.0 1354.2L1453.0 1354.2L1455.0 1354.2L1457.0 1354.2L1459.0 1354.2L1461.0 1354.2L1463.0 1354.2L1465.0 1354.2L1467.0 1354.2L1469.0 1354.2L1471.0 1354.2L1473.0 1354.2L1475.0 1354.2L1477.0 1354.2L1479.0 1354.2L1481.0 1354.2L1483.0 1354.2L1485.0 1354.2L1487.0 1354.2L1489.0 1354.2L1491.0 1354.2L1493.0 1354.2L1495.0 1354.2L1497.0 1354.2L1499.0 1354.2L1501.0 1354.2L1503.0 1354.2L1505.0 1354.2L1507.0 1354.2L1509.0 1354.2L1511.0 1354.2L1513.0 1354.2L1515.0 1354.2L1517.0 1354.2L1519.0 1354.2L1521.0 1354.2L1523.0 1354.2L1525.0 1354.2L1527.0 1354.2L1529.0 1354.2L1531.0 1354.2L1533.0 1354.2L1535.0 1354.2L1537.0 1354.2L1539.0 1354.2L1541.0 1354.2L1543.0 1354.2L1545.0 1354.2L1547.0 1354.2L1549.0 1354.2L1551.0 1354.2L1553.0 1354.2L1555.0 1354.2L1557.0 1354.2L1559.0 1354.2L1561.0 1354.2L1563.0 1354.2L1565.0 1354.2L1567.0 1354.2L1569.0 1354.2L1571.0 1354.2L1573.0 1354.2L1575.0 1354.2L1577.0 1354.2L1579.0 1354.2L1581.0 1354.2L1583.0 1354.2L1585.0 1354.2L1587.0 1354.2L1589.0 1354.2L1591.0 1354.2L1593.0 1354.2L1595.0 1354.2L1597.0 1354.2L1599.0 1354.2L1601.0 1354.2L1603.0 1354.2L1605.0 1354.2L1607.0 1354.2L1609.0 1354.2L1611.0 1354.2L1613.0 1354.2L1615.0 1354.2L1617.0 1354.2L1619.0 1354.2L1621.0 1354.2L1623.0 1354.2L1625.0 1354.2L1627.0 1354.2L1629.0 1354.2L1631.0 1354.2L1633.0 1354.2L1635.0 1354.2L1637.0 1354.2L1639.0 1354.2L1641.0 1354.2L1643.0 1354.2L1645.0 1354.2L1647.0 1354.2L1649.0 1354.2L1651.0 1354.2L1653.0 1354.2L1655.0 1354.2L1657.0 1354.2L1659.0 1354.2L1661.0 1354.2L1663.0 1354.2L1665.0 1354.2L1667.0 1354.2L1669.0 1354.2L1671.0 1354.2L1673.0 1354.2L1675.0 1354.2L1677.0 1354.2L1679.0 1354.2L1681.0 1354.2L1683.0 1354.2L1685.0 1354.2L1687.0 1354.2L1689.0 1354.2L1691.0 1354.2L1693.0 1354.2L1695.0 1354.2L1697.0 1354.2L1699.0 1354.2L1701.0 1354.2L1703.0 1354.2L1705.0 1354.2L1707.0 1354.2L1709.0 1354.2L1711.0 1354.2L1713.0 1354.2L1715.0 1354.2L1717.0 1354.2L1719.0 1354.2L1721.0 1354.2L1723.0 1354.2L1725.0 1354.2L1727.0 1354.2L1729.0 1354.2L1731.0 1354.2L1733.0 1354.2L1735.0 1354.2L1737.0 1354.2L1739.0 1354.2L1741.0 1354.2L1743.0 1354.2L1745.0 1354.2L1747.0 1354.2L1749.0 1354.2L1751.0 1354.2L1753.0 1354.2L1755.0 1354.2L1757.0 1354.2L1759.0 1354.2L1761.0 1354.2L1763.0 1354.2L1765.0 1354.2L1767.0 1354.2L1769.0 1354.2L1771.0 1354.2L1773.0 1354.2L1775.0 1354.2L1777.0 1354.2L1779.0 1354.2L1781.0 1354.2L1783.0 1354.2L1785.0 1354.2L1787.0 1354.2L1789.0 1354.2L1791.0 1354.2L1793.0 1354.2L1795.0 1354.2L1797.0 1354.2L1799.0 1354.2L1801.0 1354.2L1803.0 1354.2L1805.0 1354.2L1807.0 1354.2L1809.0 1354.2L1811.0 1354.2L1813.0 1354.2L1815.0 1354.2L1817.0 1354.2L1819.0 1354.2L1821.0 1354.2L1823.0 1354.2L1825.0 1354.2L1827.0 1354.2L1829.0 1354.2L1831.0 1354.2L1833.0 1354.2L1835.0 1354.2L1837.0 1354.2L1839.0 1354.2L1841.0 1354.2L1843.0 1354.2L1845.0 1354.2L1847.0 1354.2L1849.0 1354.2L1851.0 1354.2L1853.0 1354.2L1855.0 1354.2L1857.0 1354.2L1859.0 1354.2L1861.0 1354.2L1863.0 1354.2L1865.0 1354.2L1867.0 1354.2L1869.0 1354.2L1871.0 1354.2L1873.0 1354.2L1875.0 1354.2L1877.0 1354.2L1879.0 1354.2L1881.0 1354.2L1883.0 1354.2L1885.0 1354.2L1887.0 1354.2L1889.0 1354.2L1891.0 1354.2L1893.0 1354.2L1895.0 1354.2L1897.0 1354.2L1899.0 1354.2L1901.0 1354.2L1903.0 1354.2L1905.0 1354.2L1907.0 1354.2L1909.0 1354.2L1911.0 1354.2L1913.0 1354.2L1915.0 1354.2L1917.0 1354.2L1919.0 1354.2L1921.0 1354.2L1923.0 1354.2L1925.0 1354.2L1927.0 1354.2L1929.0 1354.2L1931.0 1354.2L1933.0 1354.2L1935.0 1354.2L1937.0 1354.2L1939.0 1354.2L1941.0 1354.2L1943.0 1354.2L1945.0 1354.2L1947.0 1354.2L1949.0 1354.2L1951.0 1354.2L1953.0 1354.2L1955.0 1354.2L1957.0 1354.2L1959.0 1354.2L1961.0 1354.2L1963.0 1354.2" fill="none" stroke="#FF9A33" stroke-width="11.4" stroke-linecap="round" stroke-linejoin="round" stroke-dasharray="43.6 56.8" stroke-dashoffset="79.95"/><path d="M295.0 1354.1L297.0 1354.1L299.0 1354.1L301.0 1354.1L303.0 1354.1L305.0 1354.1L307.0 1354.1L309.0 1354.1L311.0 1354.0L313.0 1354.0L315.0 1354.0L317.0 1354.0L319.0 1354.0L321.0 1354.0L323.0 1354.0L325.0 1353.9L327.0 1353.9L329.0 1353.9L331.0 1353.9L333.0 1353.8L335.0 1353.8L337.0 1353.8L339.0 1353.7L341.0 1353.7L343.0 1353.7L345.0 1353.6L347.0 1353.6L349.0 1353.5L351.0 1353.5L353.0 1353.4L355.0 1353.4L357.0 1353.3L359.0 1353.3L361.0 1353.2L363.0 1353.1L365.0 1353.0L367.0 1353.0L369.0 1352.9L371.0 1352.8L373.0 1352.7L375.0 1352.6L377.0 1352.5L379.0 1352.4L381.0 1352.2L383.0 1352.1L385.0 1352.0L387.0 1351.8L389.0 1351.7L391.0 1351.5L393.0 1351.3L395.0 1351.1L397.0 1350.9L399.0 1350.7L401.0 1350.5L403.0 1350.3L405.0 1350.1L407.0 1349.8L409.0 1349.5L411.0 1349.3L413.0 1349.0L415.0 1348.7L417.0 1348.3L419.0 1348.0L421.0 1347.7L423.0 1347.3L425.0 1346.9L427.0 1346.5L429.0 1346.1L431.0 1345.6L433.0 1345.2L435.0 1344.7L437.0 1344.2L439.0 1343.6L441.0 1343.1L443.0 1342.5L445.0 1341.9L447.0 1341.3L449.0 1340.6L451.0 1340.0L453.0 1339.3L455.0 1338.5L457.0 1337.8L459.0 1337.0L461.0 1336.2L463.0 1335.3L465.0 1334.5L467.0 1333.6L469.0 1332.6L471.0 1331.7L473.0 1330.7L475.0 1329.7L477.0 1328.6L479.0 1327.5L481.0 1326.4L483.0 1325.2L485.0 1324.0L487.0 1322.8L489.0 1321.5L491.0 1320.2L493.0 1318.9L495.0 1317.5L497.0 1316.1L499.0 1314.7L501.0 1313.2L503.0 1311.7L505.0 1310.2L507.0 1308.6L509.0 1307.0L511.0 1305.4L513.0 1303.7L515.0 1302.0L517.0 1300.2L519.0 1298.5L521.0 1296.7L523.0 1294.8L525.0 1293.0L527.0 1291.1L529.0 1289.2L531.0 1287.2L533.0 1285.3L535.0 1283.3L537.0 1281.3L539.0 1279.2" fill="none" stroke="#FF9A33" stroke-width="11.4" stroke-linecap="round" stroke-linejoin="round" stroke-dasharray="43.6 56.8" stroke-dashoffset="24.38"/>
</g>
<line x1="637.6" y1="234.4" x2="637.6" y2="1237.6" stroke="#000" stroke-width="8.4" stroke-linecap="round" stroke-dasharray="28.10 41.65"/>
<line x1="873.5" y1="505.9" x2="873.5" y2="1219.2" stroke="#000" stroke-width="8.4" stroke-linecap="round" stroke-dasharray="28.10 41.65"/>
<line x1="986.8" y1="561.8" x2="986.8" y2="1217.3" stroke="#000" stroke-width="8.4" stroke-linecap="round" stroke-dasharray="28.10 41.65"/>
<line x1="1214.4" y1="514.2" x2="1214.4" y2="1224.4" stroke="#000" stroke-width="8.4" stroke-linecap="round" stroke-dasharray="28.10 41.65"/>
<g font-family="Liberation Serif, Times New Roman, serif" font-weight="bold" fill="#000">
<text x="608.5" y="207.8" font-size="76.7">NO<tspan x="722" y="228.9" font-size="51.4">2</tspan></text>
<text x="820.8" y="417.8" font-size="76.7">NO<tspan x="934.1" y="437.9" font-size="51.4">3</tspan><tspan x="961.2" y="388.9" font-size="51.4">-</tspan></text>
<text x="975.6" y="491.4" font-size="76.7">NO<tspan x="1088.8" y="510.3" font-size="51.4">3</tspan><tspan x="1116" y="461" font-size="51.4">-</tspan></text>
<text x="1178.5" y="455.7" font-size="76.7">NO<tspan x="1291.3" y="476" font-size="51.4">3</tspan><tspan x="1317.9" y="425.7" font-size="51.4">-</tspan></text>
<text x="1556.1" y="632" font-size="76.7">2.3Cu-IM-5</text>
<text x="1564.4" y="991" font-size="76.7">1.8Cu-IM-5</text>
<text x="1566.4" y="1313.6" font-size="76.7">1.4Cu-IM-5</text>
<text x="700.6" y="1671.8" font-size="97">Wavenumber<tspan x="1287.6">(cm</tspan><tspan x="1442.3" y="1631.5" font-size="65.5">-1</tspan><tspan x="1495.9" y="1671.8">)</tspan></text>
<text transform="translate(125 1106.5) rotate(-90)" x="0" y="0" font-size="96.4">Kubelka-Munk</text>
</g>
</svg>
</body></html>
